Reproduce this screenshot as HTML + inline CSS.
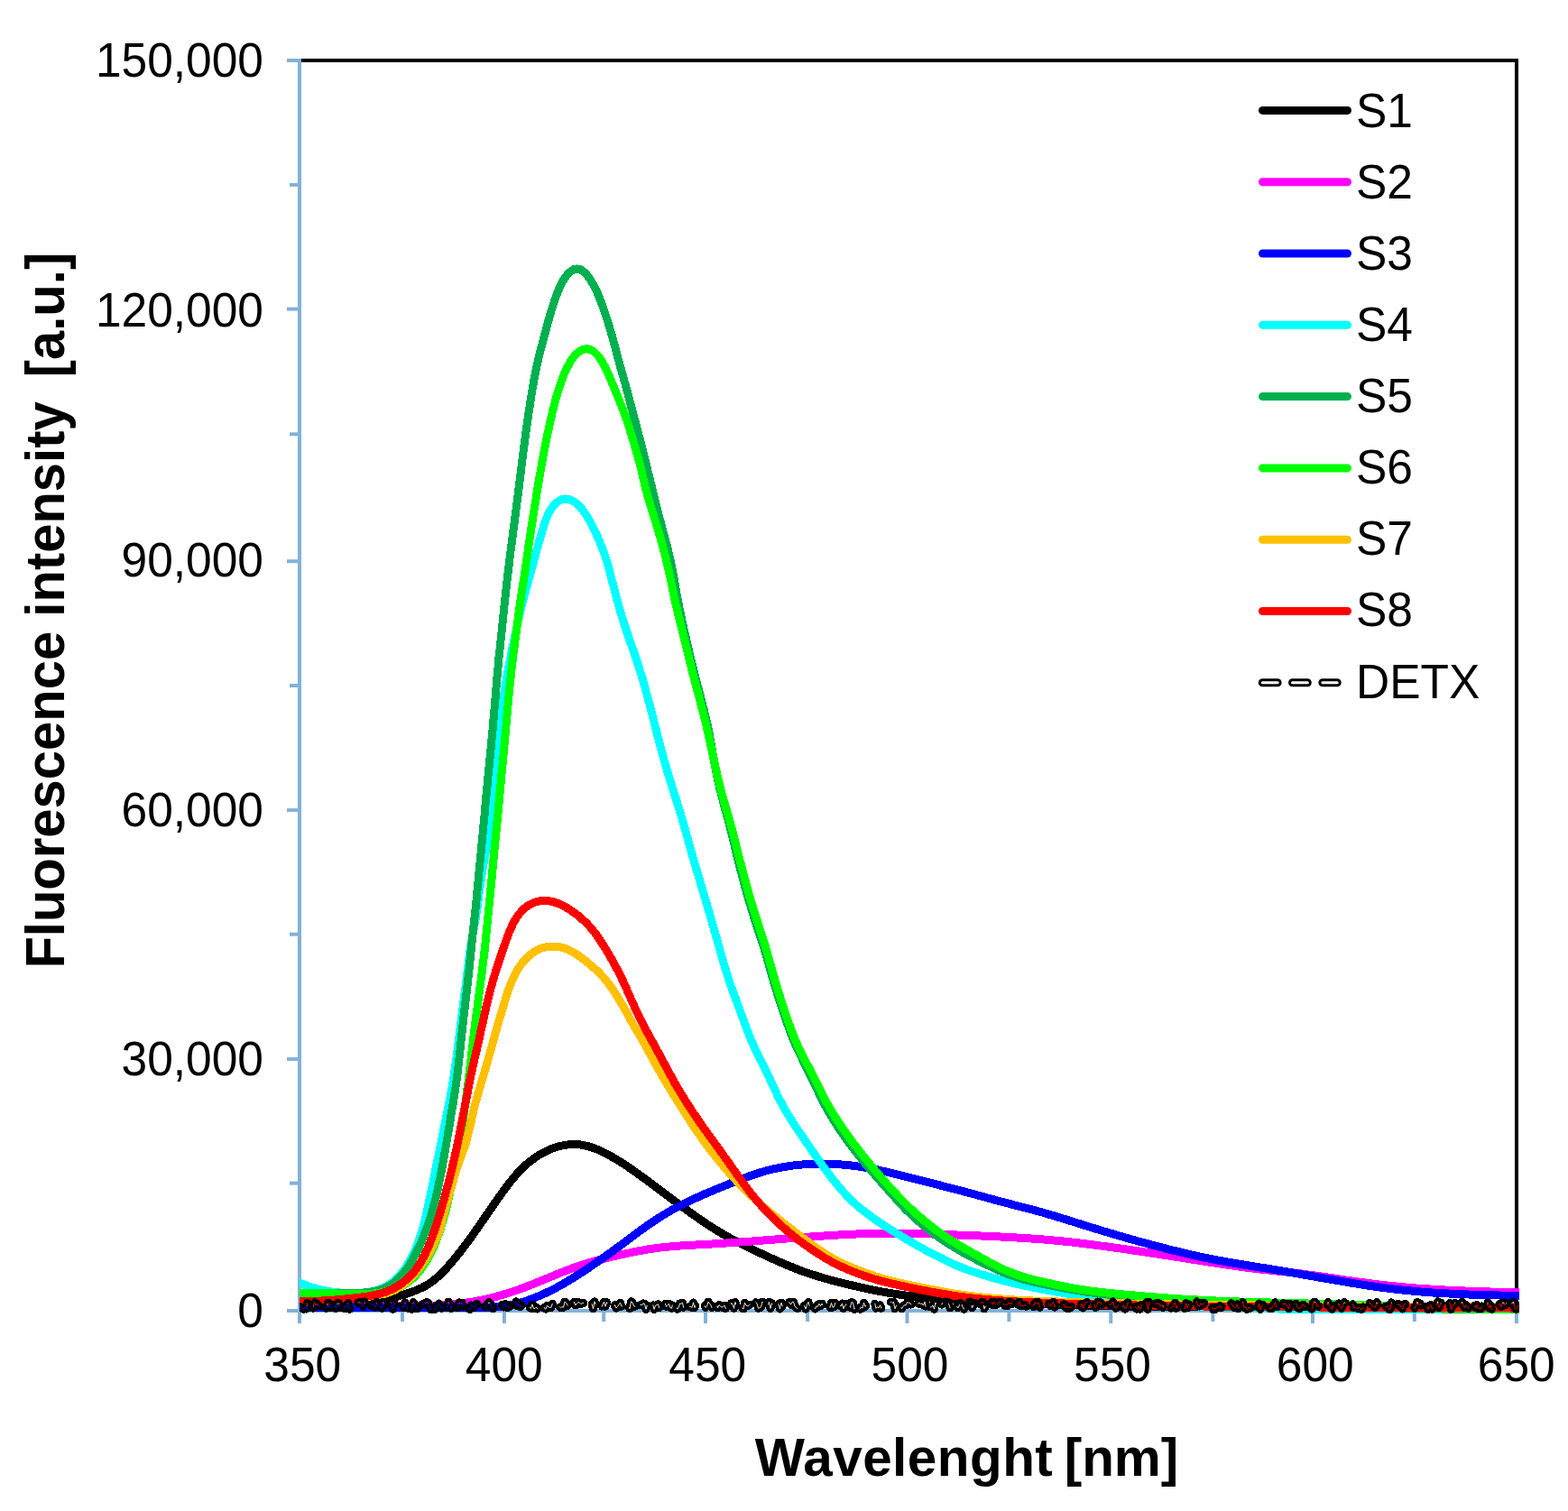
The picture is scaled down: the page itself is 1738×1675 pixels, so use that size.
<!DOCTYPE html>
<html><head><meta charset="utf-8"><title>Fluorescence spectra</title>
<style>
html,body{margin:0;padding:0;background:#fff;}
svg{display:block;}
text{font-family:'Liberation Sans',Arial,sans-serif;fill:#000;}
</style></head><body>
<svg width="1738" height="1675" viewBox="0 0 1738 1675">
<rect x="0" y="0" width="1738" height="1675" fill="#fff"/>

<defs><clipPath id="pc"><rect x="332" y="60" width="1352" height="1396"/></clipPath></defs>
<path d="M332,67 H1681 V1453" fill="none" stroke="#000" stroke-width="4"/>
<g stroke="#82B1D9" stroke-width="4" fill="none">
<path d="M332,65 V1455"/>
<path d="M330,1453 H1683"/>
<path d="M318,1453.0 H332"/>
<path d="M321,1311.6 H332"/>
<path d="M318,1174.1 H332"/>
<path d="M321,1035.7 H332"/>
<path d="M318,898.1 H332"/>
<path d="M321,760.0 H332"/>
<path d="M318,622.2 H332"/>
<path d="M321,481.3 H332"/>
<path d="M318,342.6 H332"/>
<path d="M321,204.9 H332"/>
<path d="M318,67.0 H332"/>
<path d="M332.0,1453 V1467"/>
<path d="M446.0,1453 V1465"/>
<path d="M559.0,1453 V1467"/>
<path d="M669.2,1453 V1465"/>
<path d="M782.0,1453 V1467"/>
<path d="M895.1,1453 V1465"/>
<path d="M1005.5,1453 V1467"/>
<path d="M1118.4,1453 V1465"/>
<path d="M1231.3,1453 V1467"/>
<path d="M1344.4,1453 V1465"/>
<path d="M1455.0,1453 V1467"/>
<path d="M1567.8,1453 V1465"/>
<path d="M1680.9,1453 V1467"/>
</g>
<g clip-path="url(#pc)" shape-rendering="crispEdges" fill="none" stroke-width="9" stroke-linejoin="round" stroke-linecap="round">
<path stroke="#000000" d="M330.0,1449.1 L332.0,1449.1 L334.0,1449.0 L336.0,1449.0 L338.0,1449.0 L340.0,1448.9 L342.0,1448.9 L344.0,1448.9 L346.0,1448.8 L348.0,1448.8 L350.0,1448.7 L352.1,1448.7 L354.1,1448.6 L356.1,1448.5 L358.1,1448.5 L360.1,1448.4 L362.1,1448.3 L364.1,1448.3 L366.1,1448.2 L368.1,1448.1 L370.1,1448.0 L372.1,1447.9 L374.1,1447.8 L376.1,1447.7 L378.1,1447.5 L380.1,1447.4 L382.1,1447.3 L384.1,1447.1 L386.1,1447.0 L388.1,1446.8 L390.1,1446.6 L392.1,1446.4 L394.1,1446.2 L396.1,1446.0 L398.0,1445.8 L400.0,1445.6 L402.0,1445.4 L404.0,1445.1 L406.0,1444.8 L408.0,1444.6 L410.0,1444.3 L411.9,1443.9 L413.9,1443.6 L415.9,1443.3 L417.8,1442.9 L419.8,1442.5 L421.8,1442.1 L423.7,1441.7 L425.7,1441.2 L427.6,1440.8 L429.6,1440.3 L431.5,1439.8 L433.4,1439.3 L435.4,1438.7 L437.3,1438.2 L439.2,1437.6 L441.2,1437.1 L443.1,1436.5 L445.0,1435.9 L446.9,1435.3 L448.8,1434.7 L450.7,1434.1 L452.6,1433.5 L454.5,1432.8 L456.3,1432.2 L458.2,1431.5 L460.0,1430.8 L461.9,1430.1 L463.7,1429.3 L465.4,1428.5 L467.2,1427.7 L469.0,1426.8 L470.7,1425.9 L472.4,1425.0 L474.0,1423.9 L475.7,1422.9 L477.3,1421.8 L478.8,1420.7 L480.4,1419.5 L481.9,1418.2 L483.5,1417.0 L484.9,1415.7 L486.4,1414.4 L487.9,1413.0 L489.3,1411.6 L490.7,1410.2 L492.1,1408.8 L493.5,1407.4 L494.8,1405.9 L496.2,1404.4 L497.5,1402.9 L498.8,1401.4 L500.1,1399.9 L501.4,1398.3 L502.7,1396.8 L504.0,1395.2 L505.3,1393.7 L506.5,1392.1 L507.8,1390.5 L509.0,1389.0 L510.3,1387.4 L511.5,1385.8 L512.7,1384.2 L514.0,1382.6 L515.2,1381.0 L516.4,1379.4 L517.6,1377.8 L518.8,1376.2 L520.0,1374.5 L521.1,1372.9 L522.3,1371.3 L523.5,1369.7 L524.6,1368.0 L525.8,1366.4 L526.9,1364.7 L528.1,1363.1 L529.2,1361.5 L530.4,1359.8 L531.5,1358.2 L532.7,1356.5 L533.8,1354.9 L535.0,1353.2 L536.1,1351.6 L537.2,1349.9 L538.4,1348.3 L539.5,1346.6 L540.7,1345.0 L541.8,1343.3 L542.9,1341.7 L544.1,1340.0 L545.2,1338.4 L546.4,1336.7 L547.5,1335.1 L548.6,1333.4 L549.8,1331.8 L550.9,1330.1 L552.1,1328.5 L553.3,1326.8 L554.4,1325.2 L555.6,1323.6 L556.8,1321.9 L557.9,1320.3 L559.1,1318.7 L560.3,1317.0 L561.5,1315.4 L562.7,1313.8 L564.0,1312.2 L565.2,1310.6 L566.4,1309.1 L567.7,1307.5 L569.0,1306.0 L570.3,1304.4 L571.6,1302.9 L572.9,1301.4 L574.3,1299.9 L575.6,1298.4 L577.0,1297.0 L578.4,1295.6 L579.9,1294.2 L581.3,1292.8 L582.8,1291.4 L584.3,1290.1 L585.8,1288.8 L587.4,1287.5 L589.0,1286.3 L590.6,1285.1 L592.2,1283.9 L593.8,1282.8 L595.5,1281.6 L597.2,1280.6 L598.9,1279.5 L600.7,1278.5 L602.4,1277.6 L604.2,1276.7 L606.0,1275.8 L607.8,1275.0 L609.7,1274.2 L611.5,1273.4 L613.4,1272.7 L615.3,1272.1 L617.2,1271.5 L619.1,1270.9 L621.1,1270.4 L623.0,1270.0 L624.9,1269.6 L626.9,1269.2 L628.9,1269.0 L630.8,1268.8 L632.8,1268.6 L634.7,1268.5 L636.7,1268.5 L638.7,1268.6 L640.6,1268.7 L642.6,1268.9 L644.5,1269.1 L646.5,1269.5 L648.4,1269.9 L650.3,1270.3 L652.2,1270.8 L654.1,1271.3 L656.0,1272.0 L657.9,1272.6 L659.8,1273.3 L661.6,1274.0 L663.5,1274.8 L665.3,1275.6 L667.1,1276.5 L668.9,1277.3 L670.7,1278.2 L672.5,1279.2 L674.3,1280.1 L676.1,1281.1 L677.8,1282.1 L679.6,1283.1 L681.3,1284.1 L683.1,1285.1 L684.8,1286.2 L686.5,1287.2 L688.2,1288.3 L689.9,1289.4 L691.6,1290.5 L693.3,1291.6 L695.0,1292.7 L696.6,1293.9 L698.3,1295.0 L700.0,1296.2 L701.6,1297.3 L703.3,1298.5 L704.9,1299.6 L706.6,1300.8 L708.2,1302.0 L709.8,1303.2 L711.4,1304.4 L713.1,1305.5 L714.7,1306.7 L716.3,1307.9 L717.9,1309.1 L719.5,1310.3 L721.1,1311.5 L722.7,1312.7 L724.3,1313.9 L726.0,1315.1 L727.6,1316.3 L729.2,1317.5 L730.8,1318.7 L732.4,1319.9 L734.0,1321.1 L735.6,1322.3 L737.2,1323.5 L738.8,1324.7 L740.4,1325.9 L742.0,1327.1 L743.6,1328.3 L745.2,1329.5 L746.8,1330.7 L748.4,1331.9 L750.1,1333.1 L751.7,1334.3 L753.3,1335.5 L754.9,1336.7 L756.5,1337.9 L758.1,1339.1 L759.7,1340.2 L761.3,1341.4 L763.0,1342.6 L764.6,1343.8 L766.2,1344.9 L767.8,1346.1 L769.5,1347.3 L771.1,1348.4 L772.8,1349.6 L774.4,1350.7 L776.0,1351.9 L777.7,1353.0 L779.4,1354.1 L781.0,1355.2 L782.7,1356.4 L784.3,1357.5 L786.0,1358.6 L787.7,1359.6 L789.4,1360.7 L791.1,1361.8 L792.8,1362.8 L794.5,1363.9 L796.2,1364.9 L797.9,1366.0 L799.6,1367.0 L801.4,1368.0 L803.1,1369.0 L804.8,1370.0 L806.6,1370.9 L808.3,1371.9 L810.1,1372.9 L811.9,1373.8 L813.6,1374.8 L815.4,1375.7 L817.2,1376.6 L818.9,1377.5 L820.7,1378.5 L822.5,1379.4 L824.3,1380.3 L826.1,1381.1 L827.9,1382.0 L829.7,1382.9 L831.5,1383.8 L833.3,1384.7 L835.1,1385.5 L836.9,1386.4 L838.7,1387.2 L840.6,1388.1 L842.4,1389.0 L844.2,1389.8 L846.0,1390.7 L847.8,1391.5 L849.6,1392.4 L851.5,1393.2 L853.3,1394.0 L855.1,1394.9 L856.9,1395.7 L858.8,1396.5 L860.6,1397.3 L862.4,1398.2 L864.2,1399.0 L866.1,1399.8 L867.9,1400.6 L869.8,1401.4 L871.6,1402.1 L873.5,1402.9 L875.3,1403.7 L877.2,1404.4 L879.0,1405.2 L880.9,1405.9 L882.7,1406.6 L884.6,1407.4 L886.5,1408.1 L888.4,1408.8 L890.2,1409.5 L892.1,1410.1 L894.0,1410.8 L895.9,1411.4 L897.8,1412.1 L899.7,1412.7 L901.6,1413.3 L903.5,1413.9 L905.4,1414.5 L907.3,1415.1 L909.3,1415.7 L911.2,1416.3 L913.1,1416.8 L915.0,1417.4 L917.0,1417.9 L918.9,1418.5 L920.8,1419.0 L922.8,1419.5 L924.7,1420.0 L926.6,1420.5 L928.6,1421.0 L930.5,1421.5 L932.5,1422.0 L934.4,1422.5 L936.4,1422.9 L938.3,1423.4 L940.2,1423.9 L942.2,1424.4 L944.2,1424.8 L946.1,1425.3 L948.1,1425.7 L950.0,1426.2 L952.0,1426.6 L953.9,1427.1 L955.9,1427.5 L957.8,1427.9 L959.8,1428.4 L961.7,1428.8 L963.7,1429.2 L965.7,1429.6 L967.6,1430.0 L969.6,1430.4 L971.6,1430.8 L973.5,1431.2 L975.5,1431.5 L977.5,1431.9 L979.4,1432.2 L981.4,1432.6 L983.4,1432.9 L985.4,1433.3 L987.3,1433.6 L989.3,1433.9 L991.3,1434.2 L993.3,1434.5 L995.3,1434.8 L997.2,1435.1 L999.2,1435.4 L1001.2,1435.7 L1003.2,1435.9 L1005.2,1436.2 L1007.2,1436.5 L1009.1,1436.7 L1011.1,1436.9 L1013.1,1437.2 L1015.1,1437.4 L1017.1,1437.6 L1019.1,1437.8 L1021.1,1438.0 L1023.1,1438.2 L1025.1,1438.4 L1027.1,1438.6 L1029.1,1438.7 L1031.1,1438.9 L1033.1,1439.1 L1035.1,1439.2 L1037.1,1439.4 L1039.1,1439.6 L1041.1,1439.7 L1043.1,1439.9 L1045.1,1440.0 L1047.0,1440.1 L1049.0,1440.3 L1051.0,1440.4 L1053.0,1440.6 L1055.0,1440.7 L1057.0,1440.9 L1059.0,1441.0 L1061.0,1441.1 L1063.0,1441.3 L1065.0,1441.4 L1067.0,1441.5 L1069.0,1441.7 L1071.0,1441.8 L1073.0,1441.9 L1075.0,1442.0 L1077.0,1442.2 L1079.0,1442.3 L1081.0,1442.4 L1083.0,1442.5 L1085.0,1442.7 L1087.0,1442.8 L1089.0,1442.9 L1091.0,1443.0 L1093.0,1443.1 L1095.0,1443.2 L1097.0,1443.3 L1099.0,1443.4 L1101.0,1443.5 L1103.0,1443.6 L1105.0,1443.7 L1107.0,1443.8 L1109.0,1443.9 L1111.1,1444.0 L1113.1,1444.1 L1115.1,1444.2 L1117.1,1444.3 L1119.1,1444.4 L1121.1,1444.5 L1123.1,1444.6 L1125.1,1444.7 L1127.1,1444.8 L1129.1,1444.8 L1131.1,1444.9 L1133.1,1445.0 L1135.1,1445.1 L1137.1,1445.2 L1139.1,1445.2 L1141.1,1445.3 L1143.1,1445.4 L1145.1,1445.4 L1147.1,1445.5 L1149.1,1445.6 L1151.1,1445.7 L1153.1,1445.7 L1155.1,1445.8 L1157.1,1445.9 L1159.1,1445.9 L1161.1,1446.0 L1163.1,1446.0 L1165.1,1446.1 L1167.1,1446.2 L1169.1,1446.2 L1171.1,1446.3 L1173.1,1446.3 L1175.1,1446.4 L1177.1,1446.4 L1179.1,1446.5 L1181.1,1446.5 L1183.1,1446.6 L1185.1,1446.7 L1187.1,1446.7 L1189.1,1446.8 L1191.1,1446.8 L1193.1,1446.8 L1195.2,1446.9 L1197.2,1446.9 L1199.2,1447.0 L1201.2,1447.0 L1203.2,1447.1 L1205.2,1447.1 L1207.2,1447.2 L1209.2,1447.2 L1211.2,1447.2 L1213.2,1447.3 L1215.2,1447.3 L1217.2,1447.4 L1219.2,1447.4 L1221.2,1447.4 L1223.2,1447.5 L1225.2,1447.5 L1227.2,1447.6 L1229.2,1447.6 L1231.2,1447.6 L1233.2,1447.7 L1235.2,1447.7 L1237.2,1447.7 L1239.2,1447.8 L1241.2,1447.8 L1243.2,1447.8 L1245.2,1447.9 L1247.2,1447.9 L1249.2,1447.9 L1251.2,1448.0 L1253.2,1448.0 L1255.2,1448.0 L1257.2,1448.0 L1259.3,1448.1 L1261.3,1448.1 L1263.3,1448.1 L1265.3,1448.2 L1267.3,1448.2 L1269.3,1448.2 L1271.3,1448.2 L1273.3,1448.3 L1275.3,1448.3 L1277.3,1448.3 L1279.3,1448.3 L1281.3,1448.4 L1283.3,1448.4 L1285.3,1448.4 L1287.3,1448.4 L1289.3,1448.5 L1291.3,1448.5 L1293.3,1448.5 L1295.3,1448.5 L1297.3,1448.5 L1299.3,1448.6 L1301.3,1448.6 L1303.3,1448.6 L1305.3,1448.6 L1307.3,1448.6 L1309.3,1448.7 L1311.3,1448.7 L1313.3,1448.7 L1315.3,1448.7 L1317.4,1448.7 L1319.4,1448.8 L1321.4,1448.8 L1323.4,1448.8 L1325.4,1448.8 L1327.4,1448.8 L1329.4,1448.8 L1331.4,1448.9 L1333.4,1448.9 L1335.4,1448.9 L1337.4,1448.9 L1339.4,1448.9 L1341.4,1448.9 L1343.4,1449.0 L1345.4,1449.0 L1347.4,1449.0 L1349.4,1449.0 L1351.4,1449.0 L1353.4,1449.0 L1355.4,1449.0 L1357.4,1449.1 L1359.4,1449.1 L1361.4,1449.1 L1363.4,1449.1 L1365.4,1449.1 L1367.4,1449.1 L1369.4,1449.1 L1371.4,1449.1 L1373.4,1449.2 L1375.5,1449.2 L1377.5,1449.2 L1379.5,1449.2 L1381.5,1449.2 L1383.5,1449.2 L1385.5,1449.2 L1387.5,1449.2 L1389.5,1449.3 L1391.5,1449.3 L1393.5,1449.3 L1395.5,1449.3 L1397.5,1449.3 L1399.5,1449.3 L1401.5,1449.3 L1403.5,1449.3 L1405.5,1449.4 L1407.5,1449.4 L1409.5,1449.4 L1411.5,1449.4 L1413.5,1449.4 L1415.5,1449.4 L1417.5,1449.4 L1419.5,1449.4 L1421.5,1449.4 L1423.5,1449.4 L1425.5,1449.5 L1427.5,1449.5 L1429.5,1449.5 L1431.5,1449.5 L1433.6,1449.5 L1435.6,1449.5 L1437.6,1449.5 L1439.6,1449.5 L1441.6,1449.5 L1443.6,1449.5 L1445.6,1449.5 L1447.6,1449.5 L1449.6,1449.6 L1451.6,1449.6 L1453.6,1449.6 L1455.6,1449.6 L1457.6,1449.6 L1459.6,1449.6 L1461.6,1449.6 L1463.6,1449.6 L1465.6,1449.6 L1467.6,1449.6 L1469.6,1449.6 L1471.6,1449.6 L1473.6,1449.6 L1475.6,1449.7 L1477.6,1449.7 L1479.6,1449.7 L1481.6,1449.7 L1483.6,1449.7 L1485.6,1449.7 L1487.6,1449.7 L1489.6,1449.7 L1491.7,1449.7 L1493.7,1449.7 L1495.7,1449.7 L1497.7,1449.7 L1499.7,1449.7 L1501.7,1449.7 L1503.7,1449.7 L1505.7,1449.7 L1507.7,1449.7 L1509.7,1449.8 L1511.7,1449.8 L1513.7,1449.8 L1515.7,1449.8 L1517.7,1449.8 L1519.7,1449.8 L1521.7,1449.8 L1523.7,1449.8 L1525.7,1449.8 L1527.7,1449.8 L1529.7,1449.8 L1531.7,1449.8 L1533.7,1449.8 L1535.7,1449.8 L1537.7,1449.8 L1539.7,1449.8 L1541.7,1449.8 L1543.7,1449.8 L1545.7,1449.8 L1547.8,1449.8 L1549.8,1449.8 L1551.8,1449.8 L1553.8,1449.8 L1555.8,1449.9 L1557.8,1449.9 L1559.8,1449.9 L1561.8,1449.9 L1563.8,1449.9 L1565.8,1449.9 L1567.8,1449.9 L1569.8,1449.9 L1571.8,1449.9 L1573.8,1449.9 L1575.8,1449.9 L1577.8,1449.9 L1579.8,1449.9 L1581.8,1449.9 L1583.8,1449.9 L1585.8,1449.9 L1587.8,1449.9 L1589.8,1449.9 L1591.8,1449.9 L1593.8,1449.9 L1595.8,1449.9 L1597.8,1449.9 L1599.8,1449.9 L1601.8,1449.9 L1603.8,1449.9 L1605.9,1449.9 L1607.9,1449.9 L1609.9,1449.9 L1611.9,1449.9 L1613.9,1449.9 L1615.9,1449.9 L1617.9,1449.9 L1619.9,1449.9 L1621.9,1449.9 L1623.9,1449.9 L1625.9,1449.9 L1627.9,1449.9 L1629.9,1450.0 L1631.9,1450.0 L1633.9,1450.0 L1635.9,1450.0 L1637.9,1450.0 L1639.9,1450.0 L1641.9,1450.0 L1643.9,1450.0 L1645.9,1450.0 L1647.9,1450.0 L1649.9,1450.0 L1651.9,1450.0 L1653.9,1450.0 L1655.9,1450.0 L1657.9,1450.0 L1659.9,1450.0 L1662.0,1450.0 L1664.0,1450.0 L1666.0,1450.0 L1668.0,1450.0 L1670.0,1450.0 L1672.0,1450.0 L1674.0,1450.0 L1676.0,1450.0 L1678.0,1450.0 L1680.0,1450.0 L1682.0,1450.0 L1684.0,1450.0 L1686.0,1450.0 L1688.0,1450.0 L1690.0,1450.0"/>
<path stroke="#FF00FF" d="M330.0,1448.0 L332.0,1448.0 L334.0,1448.0 L336.0,1448.0 L338.0,1448.0 L340.0,1448.0 L342.0,1448.0 L344.0,1448.0 L346.0,1448.0 L348.0,1448.0 L350.0,1448.0 L352.0,1448.0 L354.0,1448.0 L356.0,1448.0 L358.0,1448.0 L360.0,1448.0 L362.0,1448.0 L364.0,1448.1 L366.0,1448.1 L368.0,1448.1 L370.0,1448.1 L372.0,1448.1 L374.1,1448.1 L376.1,1448.1 L378.1,1448.1 L380.1,1448.1 L382.1,1448.1 L384.1,1448.1 L386.1,1448.0 L388.1,1448.0 L390.1,1448.0 L392.1,1448.0 L394.1,1448.0 L396.1,1448.0 L398.1,1448.0 L400.1,1448.0 L402.1,1448.0 L404.1,1448.0 L406.1,1448.0 L408.1,1448.0 L410.1,1448.0 L412.1,1448.0 L414.1,1448.0 L416.1,1448.0 L418.1,1448.0 L420.1,1448.0 L422.1,1448.0 L424.1,1447.9 L426.1,1447.9 L428.2,1447.9 L430.2,1447.9 L432.2,1447.9 L434.2,1447.9 L436.2,1447.9 L438.2,1447.9 L440.2,1447.8 L442.2,1447.8 L444.2,1447.8 L446.2,1447.8 L448.2,1447.8 L450.2,1447.8 L452.2,1447.7 L454.2,1447.7 L456.2,1447.7 L458.2,1447.7 L460.2,1447.6 L462.3,1447.6 L464.3,1447.6 L466.3,1447.5 L468.3,1447.5 L470.3,1447.5 L472.3,1447.4 L474.3,1447.3 L476.3,1447.3 L478.3,1447.2 L480.3,1447.1 L482.3,1447.1 L484.3,1447.0 L486.3,1446.9 L488.3,1446.8 L490.3,1446.7 L492.3,1446.5 L494.3,1446.4 L496.3,1446.3 L498.3,1446.1 L500.3,1445.9 L502.3,1445.8 L504.3,1445.6 L506.3,1445.4 L508.2,1445.2 L510.2,1444.9 L512.2,1444.7 L514.2,1444.5 L516.2,1444.2 L518.2,1443.9 L520.1,1443.6 L522.1,1443.3 L524.1,1443.0 L526.1,1442.7 L528.0,1442.3 L530.0,1441.9 L531.9,1441.5 L533.9,1441.1 L535.9,1440.7 L537.8,1440.3 L539.8,1439.9 L541.7,1439.4 L543.6,1438.9 L545.6,1438.4 L547.5,1437.9 L549.5,1437.4 L551.4,1436.9 L553.3,1436.4 L555.2,1435.8 L557.2,1435.3 L559.1,1434.7 L561.0,1434.1 L562.9,1433.5 L564.8,1432.9 L566.7,1432.3 L568.6,1431.6 L570.5,1431.0 L572.4,1430.4 L574.3,1429.7 L576.2,1429.0 L578.0,1428.3 L579.9,1427.7 L581.8,1427.0 L583.7,1426.3 L585.5,1425.5 L587.4,1424.8 L589.3,1424.1 L591.1,1423.3 L593.0,1422.6 L594.8,1421.8 L596.7,1421.1 L598.5,1420.3 L600.4,1419.6 L602.2,1418.8 L604.1,1418.0 L605.9,1417.3 L607.8,1416.5 L609.6,1415.7 L611.5,1415.0 L613.3,1414.2 L615.2,1413.4 L617.0,1412.7 L618.9,1411.9 L620.7,1411.1 L622.6,1410.4 L624.5,1409.6 L626.3,1408.9 L628.2,1408.2 L630.0,1407.5 L631.9,1406.8 L633.8,1406.1 L635.7,1405.4 L637.5,1404.7 L639.4,1404.0 L641.3,1403.4 L643.2,1402.7 L645.1,1402.1 L647.0,1401.5 L648.9,1400.9 L650.8,1400.3 L652.8,1399.7 L654.7,1399.2 L656.6,1398.6 L658.5,1398.1 L660.4,1397.5 L662.4,1397.0 L664.3,1396.5 L666.3,1396.0 L668.2,1395.5 L670.1,1395.0 L672.1,1394.5 L674.0,1394.1 L676.0,1393.6 L677.9,1393.1 L679.9,1392.7 L681.8,1392.3 L683.8,1391.8 L685.7,1391.4 L687.7,1390.9 L689.7,1390.5 L691.6,1390.1 L693.6,1389.7 L695.5,1389.3 L697.5,1388.9 L699.5,1388.4 L701.4,1388.0 L703.4,1387.7 L705.4,1387.3 L707.3,1386.9 L709.3,1386.5 L711.3,1386.2 L713.2,1385.8 L715.2,1385.5 L717.2,1385.1 L719.1,1384.8 L721.1,1384.5 L723.1,1384.2 L725.1,1383.9 L727.1,1383.6 L729.0,1383.4 L731.0,1383.1 L733.0,1382.9 L735.0,1382.7 L737.0,1382.5 L739.0,1382.2 L741.0,1382.1 L743.0,1381.9 L744.9,1381.7 L746.9,1381.5 L748.9,1381.4 L750.9,1381.2 L752.9,1381.1 L754.9,1380.9 L756.9,1380.8 L758.9,1380.7 L760.9,1380.6 L762.9,1380.4 L764.9,1380.3 L766.9,1380.2 L768.9,1380.1 L770.9,1380.0 L772.9,1379.9 L774.9,1379.8 L776.9,1379.7 L778.9,1379.6 L780.9,1379.5 L782.9,1379.4 L784.9,1379.2 L786.9,1379.1 L788.9,1379.0 L790.9,1378.9 L792.9,1378.8 L794.9,1378.6 L796.9,1378.5 L798.9,1378.4 L800.9,1378.3 L802.9,1378.1 L804.9,1378.0 L806.9,1377.8 L808.9,1377.7 L810.9,1377.6 L812.9,1377.4 L814.9,1377.3 L816.9,1377.1 L818.9,1377.0 L820.9,1376.8 L822.9,1376.7 L824.9,1376.6 L826.9,1376.4 L828.9,1376.3 L830.9,1376.1 L832.9,1376.0 L834.9,1375.8 L836.9,1375.7 L838.9,1375.5 L840.9,1375.4 L842.9,1375.2 L844.9,1375.1 L846.9,1374.9 L848.9,1374.8 L850.9,1374.6 L852.9,1374.5 L854.9,1374.3 L856.9,1374.2 L858.9,1374.0 L860.9,1373.8 L862.9,1373.7 L864.8,1373.5 L866.8,1373.4 L868.8,1373.2 L870.8,1373.1 L872.8,1372.9 L874.8,1372.8 L876.8,1372.6 L878.8,1372.5 L880.8,1372.3 L882.8,1372.2 L884.8,1372.0 L886.8,1371.9 L888.8,1371.7 L890.8,1371.6 L892.8,1371.4 L894.8,1371.3 L896.8,1371.1 L898.8,1371.0 L900.8,1370.8 L902.8,1370.7 L904.8,1370.6 L906.8,1370.4 L908.8,1370.3 L910.8,1370.1 L912.8,1370.0 L914.8,1369.9 L916.8,1369.7 L918.8,1369.6 L920.8,1369.5 L922.8,1369.4 L924.8,1369.2 L926.8,1369.1 L928.8,1369.0 L930.8,1368.9 L932.8,1368.8 L934.8,1368.7 L936.8,1368.6 L938.8,1368.5 L940.8,1368.4 L942.8,1368.3 L944.8,1368.2 L946.8,1368.1 L948.8,1368.0 L950.8,1367.9 L952.8,1367.9 L954.8,1367.8 L956.8,1367.7 L958.8,1367.7 L960.8,1367.6 L962.8,1367.5 L964.8,1367.5 L966.8,1367.4 L968.8,1367.4 L970.8,1367.4 L972.8,1367.3 L974.8,1367.3 L976.8,1367.3 L978.8,1367.2 L980.8,1367.2 L982.8,1367.2 L984.8,1367.2 L986.8,1367.2 L988.8,1367.2 L990.8,1367.2 L992.8,1367.2 L994.8,1367.2 L996.8,1367.2 L998.9,1367.2 L1000.9,1367.3 L1002.9,1367.3 L1004.9,1367.3 L1006.9,1367.3 L1008.9,1367.4 L1010.9,1367.4 L1012.9,1367.4 L1014.9,1367.5 L1016.9,1367.5 L1018.9,1367.6 L1020.9,1367.6 L1022.9,1367.7 L1024.9,1367.7 L1026.9,1367.8 L1028.9,1367.9 L1030.9,1367.9 L1032.9,1368.0 L1034.9,1368.0 L1036.9,1368.1 L1038.9,1368.2 L1040.9,1368.2 L1042.9,1368.3 L1044.9,1368.4 L1046.9,1368.5 L1048.9,1368.5 L1050.9,1368.6 L1052.9,1368.7 L1054.9,1368.7 L1056.9,1368.8 L1058.9,1368.9 L1060.9,1369.0 L1062.9,1369.0 L1064.9,1369.1 L1066.9,1369.2 L1068.9,1369.3 L1070.9,1369.3 L1072.9,1369.4 L1074.9,1369.5 L1076.9,1369.6 L1078.9,1369.7 L1080.9,1369.8 L1082.9,1369.8 L1084.9,1369.9 L1086.9,1370.0 L1088.9,1370.1 L1090.9,1370.2 L1092.9,1370.3 L1094.9,1370.4 L1096.9,1370.5 L1098.9,1370.6 L1101.0,1370.6 L1103.0,1370.7 L1105.0,1370.8 L1107.0,1370.9 L1109.0,1371.0 L1111.0,1371.1 L1113.0,1371.2 L1115.0,1371.3 L1117.0,1371.4 L1119.0,1371.5 L1121.0,1371.7 L1123.0,1371.8 L1125.0,1371.9 L1127.0,1372.0 L1129.0,1372.1 L1131.0,1372.2 L1133.0,1372.3 L1135.0,1372.4 L1137.0,1372.6 L1139.0,1372.7 L1141.0,1372.8 L1143.0,1373.0 L1144.9,1373.1 L1146.9,1373.2 L1148.9,1373.4 L1150.9,1373.5 L1152.9,1373.7 L1154.9,1373.8 L1156.9,1374.0 L1158.9,1374.2 L1160.9,1374.3 L1162.9,1374.5 L1164.9,1374.7 L1166.9,1374.9 L1168.9,1375.1 L1170.9,1375.2 L1172.9,1375.4 L1174.9,1375.6 L1176.9,1375.8 L1178.9,1376.1 L1180.9,1376.3 L1182.8,1376.5 L1184.8,1376.7 L1186.8,1376.9 L1188.8,1377.1 L1190.8,1377.4 L1192.8,1377.6 L1194.8,1377.8 L1196.8,1378.1 L1198.8,1378.3 L1200.8,1378.5 L1202.7,1378.8 L1204.7,1379.0 L1206.7,1379.3 L1208.7,1379.5 L1210.7,1379.8 L1212.7,1380.0 L1214.7,1380.3 L1216.7,1380.6 L1218.6,1380.8 L1220.6,1381.1 L1222.6,1381.3 L1224.6,1381.6 L1226.6,1381.9 L1228.6,1382.1 L1230.5,1382.4 L1232.5,1382.7 L1234.5,1383.0 L1236.5,1383.2 L1238.5,1383.5 L1240.5,1383.8 L1242.5,1384.1 L1244.4,1384.4 L1246.4,1384.7 L1248.4,1384.9 L1250.4,1385.2 L1252.4,1385.5 L1254.3,1385.8 L1256.3,1386.1 L1258.3,1386.4 L1260.3,1386.7 L1262.3,1387.0 L1264.3,1387.3 L1266.2,1387.6 L1268.2,1387.9 L1270.2,1388.2 L1272.2,1388.5 L1274.2,1388.8 L1276.1,1389.1 L1278.1,1389.4 L1280.1,1389.7 L1282.1,1390.0 L1284.1,1390.3 L1286.0,1390.6 L1288.0,1390.9 L1290.0,1391.2 L1292.0,1391.5 L1294.0,1391.8 L1295.9,1392.2 L1297.9,1392.5 L1299.9,1392.8 L1301.9,1393.1 L1303.8,1393.4 L1305.8,1393.7 L1307.8,1394.0 L1309.8,1394.3 L1311.8,1394.6 L1313.7,1394.9 L1315.7,1395.3 L1317.7,1395.6 L1319.7,1395.9 L1321.7,1396.2 L1323.6,1396.5 L1325.6,1396.8 L1327.6,1397.1 L1329.6,1397.4 L1331.6,1397.7 L1333.5,1398.1 L1335.5,1398.4 L1337.5,1398.7 L1339.5,1399.0 L1341.4,1399.3 L1343.4,1399.6 L1345.4,1399.9 L1347.4,1400.2 L1349.4,1400.5 L1351.3,1400.8 L1353.3,1401.1 L1355.3,1401.4 L1357.3,1401.7 L1359.3,1402.0 L1361.3,1402.3 L1363.2,1402.6 L1365.2,1402.9 L1367.2,1403.2 L1369.2,1403.5 L1371.2,1403.7 L1373.1,1404.0 L1375.1,1404.3 L1377.1,1404.6 L1379.1,1404.8 L1381.1,1405.1 L1383.1,1405.4 L1385.1,1405.6 L1387.0,1405.9 L1389.0,1406.1 L1391.0,1406.4 L1393.0,1406.6 L1395.0,1406.8 L1397.0,1407.1 L1399.0,1407.3 L1401.0,1407.5 L1403.0,1407.7 L1404.9,1407.9 L1406.9,1408.1 L1408.9,1408.4 L1410.9,1408.6 L1412.9,1408.8 L1414.9,1409.0 L1416.9,1409.2 L1418.9,1409.4 L1420.9,1409.6 L1422.9,1409.8 L1424.9,1410.0 L1426.8,1410.2 L1428.8,1410.5 L1430.8,1410.7 L1432.8,1410.9 L1434.8,1411.1 L1436.8,1411.4 L1438.8,1411.6 L1440.8,1411.8 L1442.8,1412.1 L1444.8,1412.3 L1446.7,1412.6 L1448.7,1412.8 L1450.7,1413.1 L1452.7,1413.3 L1454.7,1413.6 L1456.7,1413.9 L1458.6,1414.2 L1460.6,1414.4 L1462.6,1414.7 L1464.6,1415.0 L1466.6,1415.3 L1468.6,1415.6 L1470.5,1415.9 L1472.5,1416.2 L1474.5,1416.5 L1476.5,1416.8 L1478.5,1417.0 L1480.4,1417.3 L1482.4,1417.6 L1484.4,1417.9 L1486.4,1418.2 L1488.4,1418.5 L1490.4,1418.8 L1492.3,1419.1 L1494.3,1419.4 L1496.3,1419.6 L1498.3,1419.9 L1500.3,1420.2 L1502.3,1420.5 L1504.2,1420.8 L1506.2,1421.0 L1508.2,1421.3 L1510.2,1421.6 L1512.2,1421.8 L1514.2,1422.1 L1516.1,1422.4 L1518.1,1422.6 L1520.1,1422.9 L1522.1,1423.1 L1524.1,1423.4 L1526.1,1423.6 L1528.1,1423.9 L1530.1,1424.1 L1532.1,1424.3 L1534.0,1424.6 L1536.0,1424.8 L1538.0,1425.0 L1540.0,1425.2 L1542.0,1425.4 L1544.0,1425.6 L1546.0,1425.8 L1548.0,1426.0 L1550.0,1426.2 L1552.0,1426.4 L1554.0,1426.6 L1556.0,1426.8 L1558.0,1427.0 L1559.9,1427.2 L1561.9,1427.3 L1563.9,1427.5 L1565.9,1427.7 L1567.9,1427.8 L1569.9,1428.0 L1571.9,1428.1 L1573.9,1428.3 L1575.9,1428.4 L1577.9,1428.5 L1579.9,1428.7 L1581.9,1428.8 L1583.9,1428.9 L1585.9,1429.1 L1587.9,1429.2 L1589.9,1429.3 L1591.9,1429.4 L1593.9,1429.5 L1595.9,1429.7 L1597.9,1429.8 L1599.9,1429.9 L1601.9,1430.0 L1603.9,1430.1 L1605.9,1430.2 L1607.9,1430.3 L1609.9,1430.4 L1611.9,1430.5 L1613.9,1430.6 L1615.9,1430.6 L1617.9,1430.7 L1619.9,1430.8 L1621.9,1430.9 L1623.9,1431.0 L1625.9,1431.1 L1627.9,1431.1 L1629.9,1431.2 L1631.9,1431.3 L1633.9,1431.4 L1635.9,1431.4 L1637.9,1431.5 L1639.9,1431.6 L1641.9,1431.7 L1643.9,1431.7 L1645.9,1431.8 L1647.9,1431.8 L1649.9,1431.9 L1652.0,1432.0 L1654.0,1432.0 L1656.0,1432.1 L1658.0,1432.2 L1660.0,1432.2 L1662.0,1432.3 L1664.0,1432.3 L1666.0,1432.4 L1668.0,1432.4 L1670.0,1432.5 L1672.0,1432.6 L1674.0,1432.6 L1676.0,1432.7 L1678.0,1432.7 L1680.0,1432.8 L1682.0,1432.8 L1684.0,1432.9 L1686.0,1432.9 L1688.0,1433.0 L1690.0,1433.0"/>
<path stroke="#0000FF" d="M330.0,1449.5 L332.0,1449.5 L334.0,1449.5 L336.0,1449.5 L338.0,1449.5 L340.0,1449.5 L342.0,1449.5 L344.0,1449.5 L346.0,1449.5 L348.0,1449.5 L350.0,1449.5 L352.0,1449.5 L354.0,1449.5 L356.0,1449.4 L358.0,1449.4 L360.0,1449.4 L362.0,1449.4 L364.0,1449.4 L366.0,1449.4 L368.1,1449.4 L370.1,1449.4 L372.1,1449.4 L374.1,1449.4 L376.1,1449.4 L378.1,1449.4 L380.1,1449.4 L382.1,1449.4 L384.1,1449.4 L386.1,1449.4 L388.1,1449.4 L390.1,1449.4 L392.1,1449.4 L394.1,1449.4 L396.1,1449.4 L398.1,1449.4 L400.1,1449.4 L402.1,1449.4 L404.1,1449.4 L406.1,1449.4 L408.1,1449.4 L410.1,1449.4 L412.1,1449.4 L414.1,1449.4 L416.1,1449.4 L418.1,1449.4 L420.1,1449.4 L422.2,1449.4 L424.2,1449.4 L426.2,1449.4 L428.2,1449.5 L430.2,1449.5 L432.2,1449.5 L434.2,1449.5 L436.2,1449.5 L438.2,1449.5 L440.2,1449.5 L442.2,1449.5 L444.2,1449.5 L446.2,1449.5 L448.2,1449.5 L450.2,1449.5 L452.2,1449.5 L454.2,1449.6 L456.2,1449.6 L458.3,1449.6 L460.3,1449.6 L462.3,1449.6 L464.3,1449.6 L466.3,1449.6 L468.3,1449.6 L470.3,1449.6 L472.3,1449.7 L474.3,1449.7 L476.3,1449.7 L478.3,1449.7 L480.3,1449.7 L482.3,1449.7 L484.3,1449.7 L486.4,1449.7 L488.4,1449.7 L490.4,1449.8 L492.4,1449.8 L494.4,1449.8 L496.4,1449.8 L498.4,1449.8 L500.4,1449.8 L502.4,1449.8 L504.4,1449.8 L506.4,1449.8 L508.5,1449.8 L510.5,1449.8 L512.5,1449.8 L514.5,1449.8 L516.5,1449.8 L518.5,1449.8 L520.5,1449.8 L522.5,1449.8 L524.5,1449.8 L526.5,1449.8 L528.6,1449.8 L530.6,1449.8 L532.6,1449.7 L534.6,1449.7 L536.6,1449.6 L538.6,1449.6 L540.6,1449.5 L542.6,1449.4 L544.6,1449.3 L546.6,1449.2 L548.5,1449.0 L550.5,1448.9 L552.5,1448.7 L554.5,1448.5 L556.5,1448.2 L558.4,1448.0 L560.4,1447.7 L562.3,1447.3 L564.3,1447.0 L566.2,1446.6 L568.2,1446.2 L570.1,1445.8 L572.1,1445.3 L574.0,1444.8 L575.9,1444.3 L577.8,1443.8 L579.7,1443.2 L581.6,1442.6 L583.5,1442.0 L585.4,1441.3 L587.3,1440.6 L589.1,1440.0 L591.0,1439.3 L592.9,1438.5 L594.7,1437.8 L596.6,1437.0 L598.4,1436.2 L600.2,1435.4 L602.1,1434.6 L603.9,1433.8 L605.7,1432.9 L607.5,1432.1 L609.3,1431.2 L611.1,1430.3 L612.9,1429.4 L614.7,1428.5 L616.5,1427.6 L618.2,1426.6 L620.0,1425.6 L621.8,1424.7 L623.5,1423.7 L625.2,1422.7 L627.0,1421.7 L628.7,1420.7 L630.4,1419.6 L632.1,1418.6 L633.8,1417.5 L635.6,1416.5 L637.3,1415.4 L638.9,1414.3 L640.6,1413.3 L642.3,1412.2 L644.0,1411.1 L645.7,1410.0 L647.4,1408.9 L649.0,1407.8 L650.7,1406.7 L652.4,1405.5 L654.0,1404.4 L655.7,1403.3 L657.3,1402.2 L659.0,1401.0 L660.6,1399.9 L662.3,1398.7 L663.9,1397.6 L665.6,1396.5 L667.2,1395.3 L668.9,1394.2 L670.5,1393.0 L672.1,1391.8 L673.8,1390.7 L675.4,1389.5 L677.0,1388.3 L678.7,1387.2 L680.3,1386.0 L681.9,1384.8 L683.5,1383.6 L685.1,1382.4 L686.7,1381.3 L688.4,1380.1 L690.0,1378.9 L691.6,1377.7 L693.2,1376.5 L694.8,1375.3 L696.4,1374.1 L698.0,1372.9 L699.6,1371.7 L701.2,1370.5 L702.8,1369.3 L704.4,1368.1 L706.0,1366.9 L707.6,1365.7 L709.3,1364.5 L710.9,1363.3 L712.5,1362.2 L714.1,1361.0 L715.8,1359.8 L717.4,1358.7 L719.0,1357.5 L720.7,1356.4 L722.3,1355.3 L724.0,1354.1 L725.7,1353.0 L727.3,1351.9 L729.0,1350.8 L730.7,1349.8 L732.4,1348.7 L734.1,1347.6 L735.8,1346.6 L737.5,1345.6 L739.2,1344.5 L740.9,1343.5 L742.7,1342.5 L744.4,1341.5 L746.2,1340.6 L747.9,1339.6 L749.7,1338.7 L751.4,1337.7 L753.2,1336.8 L755.0,1335.9 L756.8,1335.0 L758.6,1334.1 L760.4,1333.2 L762.2,1332.3 L764.0,1331.5 L765.8,1330.6 L767.6,1329.8 L769.4,1328.9 L771.2,1328.1 L773.1,1327.3 L774.9,1326.4 L776.7,1325.6 L778.6,1324.8 L780.4,1324.0 L782.2,1323.2 L784.1,1322.4 L785.9,1321.7 L787.8,1320.9 L789.6,1320.1 L791.5,1319.3 L793.3,1318.5 L795.2,1317.8 L797.1,1317.0 L798.9,1316.2 L800.8,1315.5 L802.6,1314.7 L804.5,1314.0 L806.4,1313.2 L808.2,1312.5 L810.1,1311.7 L811.9,1311.0 L813.8,1310.2 L815.7,1309.5 L817.5,1308.8 L819.4,1308.0 L821.3,1307.3 L823.2,1306.6 L825.0,1305.9 L826.9,1305.2 L828.8,1304.5 L830.7,1303.8 L832.6,1303.2 L834.4,1302.5 L836.3,1301.9 L838.2,1301.2 L840.1,1300.6 L842.0,1300.0 L844.0,1299.4 L845.9,1298.9 L847.8,1298.3 L849.7,1297.8 L851.7,1297.3 L853.6,1296.8 L855.5,1296.3 L857.5,1295.8 L859.4,1295.4 L861.4,1295.0 L863.3,1294.6 L865.3,1294.2 L867.3,1293.8 L869.2,1293.5 L871.2,1293.2 L873.2,1292.9 L875.1,1292.6 L877.1,1292.3 L879.1,1292.0 L881.1,1291.8 L883.1,1291.6 L885.1,1291.4 L887.1,1291.2 L889.1,1291.0 L891.1,1290.9 L893.1,1290.7 L895.1,1290.6 L897.1,1290.5 L899.1,1290.4 L901.1,1290.3 L903.1,1290.2 L905.1,1290.2 L907.1,1290.1 L909.1,1290.1 L911.1,1290.1 L913.1,1290.1 L915.1,1290.1 L917.1,1290.2 L919.1,1290.2 L921.1,1290.3 L923.1,1290.4 L925.1,1290.5 L927.1,1290.6 L929.1,1290.7 L931.1,1290.8 L933.1,1291.0 L935.1,1291.1 L937.1,1291.3 L939.1,1291.5 L941.1,1291.7 L943.1,1291.9 L945.1,1292.2 L947.1,1292.4 L949.0,1292.7 L951.0,1293.0 L953.0,1293.3 L955.0,1293.6 L957.0,1293.9 L958.9,1294.3 L960.9,1294.6 L962.9,1295.0 L964.8,1295.3 L966.8,1295.7 L968.8,1296.1 L970.7,1296.5 L972.7,1296.9 L974.7,1297.3 L976.6,1297.8 L978.6,1298.2 L980.5,1298.6 L982.5,1299.1 L984.4,1299.5 L986.4,1300.0 L988.4,1300.5 L990.3,1300.9 L992.3,1301.4 L994.2,1301.9 L996.1,1302.3 L998.1,1302.8 L1000.0,1303.3 L1002.0,1303.8 L1003.9,1304.3 L1005.9,1304.8 L1007.8,1305.3 L1009.8,1305.8 L1011.7,1306.3 L1013.7,1306.7 L1015.6,1307.2 L1017.5,1307.7 L1019.5,1308.2 L1021.4,1308.7 L1023.4,1309.2 L1025.3,1309.7 L1027.3,1310.2 L1029.2,1310.7 L1031.1,1311.2 L1033.1,1311.7 L1035.0,1312.2 L1037.0,1312.7 L1038.9,1313.2 L1040.8,1313.7 L1042.8,1314.2 L1044.7,1314.7 L1046.7,1315.2 L1048.6,1315.7 L1050.5,1316.2 L1052.5,1316.7 L1054.4,1317.2 L1056.4,1317.7 L1058.3,1318.2 L1060.2,1318.7 L1062.2,1319.2 L1064.1,1319.7 L1066.1,1320.2 L1068.0,1320.7 L1069.9,1321.3 L1071.9,1321.8 L1073.8,1322.3 L1075.7,1322.8 L1077.7,1323.3 L1079.6,1323.8 L1081.5,1324.4 L1083.5,1324.9 L1085.4,1325.4 L1087.3,1326.0 L1089.3,1326.5 L1091.2,1327.0 L1093.1,1327.5 L1095.1,1328.1 L1097.0,1328.6 L1098.9,1329.1 L1100.9,1329.7 L1102.8,1330.2 L1104.7,1330.7 L1106.7,1331.2 L1108.6,1331.8 L1110.5,1332.3 L1112.5,1332.8 L1114.4,1333.3 L1116.3,1333.8 L1118.3,1334.3 L1120.2,1334.8 L1122.2,1335.3 L1124.1,1335.8 L1126.0,1336.3 L1128.0,1336.8 L1129.9,1337.3 L1131.9,1337.8 L1133.8,1338.3 L1135.7,1338.8 L1137.7,1339.3 L1139.6,1339.8 L1141.5,1340.3 L1143.5,1340.8 L1145.4,1341.3 L1147.4,1341.8 L1149.3,1342.4 L1151.2,1342.9 L1153.1,1343.4 L1155.1,1344.0 L1157.0,1344.5 L1158.9,1345.1 L1160.8,1345.6 L1162.8,1346.2 L1164.7,1346.8 L1166.6,1347.3 L1168.5,1347.9 L1170.4,1348.5 L1172.4,1349.1 L1174.3,1349.7 L1176.2,1350.3 L1178.1,1350.8 L1180.0,1351.4 L1181.9,1352.0 L1183.8,1352.6 L1185.8,1353.2 L1187.7,1353.8 L1189.6,1354.4 L1191.5,1355.0 L1193.4,1355.6 L1195.3,1356.2 L1197.2,1356.8 L1199.1,1357.4 L1201.1,1358.0 L1203.0,1358.6 L1204.9,1359.2 L1206.8,1359.8 L1208.7,1360.4 L1210.6,1361.0 L1212.5,1361.6 L1214.5,1362.2 L1216.4,1362.7 L1218.3,1363.3 L1220.2,1363.9 L1222.1,1364.5 L1224.0,1365.1 L1226.0,1365.6 L1227.9,1366.2 L1229.8,1366.8 L1231.7,1367.4 L1233.6,1367.9 L1235.6,1368.5 L1237.5,1369.1 L1239.4,1369.6 L1241.3,1370.2 L1243.3,1370.8 L1245.2,1371.3 L1247.1,1371.9 L1249.0,1372.4 L1251.0,1373.0 L1252.9,1373.5 L1254.8,1374.1 L1256.7,1374.6 L1258.7,1375.1 L1260.6,1375.7 L1262.5,1376.2 L1264.5,1376.7 L1266.4,1377.3 L1268.3,1377.8 L1270.3,1378.3 L1272.2,1378.8 L1274.1,1379.4 L1276.1,1379.9 L1278.0,1380.4 L1279.9,1380.9 L1281.9,1381.4 L1283.8,1381.9 L1285.8,1382.4 L1287.7,1382.9 L1289.6,1383.4 L1291.6,1383.9 L1293.5,1384.4 L1295.5,1384.9 L1297.4,1385.4 L1299.4,1385.9 L1301.3,1386.4 L1303.3,1386.8 L1305.2,1387.3 L1307.1,1387.8 L1309.1,1388.2 L1311.0,1388.7 L1313.0,1389.2 L1314.9,1389.6 L1316.9,1390.1 L1318.9,1390.5 L1320.8,1391.0 L1322.8,1391.4 L1324.7,1391.9 L1326.7,1392.3 L1328.6,1392.7 L1330.6,1393.2 L1332.5,1393.6 L1334.5,1394.0 L1336.5,1394.4 L1338.4,1394.8 L1340.4,1395.2 L1342.3,1395.6 L1344.3,1396.0 L1346.3,1396.4 L1348.2,1396.7 L1350.2,1397.1 L1352.2,1397.5 L1354.2,1397.8 L1356.1,1398.2 L1358.1,1398.6 L1360.1,1398.9 L1362.0,1399.2 L1364.0,1399.6 L1366.0,1399.9 L1368.0,1400.3 L1369.9,1400.6 L1371.9,1400.9 L1373.9,1401.3 L1375.9,1401.6 L1377.8,1401.9 L1379.8,1402.2 L1381.8,1402.6 L1383.8,1402.9 L1385.8,1403.2 L1387.7,1403.5 L1389.7,1403.8 L1391.7,1404.2 L1393.7,1404.5 L1395.7,1404.8 L1397.6,1405.1 L1399.6,1405.4 L1401.6,1405.7 L1403.6,1406.1 L1405.5,1406.4 L1407.5,1406.7 L1409.5,1407.0 L1411.5,1407.3 L1413.5,1407.7 L1415.4,1408.0 L1417.4,1408.3 L1419.4,1408.6 L1421.4,1409.0 L1423.3,1409.3 L1425.3,1409.6 L1427.3,1410.0 L1429.3,1410.3 L1431.2,1410.7 L1433.2,1411.0 L1435.2,1411.3 L1437.2,1411.7 L1439.1,1412.0 L1441.1,1412.4 L1443.1,1412.7 L1445.1,1413.1 L1447.0,1413.4 L1449.0,1413.7 L1451.0,1414.1 L1453.0,1414.4 L1454.9,1414.8 L1456.9,1415.1 L1458.9,1415.5 L1460.9,1415.8 L1462.8,1416.2 L1464.8,1416.5 L1466.8,1416.9 L1468.8,1417.2 L1470.7,1417.6 L1472.7,1417.9 L1474.7,1418.2 L1476.6,1418.6 L1478.6,1418.9 L1480.6,1419.3 L1482.6,1419.6 L1484.5,1419.9 L1486.5,1420.3 L1488.5,1420.6 L1490.5,1420.9 L1492.5,1421.3 L1494.4,1421.6 L1496.4,1421.9 L1498.4,1422.3 L1500.4,1422.6 L1502.3,1422.9 L1504.3,1423.2 L1506.3,1423.5 L1508.3,1423.9 L1510.3,1424.2 L1512.2,1424.5 L1514.2,1424.8 L1516.2,1425.1 L1518.2,1425.4 L1520.2,1425.7 L1522.1,1426.0 L1524.1,1426.3 L1526.1,1426.5 L1528.1,1426.8 L1530.1,1427.1 L1532.1,1427.4 L1534.1,1427.6 L1536.0,1427.9 L1538.0,1428.1 L1540.0,1428.4 L1542.0,1428.7 L1544.0,1428.9 L1546.0,1429.1 L1548.0,1429.4 L1550.0,1429.6 L1551.9,1429.8 L1553.9,1430.0 L1555.9,1430.2 L1557.9,1430.4 L1559.9,1430.6 L1561.9,1430.8 L1563.9,1431.0 L1565.9,1431.2 L1567.9,1431.4 L1569.9,1431.6 L1571.9,1431.7 L1573.9,1431.9 L1575.9,1432.1 L1577.9,1432.2 L1579.9,1432.4 L1581.9,1432.5 L1583.9,1432.7 L1585.9,1432.8 L1587.9,1433.0 L1589.9,1433.1 L1591.9,1433.2 L1593.9,1433.4 L1595.9,1433.5 L1597.9,1433.6 L1599.9,1433.7 L1601.9,1433.8 L1603.9,1433.9 L1605.9,1434.0 L1607.9,1434.1 L1609.9,1434.2 L1611.9,1434.3 L1613.9,1434.4 L1615.9,1434.5 L1617.9,1434.6 L1619.9,1434.7 L1621.9,1434.8 L1623.9,1434.9 L1625.9,1434.9 L1627.9,1435.0 L1629.9,1435.1 L1631.9,1435.2 L1633.9,1435.2 L1635.9,1435.3 L1637.9,1435.3 L1639.9,1435.4 L1641.9,1435.5 L1643.9,1435.5 L1645.9,1435.6 L1647.9,1435.6 L1649.9,1435.7 L1651.9,1435.7 L1653.9,1435.8 L1655.9,1435.8 L1657.9,1435.9 L1659.9,1435.9 L1661.9,1436.0 L1663.9,1436.0 L1666.0,1436.1 L1668.0,1436.1 L1670.0,1436.2 L1672.0,1436.2 L1674.0,1436.2 L1676.0,1436.3 L1678.0,1436.3 L1680.0,1436.4 L1682.0,1436.4 L1684.0,1436.4 L1686.0,1436.5 L1688.0,1436.5 L1690.0,1436.5"/>
<path stroke="#00FFFF" d="M329.9,1421.3 L331.8,1422.0 L333.7,1422.7 L335.5,1423.4 L337.4,1424.1 L339.3,1424.8 L341.2,1425.5 L343.1,1426.1 L345.0,1426.8 L346.9,1427.4 L348.8,1428.0 L350.7,1428.5 L352.6,1429.0 L354.6,1429.5 L356.5,1430.0 L358.4,1430.4 L360.4,1430.8 L362.4,1431.2 L364.3,1431.5 L366.3,1431.8 L368.3,1432.1 L370.3,1432.4 L372.3,1432.6 L374.3,1432.8 L376.3,1433.0 L378.3,1433.1 L380.3,1433.2 L382.3,1433.3 L384.3,1433.4 L386.4,1433.5 L388.4,1433.5 L390.4,1433.5 L392.4,1433.5 L394.4,1433.5 L396.4,1433.4 L398.5,1433.3 L400.5,1433.2 L402.5,1433.0 L404.5,1432.8 L406.5,1432.6 L408.5,1432.3 L410.4,1432.0 L412.4,1431.6 L414.3,1431.2 L416.3,1430.7 L418.2,1430.1 L420.0,1429.5 L421.9,1428.8 L423.7,1428.0 L425.5,1427.2 L427.3,1426.3 L429.0,1425.4 L430.7,1424.4 L432.3,1423.3 L433.9,1422.1 L435.5,1420.9 L437.0,1419.6 L438.5,1418.3 L439.9,1416.9 L441.3,1415.5 L442.7,1414.0 L444.0,1412.5 L445.3,1411.0 L446.5,1409.4 L447.7,1407.8 L448.9,1406.2 L450.0,1404.5 L451.1,1402.8 L452.2,1401.1 L453.2,1399.4 L454.2,1397.6 L455.2,1395.8 L456.1,1394.1 L457.0,1392.3 L457.9,1390.4 L458.8,1388.6 L459.6,1386.8 L460.4,1385.0 L461.2,1383.1 L462.0,1381.2 L462.7,1379.4 L463.5,1377.5 L464.1,1375.6 L464.8,1373.7 L465.5,1371.8 L466.1,1369.9 L466.7,1368.0 L467.3,1366.1 L467.9,1364.2 L468.4,1362.2 L469.0,1360.3 L469.5,1358.4 L470.0,1356.4 L470.5,1354.5 L471.0,1352.5 L471.5,1350.6 L471.9,1348.6 L472.4,1346.7 L472.8,1344.7 L473.3,1342.8 L473.7,1340.8 L474.1,1338.9 L474.5,1336.9 L475.0,1334.9 L475.4,1333.0 L475.8,1331.0 L476.2,1329.1 L476.6,1327.1 L477.0,1325.1 L477.4,1323.2 L477.8,1321.2 L478.2,1319.2 L478.6,1317.3 L479.0,1315.3 L479.4,1313.4 L479.8,1311.4 L480.2,1309.4 L480.6,1307.5 L481.0,1305.5 L481.4,1303.5 L481.8,1301.6 L482.2,1299.6 L482.6,1297.7 L483.0,1295.7 L483.4,1293.7 L483.8,1291.8 L484.2,1289.8 L484.6,1287.9 L485.0,1285.9 L485.4,1283.9 L485.8,1282.0 L486.2,1280.0 L486.7,1278.0 L487.1,1276.1 L487.5,1274.1 L487.9,1272.2 L488.3,1270.2 L488.7,1268.2 L489.1,1266.3 L489.5,1264.3 L489.8,1262.3 L490.2,1260.4 L490.6,1258.4 L491.0,1256.5 L491.4,1254.5 L491.8,1252.5 L492.2,1250.6 L492.6,1248.6 L493.0,1246.6 L493.3,1244.7 L493.7,1242.7 L494.1,1240.7 L494.5,1238.8 L494.9,1236.8 L495.3,1234.8 L495.7,1232.9 L496.1,1230.9 L496.5,1229.0 L496.9,1227.0 L497.3,1225.0 L497.6,1223.1 L498.0,1221.1 L498.4,1219.1 L498.8,1217.2 L499.2,1215.2 L499.5,1213.2 L499.9,1211.3 L500.3,1209.3 L500.6,1207.3 L501.0,1205.4 L501.3,1203.4 L501.7,1201.4 L502.0,1199.4 L502.3,1197.5 L502.7,1195.5 L503.0,1193.5 L503.3,1191.5 L503.6,1189.5 L503.9,1187.6 L504.2,1185.6 L504.5,1183.6 L504.7,1181.6 L505.0,1179.6 L505.3,1177.7 L505.6,1175.7 L505.8,1173.7 L506.1,1171.7 L506.3,1169.7 L506.6,1167.7 L506.9,1165.7 L507.1,1163.8 L507.4,1161.8 L507.6,1159.8 L507.8,1157.8 L508.1,1155.8 L508.3,1153.8 L508.6,1151.8 L508.8,1149.8 L509.1,1147.8 L509.3,1145.9 L509.6,1143.9 L509.8,1141.9 L510.1,1139.9 L510.3,1137.9 L510.6,1135.9 L510.8,1133.9 L511.1,1131.9 L511.3,1130.0 L511.6,1128.0 L511.8,1126.0 L512.1,1124.0 L512.4,1122.0 L512.6,1120.0 L512.9,1118.0 L513.1,1116.1 L513.4,1114.1 L513.6,1112.1 L513.9,1110.1 L514.2,1108.1 L514.4,1106.1 L514.7,1104.1 L514.9,1102.2 L515.2,1100.2 L515.5,1098.2 L515.7,1096.2 L516.0,1094.2 L516.2,1092.2 L516.5,1090.2 L516.7,1088.3 L517.0,1086.3 L517.2,1084.3 L517.4,1082.3 L517.7,1080.3 L517.9,1078.3 L518.2,1076.3 L518.4,1074.3 L518.6,1072.3 L518.9,1070.4 L519.1,1068.4 L519.4,1066.4 L519.6,1064.4 L519.9,1062.4 L520.1,1060.4 L520.4,1058.4 L520.7,1056.5 L520.9,1054.5 L521.2,1052.5 L521.5,1050.5 L521.8,1048.5 L522.1,1046.6 L522.5,1044.6 L522.8,1042.6 L523.1,1040.6 L523.5,1038.7 L523.8,1036.7 L524.2,1034.7 L524.6,1032.8 L524.9,1030.8 L525.3,1028.8 L525.6,1026.8 L526.0,1024.9 L526.4,1022.9 L526.7,1020.9 L527.1,1019.0 L527.4,1017.0 L527.7,1015.0 L528.0,1013.0 L528.4,1011.1 L528.7,1009.1 L528.9,1007.1 L529.2,1005.1 L529.5,1003.1 L529.8,1001.1 L530.0,999.2 L530.3,997.2 L530.5,995.2 L530.8,993.2 L531.0,991.2 L531.3,989.2 L531.5,987.2 L531.8,985.3 L532.1,983.3 L532.3,981.3 L532.6,979.3 L532.9,977.3 L533.2,975.3 L533.4,973.4 L533.7,971.4 L534.1,969.4 L534.4,967.4 L534.7,965.4 L535.0,963.5 L535.3,961.5 L535.7,959.5 L536.0,957.5 L536.3,955.6 L536.7,953.6 L537.0,951.6 L537.3,949.7 L537.7,947.7 L538.0,945.7 L538.3,943.7 L538.7,941.7 L539.0,939.8 L539.3,937.8 L539.6,935.8 L539.9,933.8 L540.2,931.9 L540.5,929.9 L540.8,927.9 L541.0,925.9 L541.3,923.9 L541.6,921.9 L541.9,920.0 L542.1,918.0 L542.4,916.0 L542.6,914.0 L542.9,912.0 L543.1,910.0 L543.4,908.0 L543.6,906.0 L543.9,904.1 L544.1,902.1 L544.3,900.1 L544.6,898.1 L544.8,896.1 L545.0,894.1 L545.2,892.1 L545.4,890.1 L545.6,888.1 L545.9,886.1 L546.1,884.1 L546.3,882.2 L546.5,880.2 L546.7,878.2 L546.8,876.2 L547.0,874.2 L547.2,872.2 L547.4,870.2 L547.6,868.2 L547.8,866.2 L548.0,864.2 L548.1,862.2 L548.3,860.2 L548.5,858.2 L548.7,856.2 L548.9,854.2 L549.0,852.2 L549.2,850.2 L549.4,848.2 L549.6,846.2 L549.7,844.2 L549.9,842.3 L550.1,840.3 L550.3,838.3 L550.4,836.3 L550.6,834.3 L550.8,832.3 L551.0,830.3 L551.2,828.3 L551.4,826.3 L551.6,824.3 L551.8,822.3 L552.0,820.3 L552.2,818.3 L552.4,816.3 L552.6,814.3 L552.8,812.4 L553.0,810.4 L553.2,808.4 L553.5,806.4 L553.7,804.4 L553.9,802.4 L554.2,800.4 L554.4,798.4 L554.7,796.5 L555.0,794.5 L555.2,792.5 L555.5,790.5 L555.8,788.5 L556.1,786.5 L556.3,784.5 L556.6,782.6 L556.9,780.6 L557.2,778.6 L557.5,776.6 L557.8,774.6 L558.1,772.7 L558.5,770.7 L558.8,768.7 L559.1,766.7 L559.4,764.8 L559.7,762.8 L560.1,760.8 L560.4,758.8 L560.7,756.9 L561.1,754.9 L561.4,752.9 L561.8,750.9 L562.1,749.0 L562.5,747.0 L562.8,745.0 L563.2,743.1 L563.5,741.1 L563.9,739.1 L564.3,737.1 L564.6,735.2 L565.0,733.2 L565.4,731.2 L565.8,729.3 L566.2,727.3 L566.6,725.3 L566.9,723.4 L567.3,721.4 L567.7,719.5 L568.1,717.5 L568.6,715.5 L569.0,713.6 L569.4,711.6 L569.8,709.7 L570.2,707.7 L570.6,705.7 L571.0,703.8 L571.5,701.8 L571.9,699.9 L572.3,697.9 L572.7,695.9 L573.2,694.0 L573.6,692.0 L574.0,690.1 L574.4,688.1 L574.9,686.2 L575.3,684.2 L575.8,682.3 L576.2,680.3 L576.7,678.4 L577.1,676.4 L577.6,674.5 L578.0,672.5 L578.5,670.6 L579.0,668.6 L579.5,666.7 L580.0,664.7 L580.5,662.8 L581.0,660.9 L581.5,658.9 L582.0,657.0 L582.6,655.1 L583.1,653.1 L583.6,651.2 L584.2,649.3 L584.7,647.4 L585.2,645.4 L585.8,643.5 L586.3,641.6 L586.8,639.6 L587.4,637.7 L587.9,635.8 L588.4,633.8 L588.9,631.9 L589.5,630.0 L590.0,628.1 L590.5,626.1 L591.0,624.2 L591.6,622.3 L592.1,620.4 L592.6,618.4 L593.2,616.5 L593.7,614.6 L594.3,612.6 L594.8,610.7 L595.3,608.8 L595.9,606.8 L596.4,604.9 L596.9,603.0 L597.5,601.0 L598.0,599.1 L598.6,597.1 L599.1,595.2 L599.7,593.2 L600.3,591.3 L600.8,589.3 L601.4,587.3 L602.0,585.4 L602.6,583.4 L603.3,581.4 L603.9,579.5 L604.6,577.5 L605.4,575.6 L606.1,573.6 L606.9,571.7 L607.8,569.8 L608.7,568.0 L609.7,566.2 L610.7,564.5 L611.8,562.8 L613.0,561.2 L614.3,559.7 L615.7,558.3 L617.1,557.1 L618.6,555.9 L620.1,555.0 L621.8,554.2 L623.4,553.6 L625.1,553.2 L626.8,553.0 L628.5,553.1 L630.2,553.4 L631.9,553.9 L633.6,554.6 L635.3,555.5 L636.9,556.5 L638.4,557.6 L639.9,558.9 L641.4,560.3 L642.8,561.8 L644.2,563.3 L645.5,564.9 L646.7,566.6 L647.9,568.3 L649.1,570.0 L650.2,571.8 L651.3,573.6 L652.4,575.4 L653.4,577.2 L654.4,579.0 L655.4,580.8 L656.3,582.6 L657.2,584.5 L658.1,586.3 L659.0,588.1 L659.9,590.0 L660.8,591.8 L661.6,593.7 L662.5,595.5 L663.3,597.3 L664.1,599.2 L664.9,601.0 L665.6,602.9 L666.4,604.7 L667.1,606.6 L667.9,608.5 L668.6,610.3 L669.3,612.2 L669.9,614.1 L670.6,616.0 L671.2,617.9 L671.8,619.8 L672.4,621.7 L673.0,623.6 L673.6,625.5 L674.1,627.4 L674.6,629.4 L675.2,631.3 L675.7,633.2 L676.2,635.2 L676.7,637.1 L677.2,639.0 L677.7,641.0 L678.2,642.9 L678.7,644.8 L679.2,646.8 L679.7,648.7 L680.2,650.7 L680.7,652.6 L681.2,654.5 L681.7,656.5 L682.2,658.4 L682.7,660.4 L683.2,662.3 L683.8,664.2 L684.3,666.2 L684.8,668.1 L685.4,670.0 L685.9,671.9 L686.5,673.9 L687.0,675.8 L687.6,677.7 L688.2,679.6 L688.7,681.6 L689.3,683.5 L689.9,685.4 L690.5,687.3 L691.1,689.2 L691.7,691.1 L692.3,693.0 L692.9,694.9 L693.6,696.8 L694.2,698.7 L694.8,700.6 L695.5,702.5 L696.1,704.4 L696.8,706.3 L697.4,708.2 L698.1,710.1 L698.7,712.0 L699.4,713.9 L700.1,715.8 L700.7,717.7 L701.4,719.6 L702.1,721.4 L702.7,723.3 L703.4,725.2 L704.0,727.1 L704.7,729.0 L705.3,730.9 L705.9,732.8 L706.6,734.7 L707.2,736.6 L707.8,738.5 L708.4,740.4 L709.0,742.3 L709.6,744.2 L710.2,746.2 L710.8,748.1 L711.4,750.0 L712.0,751.9 L712.5,753.8 L713.1,755.8 L713.6,757.7 L714.2,759.6 L714.7,761.5 L715.3,763.5 L715.8,765.4 L716.3,767.3 L716.9,769.2 L717.4,771.2 L717.9,773.1 L718.4,775.1 L718.9,777.0 L719.5,778.9 L720.0,780.9 L720.5,782.8 L721.0,784.7 L721.5,786.7 L722.0,788.6 L722.5,790.6 L723.0,792.5 L723.5,794.4 L724.0,796.4 L724.5,798.3 L725.0,800.3 L725.5,802.2 L726.0,804.1 L726.5,806.1 L727.0,808.0 L727.5,810.0 L728.0,811.9 L728.4,813.8 L728.9,815.8 L729.4,817.7 L730.0,819.7 L730.5,821.6 L731.0,823.5 L731.5,825.5 L732.0,827.4 L732.5,829.3 L733.0,831.3 L733.5,833.2 L734.1,835.1 L734.6,837.1 L735.1,839.0 L735.7,840.9 L736.2,842.9 L736.7,844.8 L737.3,846.7 L737.9,848.6 L738.4,850.6 L739.0,852.5 L739.5,854.4 L740.1,856.3 L740.7,858.2 L741.3,860.2 L741.8,862.1 L742.4,864.0 L743.0,865.9 L743.6,867.8 L744.2,869.7 L744.8,871.6 L745.4,873.6 L746.0,875.5 L746.6,877.4 L747.2,879.3 L747.8,881.2 L748.4,883.1 L749.0,885.0 L749.6,886.9 L750.2,888.8 L750.8,890.7 L751.4,892.7 L752.0,894.6 L752.6,896.5 L753.2,898.4 L753.8,900.3 L754.4,902.2 L755.0,904.1 L755.5,906.0 L756.1,908.0 L756.7,909.9 L757.2,911.8 L757.8,913.7 L758.4,915.7 L758.9,917.6 L759.4,919.5 L760.0,921.4 L760.5,923.4 L761.0,925.3 L761.6,927.2 L762.1,929.2 L762.6,931.1 L763.2,933.0 L763.7,935.0 L764.2,936.9 L764.8,938.8 L765.3,940.8 L765.8,942.7 L766.4,944.6 L766.9,946.5 L767.5,948.5 L768.0,950.4 L768.6,952.3 L769.1,954.2 L769.7,956.2 L770.2,958.1 L770.8,960.0 L771.4,961.9 L771.9,963.8 L772.5,965.8 L773.1,967.7 L773.7,969.6 L774.2,971.5 L774.8,973.4 L775.4,975.4 L776.0,977.3 L776.5,979.2 L777.1,981.1 L777.7,983.0 L778.3,984.9 L778.8,986.9 L779.4,988.8 L780.0,990.7 L780.5,992.6 L781.1,994.5 L781.7,996.5 L782.2,998.4 L782.8,1000.3 L783.4,1002.2 L783.9,1004.2 L784.5,1006.1 L785.0,1008.0 L785.6,1009.9 L786.2,1011.8 L786.7,1013.8 L787.3,1015.7 L787.8,1017.6 L788.4,1019.5 L788.9,1021.5 L789.5,1023.4 L790.1,1025.3 L790.6,1027.2 L791.2,1029.2 L791.7,1031.1 L792.3,1033.0 L792.8,1034.9 L793.4,1036.9 L793.9,1038.8 L794.5,1040.7 L795.0,1042.6 L795.5,1044.6 L796.1,1046.5 L796.6,1048.4 L797.2,1050.4 L797.7,1052.3 L798.3,1054.2 L798.8,1056.1 L799.4,1058.1 L799.9,1060.0 L800.5,1061.9 L801.0,1063.8 L801.6,1065.8 L802.1,1067.7 L802.7,1069.6 L803.3,1071.5 L803.8,1073.4 L804.4,1075.4 L805.0,1077.3 L805.6,1079.2 L806.2,1081.1 L806.8,1083.0 L807.4,1084.9 L808.1,1086.8 L808.7,1088.7 L809.4,1090.6 L810.0,1092.5 L810.7,1094.4 L811.4,1096.3 L812.0,1098.1 L812.7,1100.0 L813.4,1101.9 L814.1,1103.8 L814.8,1105.7 L815.5,1107.5 L816.2,1109.4 L816.9,1111.3 L817.6,1113.2 L818.3,1115.1 L819.0,1116.9 L819.7,1118.8 L820.4,1120.7 L821.1,1122.6 L821.8,1124.5 L822.4,1126.3 L823.1,1128.2 L823.8,1130.1 L824.5,1132.0 L825.2,1133.9 L825.9,1135.7 L826.6,1137.6 L827.3,1139.5 L828.0,1141.4 L828.7,1143.2 L829.4,1145.1 L830.2,1147.0 L830.9,1148.8 L831.7,1150.7 L832.4,1152.5 L833.2,1154.4 L834.0,1156.2 L834.8,1158.0 L835.6,1159.9 L836.5,1161.7 L837.3,1163.5 L838.2,1165.3 L839.0,1167.1 L839.9,1168.9 L840.8,1170.7 L841.7,1172.5 L842.6,1174.3 L843.5,1176.1 L844.4,1177.9 L845.3,1179.7 L846.2,1181.4 L847.1,1183.2 L847.9,1185.0 L848.8,1186.8 L849.7,1188.6 L850.6,1190.4 L851.5,1192.2 L852.4,1194.0 L853.2,1195.8 L854.1,1197.7 L854.9,1199.5 L855.8,1201.3 L856.6,1203.1 L857.5,1204.9 L858.3,1206.7 L859.2,1208.6 L860.0,1210.4 L860.9,1212.2 L861.7,1214.0 L862.6,1215.8 L863.5,1217.6 L864.4,1219.4 L865.3,1221.1 L866.2,1222.9 L867.2,1224.7 L868.1,1226.4 L869.1,1228.2 L870.1,1229.9 L871.1,1231.6 L872.1,1233.4 L873.1,1235.1 L874.2,1236.8 L875.2,1238.5 L876.3,1240.2 L877.3,1241.9 L878.4,1243.6 L879.5,1245.2 L880.6,1246.9 L881.7,1248.6 L882.8,1250.3 L884.0,1251.9 L885.1,1253.6 L886.2,1255.2 L887.3,1256.9 L888.5,1258.5 L889.6,1260.2 L890.7,1261.9 L891.9,1263.5 L893.0,1265.2 L894.1,1266.8 L895.3,1268.5 L896.4,1270.1 L897.5,1271.8 L898.7,1273.4 L899.8,1275.1 L900.9,1276.7 L902.1,1278.4 L903.2,1280.0 L904.4,1281.7 L905.5,1283.3 L906.7,1284.9 L907.8,1286.6 L909.0,1288.2 L910.2,1289.8 L911.3,1291.5 L912.5,1293.1 L913.7,1294.7 L914.9,1296.3 L916.1,1298.0 L917.3,1299.6 L918.5,1301.2 L919.7,1302.8 L920.9,1304.4 L922.1,1306.0 L923.4,1307.6 L924.6,1309.1 L925.8,1310.7 L927.1,1312.3 L928.4,1313.8 L929.7,1315.4 L931.0,1316.9 L932.3,1318.4 L933.6,1319.9 L934.9,1321.4 L936.3,1322.9 L937.6,1324.4 L939.0,1325.8 L940.4,1327.3 L941.8,1328.7 L943.2,1330.1 L944.6,1331.5 L946.1,1332.8 L947.6,1334.2 L949.0,1335.5 L950.5,1336.9 L952.1,1338.2 L953.6,1339.4 L955.1,1340.7 L956.7,1342.0 L958.3,1343.2 L959.9,1344.4 L961.5,1345.6 L963.1,1346.8 L964.7,1348.0 L966.3,1349.2 L967.9,1350.3 L969.6,1351.5 L971.2,1352.6 L972.9,1353.8 L974.5,1354.9 L976.2,1356.0 L977.9,1357.1 L979.6,1358.2 L981.2,1359.3 L982.9,1360.4 L984.6,1361.4 L986.3,1362.5 L988.0,1363.6 L989.7,1364.6 L991.4,1365.7 L993.1,1366.7 L994.8,1367.8 L996.5,1368.8 L998.3,1369.9 L1000.0,1370.9 L1001.7,1372.0 L1003.4,1373.0 L1005.1,1374.0 L1006.9,1375.0 L1008.6,1376.0 L1010.3,1377.0 L1012.0,1378.0 L1013.8,1379.0 L1015.5,1380.0 L1017.3,1381.0 L1019.0,1382.0 L1020.8,1383.0 L1022.5,1383.9 L1024.3,1384.9 L1026.0,1385.9 L1027.8,1386.8 L1029.6,1387.8 L1031.3,1388.7 L1033.1,1389.6 L1034.9,1390.6 L1036.7,1391.5 L1038.4,1392.4 L1040.2,1393.3 L1042.0,1394.2 L1043.8,1395.1 L1045.6,1396.0 L1047.4,1396.9 L1049.2,1397.8 L1051.0,1398.6 L1052.8,1399.5 L1054.6,1400.3 L1056.5,1401.1 L1058.3,1402.0 L1060.1,1402.7 L1062.0,1403.5 L1063.8,1404.3 L1065.7,1405.0 L1067.5,1405.8 L1069.4,1406.5 L1071.3,1407.2 L1073.2,1407.9 L1075.1,1408.5 L1076.9,1409.2 L1078.8,1409.8 L1080.7,1410.4 L1082.6,1411.1 L1084.6,1411.7 L1086.5,1412.3 L1088.4,1412.9 L1090.3,1413.5 L1092.2,1414.0 L1094.1,1414.6 L1096.1,1415.2 L1098.0,1415.7 L1099.9,1416.3 L1101.8,1416.8 L1103.8,1417.3 L1105.7,1417.9 L1107.6,1418.4 L1109.6,1418.9 L1111.5,1419.4 L1113.5,1419.9 L1115.4,1420.4 L1117.3,1420.9 L1119.3,1421.4 L1121.2,1421.8 L1123.2,1422.3 L1125.1,1422.8 L1127.1,1423.3 L1129.0,1423.7 L1131.0,1424.2 L1132.9,1424.6 L1134.9,1425.0 L1136.8,1425.5 L1138.8,1425.9 L1140.8,1426.3 L1142.7,1426.7 L1144.7,1427.1 L1146.6,1427.5 L1148.6,1427.9 L1150.6,1428.3 L1152.5,1428.7 L1154.5,1429.1 L1156.5,1429.5 L1158.4,1429.8 L1160.4,1430.2 L1162.4,1430.5 L1164.3,1430.9 L1166.3,1431.2 L1168.3,1431.6 L1170.3,1431.9 L1172.2,1432.3 L1174.2,1432.6 L1176.2,1432.9 L1178.2,1433.3 L1180.1,1433.6 L1182.1,1433.9 L1184.1,1434.2 L1186.1,1434.5 L1188.1,1434.8 L1190.0,1435.1 L1192.0,1435.4 L1194.0,1435.7 L1196.0,1436.0 L1198.0,1436.2 L1199.9,1436.5 L1201.9,1436.8 L1203.9,1437.1 L1205.9,1437.3 L1207.9,1437.6 L1209.9,1437.8 L1211.9,1438.1 L1213.8,1438.3 L1215.8,1438.6 L1217.8,1438.8 L1219.8,1439.1 L1221.8,1439.3 L1223.8,1439.5 L1225.8,1439.8 L1227.8,1440.0 L1229.8,1440.2 L1231.8,1440.4 L1233.7,1440.7 L1235.7,1440.9 L1237.7,1441.1 L1239.7,1441.3 L1241.7,1441.5 L1243.7,1441.7 L1245.7,1441.9 L1247.7,1442.1 L1249.7,1442.3 L1251.7,1442.5 L1253.7,1442.7 L1255.7,1442.9 L1257.7,1443.1 L1259.6,1443.3 L1261.6,1443.4 L1263.6,1443.6 L1265.6,1443.8 L1267.6,1444.0 L1269.6,1444.1 L1271.6,1444.3 L1273.6,1444.5 L1275.6,1444.6 L1277.6,1444.8 L1279.6,1445.0 L1281.6,1445.1 L1283.6,1445.3 L1285.6,1445.4 L1287.6,1445.6 L1289.6,1445.7 L1291.6,1445.9 L1293.6,1446.0 L1295.6,1446.1 L1297.6,1446.3 L1299.6,1446.4 L1301.6,1446.5 L1303.6,1446.7 L1305.6,1446.8 L1307.6,1446.9 L1309.6,1447.0 L1311.6,1447.1 L1313.6,1447.2 L1315.6,1447.4 L1317.6,1447.5 L1319.6,1447.6 L1321.6,1447.7 L1323.6,1447.8 L1325.6,1447.9 L1327.6,1448.0 L1329.6,1448.1 L1331.6,1448.2 L1333.6,1448.3 L1335.6,1448.4 L1337.6,1448.5 L1339.6,1448.6 L1341.6,1448.6 L1343.6,1448.7 L1345.6,1448.8 L1347.6,1448.9 L1349.6,1449.0 L1351.6,1449.1 L1353.6,1449.1 L1355.6,1449.2 L1357.6,1449.3 L1359.6,1449.4 L1361.6,1449.4 L1363.6,1449.5 L1365.6,1449.6 L1367.6,1449.6 L1369.6,1449.7 L1371.6,1449.8 L1373.6,1449.8 L1375.6,1449.9 L1377.6,1450.0 L1379.6,1450.0 L1381.6,1450.1 L1383.6,1450.1 L1385.6,1450.2 L1387.6,1450.3 L1389.6,1450.3 L1391.6,1450.4 L1393.6,1450.4 L1395.6,1450.5 L1397.6,1450.5 L1399.6,1450.6 L1401.6,1450.6 L1403.6,1450.7 L1405.6,1450.7 L1407.6,1450.7 L1409.6,1450.8 L1411.6,1450.8 L1413.6,1450.9 L1415.6,1450.9 L1417.6,1451.0 L1419.6,1451.0 L1421.6,1451.0 L1423.7,1451.1 L1425.7,1451.1 L1427.7,1451.1 L1429.7,1451.2 L1431.7,1451.2 L1433.7,1451.2 L1435.7,1451.3 L1437.7,1451.3 L1439.7,1451.3 L1441.7,1451.4 L1443.7,1451.4 L1445.7,1451.4 L1447.7,1451.5 L1449.7,1451.5 L1451.7,1451.5 L1453.7,1451.6 L1455.7,1451.6 L1457.7,1451.6 L1459.7,1451.6 L1461.7,1451.7 L1463.7,1451.7 L1465.7,1451.7 L1467.7,1451.7 L1469.7,1451.8 L1471.7,1451.8 L1473.7,1451.8 L1475.7,1451.8 L1477.7,1451.9 L1479.7,1451.9 L1481.7,1451.9 L1483.7,1451.9 L1485.7,1451.9 L1487.7,1452.0 L1489.7,1452.0 L1491.7,1452.0 L1493.7,1452.0 L1495.7,1452.0 L1497.7,1452.0 L1499.7,1452.1 L1501.7,1452.1 L1503.8,1452.1 L1505.8,1452.1 L1507.8,1452.1 L1509.8,1452.1 L1511.8,1452.2 L1513.8,1452.2 L1515.8,1452.2 L1517.8,1452.2 L1519.8,1452.2 L1521.8,1452.2 L1523.8,1452.2 L1525.8,1452.3 L1527.8,1452.3 L1529.8,1452.3 L1531.8,1452.3 L1533.8,1452.3 L1535.8,1452.3 L1537.8,1452.3 L1539.8,1452.3 L1541.8,1452.3 L1543.8,1452.4 L1545.8,1452.4 L1547.8,1452.4 L1549.8,1452.4 L1551.8,1452.4 L1553.8,1452.4 L1555.8,1452.4 L1557.8,1452.4 L1559.8,1452.4 L1561.8,1452.4 L1563.8,1452.4 L1565.8,1452.4 L1567.8,1452.5 L1569.8,1452.5 L1571.8,1452.5 L1573.8,1452.5 L1575.8,1452.5 L1577.8,1452.5 L1579.9,1452.5 L1581.9,1452.5 L1583.9,1452.5 L1585.9,1452.5 L1587.9,1452.5 L1589.9,1452.5 L1591.9,1452.5 L1593.9,1452.5 L1595.9,1452.5 L1597.9,1452.5 L1599.9,1452.5 L1601.9,1452.5 L1603.9,1452.5 L1605.9,1452.5 L1607.9,1452.5 L1609.9,1452.5 L1611.9,1452.5 L1613.9,1452.5 L1615.9,1452.5 L1617.9,1452.5 L1619.9,1452.5 L1621.9,1452.5 L1623.9,1452.5 L1625.9,1452.5 L1627.9,1452.5 L1629.9,1452.5 L1631.9,1452.5 L1633.9,1452.5 L1635.9,1452.5 L1637.9,1452.5 L1639.9,1452.5 L1641.9,1452.5 L1643.9,1452.5 L1645.9,1452.5 L1647.9,1452.5 L1649.9,1452.5 L1651.9,1452.5 L1654.0,1452.5 L1656.0,1452.5 L1658.0,1452.5 L1660.0,1452.5 L1662.0,1452.5 L1664.0,1452.5 L1666.0,1452.5 L1668.0,1452.5 L1670.0,1452.5 L1672.0,1452.5 L1674.0,1452.5 L1676.0,1452.5 L1678.0,1452.5 L1680.0,1452.5 L1682.0,1452.5 L1684.0,1452.5 L1686.0,1452.5 L1688.0,1452.5 L1690.0,1452.5"/>
<path stroke="#00B050" d="M330.0,1433.0 L332.0,1433.0 L334.0,1433.1 L336.0,1433.1 L338.0,1433.1 L340.0,1433.2 L342.0,1433.2 L344.0,1433.2 L346.0,1433.3 L348.0,1433.3 L350.0,1433.3 L352.0,1433.4 L354.0,1433.4 L356.0,1433.4 L358.0,1433.5 L360.0,1433.5 L362.0,1433.5 L364.0,1433.5 L366.0,1433.6 L368.0,1433.6 L370.1,1433.6 L372.1,1433.7 L374.1,1433.7 L376.1,1433.7 L378.1,1433.7 L380.1,1433.8 L382.1,1433.8 L384.1,1433.8 L386.2,1433.8 L388.2,1433.7 L390.2,1433.7 L392.2,1433.6 L394.2,1433.6 L396.2,1433.5 L398.2,1433.4 L400.2,1433.3 L402.2,1433.1 L404.3,1432.9 L406.3,1432.7 L408.2,1432.5 L410.2,1432.2 L412.2,1431.9 L414.2,1431.6 L416.1,1431.2 L418.1,1430.7 L420.0,1430.2 L421.9,1429.6 L423.7,1428.9 L425.6,1428.2 L427.4,1427.5 L429.1,1426.6 L430.9,1425.7 L432.6,1424.7 L434.2,1423.6 L435.8,1422.5 L437.4,1421.3 L438.9,1420.1 L440.4,1418.7 L441.8,1417.4 L443.2,1416.0 L444.6,1414.5 L445.9,1413.0 L447.2,1411.5 L448.4,1409.9 L449.6,1408.3 L450.8,1406.7 L452.0,1405.1 L453.1,1403.4 L454.2,1401.7 L455.2,1400.0 L456.3,1398.2 L457.3,1396.5 L458.3,1394.7 L459.2,1392.9 L460.2,1391.1 L461.1,1389.4 L462.0,1387.5 L462.9,1385.7 L463.8,1383.9 L464.7,1382.1 L465.5,1380.3 L466.3,1378.4 L467.1,1376.6 L467.9,1374.7 L468.7,1372.9 L469.4,1371.0 L470.2,1369.2 L470.9,1367.3 L471.6,1365.4 L472.3,1363.5 L473.0,1361.7 L473.7,1359.8 L474.4,1357.9 L475.0,1356.0 L475.6,1354.1 L476.3,1352.2 L476.9,1350.3 L477.5,1348.4 L478.0,1346.5 L478.6,1344.5 L479.2,1342.6 L479.7,1340.7 L480.3,1338.8 L480.8,1336.8 L481.3,1334.9 L481.8,1333.0 L482.3,1331.0 L482.8,1329.1 L483.2,1327.1 L483.7,1325.2 L484.2,1323.2 L484.6,1321.3 L485.0,1319.3 L485.5,1317.4 L485.9,1315.4 L486.3,1313.4 L486.7,1311.5 L487.1,1309.5 L487.5,1307.6 L487.9,1305.6 L488.3,1303.6 L488.7,1301.7 L489.0,1299.7 L489.4,1297.7 L489.8,1295.7 L490.1,1293.8 L490.5,1291.8 L490.9,1289.8 L491.2,1287.9 L491.6,1285.9 L491.9,1283.9 L492.3,1282.0 L492.6,1280.0 L492.9,1278.0 L493.3,1276.0 L493.6,1274.1 L494.0,1272.1 L494.3,1270.1 L494.6,1268.1 L495.0,1266.2 L495.3,1264.2 L495.6,1262.2 L496.0,1260.2 L496.3,1258.3 L496.6,1256.3 L497.0,1254.3 L497.3,1252.3 L497.6,1250.4 L498.0,1248.4 L498.3,1246.4 L498.6,1244.4 L499.0,1242.5 L499.3,1240.5 L499.6,1238.5 L499.9,1236.5 L500.3,1234.6 L500.6,1232.6 L500.9,1230.6 L501.3,1228.6 L501.6,1226.7 L501.9,1224.7 L502.3,1222.7 L502.6,1220.7 L502.9,1218.8 L503.2,1216.8 L503.5,1214.8 L503.8,1212.8 L504.1,1210.9 L504.4,1208.9 L504.7,1206.9 L505.0,1204.9 L505.3,1202.9 L505.6,1201.0 L505.9,1199.0 L506.1,1197.0 L506.4,1195.0 L506.7,1193.0 L506.9,1191.0 L507.2,1189.1 L507.4,1187.1 L507.7,1185.1 L507.9,1183.1 L508.1,1181.1 L508.4,1179.1 L508.6,1177.1 L508.8,1175.1 L509.0,1173.1 L509.2,1171.2 L509.5,1169.2 L509.7,1167.2 L509.9,1165.2 L510.1,1163.2 L510.3,1161.2 L510.5,1159.2 L510.7,1157.2 L510.9,1155.2 L511.1,1153.2 L511.3,1151.2 L511.6,1149.2 L511.8,1147.3 L512.0,1145.3 L512.2,1143.3 L512.4,1141.3 L512.6,1139.3 L512.8,1137.3 L513.1,1135.3 L513.3,1133.3 L513.5,1131.3 L513.7,1129.3 L514.0,1127.4 L514.2,1125.4 L514.4,1123.4 L514.7,1121.4 L514.9,1119.4 L515.1,1117.4 L515.4,1115.4 L515.6,1113.4 L515.8,1111.4 L516.1,1109.5 L516.3,1107.5 L516.5,1105.5 L516.8,1103.5 L517.0,1101.5 L517.2,1099.5 L517.5,1097.5 L517.7,1095.5 L517.9,1093.5 L518.1,1091.6 L518.4,1089.6 L518.6,1087.6 L518.8,1085.6 L519.0,1083.6 L519.2,1081.6 L519.5,1079.6 L519.7,1077.6 L519.9,1075.6 L520.1,1073.6 L520.3,1071.6 L520.5,1069.7 L520.7,1067.7 L520.9,1065.7 L521.1,1063.7 L521.3,1061.7 L521.5,1059.7 L521.7,1057.7 L521.9,1055.7 L522.1,1053.7 L522.3,1051.7 L522.5,1049.7 L522.7,1047.7 L522.9,1045.8 L523.1,1043.8 L523.3,1041.8 L523.6,1039.8 L523.8,1037.8 L524.0,1035.8 L524.2,1033.8 L524.4,1031.8 L524.6,1029.8 L524.8,1027.8 L525.1,1025.8 L525.3,1023.9 L525.5,1021.9 L525.7,1019.9 L525.9,1017.9 L526.1,1015.9 L526.3,1013.9 L526.5,1011.9 L526.7,1009.9 L527.0,1007.9 L527.2,1005.9 L527.4,1003.9 L527.6,1002.0 L527.8,1000.0 L528.0,998.0 L528.2,996.0 L528.3,994.0 L528.5,992.0 L528.7,990.0 L528.9,988.0 L529.1,986.0 L529.3,984.0 L529.5,982.0 L529.7,980.0 L529.9,978.0 L530.1,976.0 L530.3,974.1 L530.5,972.1 L530.7,970.1 L530.8,968.1 L531.0,966.1 L531.2,964.1 L531.4,962.1 L531.6,960.1 L531.8,958.1 L532.0,956.1 L532.2,954.1 L532.4,952.1 L532.6,950.1 L532.8,948.1 L533.0,946.2 L533.2,944.2 L533.3,942.2 L533.5,940.2 L533.7,938.2 L533.9,936.2 L534.1,934.2 L534.3,932.2 L534.5,930.2 L534.7,928.2 L534.9,926.2 L535.1,924.2 L535.3,922.2 L535.5,920.2 L535.7,918.3 L535.9,916.3 L536.0,914.3 L536.2,912.3 L536.4,910.3 L536.6,908.3 L536.8,906.3 L537.0,904.3 L537.1,902.3 L537.3,900.3 L537.5,898.3 L537.7,896.3 L537.9,894.3 L538.0,892.3 L538.2,890.3 L538.4,888.3 L538.6,886.4 L538.8,884.4 L538.9,882.4 L539.1,880.4 L539.3,878.4 L539.5,876.4 L539.7,874.4 L539.9,872.4 L540.1,870.4 L540.2,868.4 L540.4,866.4 L540.6,864.4 L540.8,862.4 L541.0,860.4 L541.2,858.4 L541.4,856.5 L541.6,854.5 L541.8,852.5 L542.0,850.5 L542.2,848.5 L542.4,846.5 L542.6,844.5 L542.8,842.5 L543.0,840.5 L543.2,838.5 L543.4,836.5 L543.6,834.5 L543.8,832.5 L544.0,830.6 L544.2,828.6 L544.4,826.6 L544.6,824.6 L544.8,822.6 L544.9,820.6 L545.1,818.6 L545.3,816.6 L545.5,814.6 L545.7,812.6 L545.9,810.6 L546.1,808.6 L546.2,806.6 L546.4,804.6 L546.6,802.6 L546.8,800.6 L546.9,798.7 L547.1,796.7 L547.3,794.7 L547.5,792.7 L547.6,790.7 L547.8,788.7 L548.0,786.7 L548.1,784.7 L548.3,782.7 L548.5,780.7 L548.7,778.7 L548.8,776.7 L549.0,774.7 L549.2,772.7 L549.3,770.7 L549.5,768.7 L549.7,766.7 L549.8,764.7 L550.0,762.7 L550.1,760.7 L550.3,758.8 L550.5,756.8 L550.7,754.8 L550.8,752.8 L551.0,750.8 L551.2,748.8 L551.3,746.8 L551.5,744.8 L551.7,742.8 L551.9,740.8 L552.1,738.8 L552.2,736.8 L552.4,734.8 L552.6,732.8 L552.8,730.8 L553.0,728.8 L553.2,726.9 L553.4,724.9 L553.6,722.9 L553.9,720.9 L554.1,718.9 L554.3,716.9 L554.5,714.9 L554.7,712.9 L554.9,710.9 L555.1,708.9 L555.4,706.9 L555.6,705.0 L555.8,703.0 L556.0,701.0 L556.2,699.0 L556.4,697.0 L556.6,695.0 L556.8,693.0 L557.0,691.0 L557.2,689.0 L557.4,687.0 L557.6,685.0 L557.8,683.0 L558.0,681.1 L558.2,679.1 L558.4,677.1 L558.6,675.1 L558.8,673.1 L559.0,671.1 L559.2,669.1 L559.5,667.1 L559.7,665.1 L559.9,663.1 L560.1,661.1 L560.3,659.1 L560.5,657.2 L560.7,655.2 L561.0,653.2 L561.2,651.2 L561.4,649.2 L561.6,647.2 L561.9,645.2 L562.1,643.2 L562.3,641.2 L562.6,639.3 L562.8,637.3 L563.0,635.3 L563.3,633.3 L563.5,631.3 L563.8,629.3 L564.0,627.3 L564.3,625.3 L564.5,623.4 L564.7,621.4 L565.0,619.4 L565.2,617.4 L565.5,615.4 L565.7,613.4 L566.0,611.4 L566.2,609.4 L566.5,607.5 L566.7,605.5 L567.0,603.5 L567.2,601.5 L567.5,599.5 L567.7,597.5 L568.0,595.5 L568.3,593.6 L568.5,591.6 L568.8,589.6 L569.0,587.6 L569.3,585.6 L569.6,583.6 L569.8,581.6 L570.1,579.7 L570.3,577.7 L570.6,575.7 L570.9,573.7 L571.1,571.7 L571.4,569.7 L571.6,567.7 L571.9,565.8 L572.2,563.8 L572.4,561.8 L572.7,559.8 L572.9,557.8 L573.2,555.8 L573.4,553.8 L573.7,551.9 L573.9,549.9 L574.2,547.9 L574.4,545.9 L574.7,543.9 L574.9,541.9 L575.2,539.9 L575.4,538.0 L575.7,536.0 L575.9,534.0 L576.2,532.0 L576.4,530.0 L576.7,528.0 L576.9,526.0 L577.2,524.0 L577.4,522.1 L577.6,520.1 L577.9,518.1 L578.1,516.1 L578.4,514.1 L578.6,512.1 L578.9,510.1 L579.1,508.1 L579.3,506.2 L579.6,504.2 L579.9,502.2 L580.1,500.2 L580.4,498.2 L580.6,496.2 L580.9,494.2 L581.2,492.3 L581.4,490.3 L581.7,488.3 L582.0,486.3 L582.2,484.3 L582.5,482.3 L582.8,480.4 L583.0,478.4 L583.3,476.4 L583.6,474.4 L583.9,472.4 L584.2,470.4 L584.5,468.5 L584.7,466.5 L585.0,464.5 L585.3,462.5 L585.6,460.5 L585.9,458.6 L586.2,456.6 L586.5,454.6 L586.8,452.6 L587.1,450.6 L587.4,448.7 L587.7,446.7 L588.0,444.7 L588.3,442.7 L588.6,440.7 L588.9,438.8 L589.2,436.8 L589.6,434.8 L589.9,432.8 L590.2,430.9 L590.6,428.9 L590.9,426.9 L591.3,424.9 L591.6,423.0 L592.0,421.0 L592.3,419.0 L592.7,417.1 L593.1,415.1 L593.5,413.1 L593.9,411.2 L594.3,409.2 L594.7,407.3 L595.1,405.3 L595.5,403.3 L596.0,401.4 L596.4,399.4 L596.9,397.5 L597.3,395.5 L597.8,393.6 L598.3,391.7 L598.8,389.7 L599.3,387.8 L599.8,385.8 L600.3,383.9 L600.8,382.0 L601.3,380.0 L601.8,378.1 L602.3,376.2 L602.8,374.2 L603.3,372.3 L603.9,370.4 L604.4,368.4 L604.9,366.5 L605.4,364.6 L605.9,362.6 L606.4,360.7 L607.0,358.8 L607.5,356.9 L608.0,354.9 L608.6,353.0 L609.1,351.1 L609.7,349.2 L610.3,347.2 L610.8,345.3 L611.4,343.4 L612.0,341.5 L612.6,339.5 L613.3,337.6 L613.9,335.7 L614.5,333.7 L615.2,331.8 L615.9,329.8 L616.6,327.9 L617.3,325.9 L618.1,323.9 L618.8,322.0 L619.7,320.1 L620.5,318.1 L621.4,316.2 L622.4,314.3 L623.4,312.5 L624.4,310.6 L625.6,308.9 L626.7,307.2 L627.9,305.6 L629.2,304.0 L630.6,302.6 L631.9,301.4 L633.3,300.3 L634.8,299.4 L636.3,298.6 L637.8,298.2 L639.3,298.0 L640.8,298.1 L642.3,298.4 L643.8,299.1 L645.2,299.9 L646.6,301.0 L648.0,302.2 L649.4,303.6 L650.7,305.0 L651.9,306.6 L653.2,308.3 L654.3,310.0 L655.5,311.8 L656.5,313.6 L657.6,315.4 L658.6,317.3 L659.5,319.2 L660.5,321.1 L661.4,323.0 L662.2,324.9 L663.1,326.9 L663.9,328.8 L664.6,330.7 L665.4,332.6 L666.1,334.5 L666.9,336.4 L667.6,338.3 L668.2,340.2 L668.9,342.2 L669.6,344.1 L670.2,346.0 L670.9,347.9 L671.5,349.8 L672.1,351.7 L672.7,353.6 L673.3,355.5 L673.9,357.4 L674.5,359.3 L675.1,361.2 L675.7,363.1 L676.2,365.0 L676.8,366.9 L677.4,368.9 L677.9,370.8 L678.5,372.7 L679.0,374.6 L679.5,376.6 L680.1,378.5 L680.6,380.4 L681.1,382.4 L681.6,384.3 L682.1,386.2 L682.7,388.2 L683.2,390.1 L683.7,392.0 L684.2,394.0 L684.7,395.9 L685.2,397.8 L685.8,399.8 L686.3,401.7 L686.8,403.6 L687.3,405.6 L687.9,407.5 L688.4,409.4 L689.0,411.3 L689.5,413.3 L690.1,415.2 L690.6,417.1 L691.1,419.0 L691.7,421.0 L692.2,422.9 L692.8,424.8 L693.3,426.8 L693.9,428.7 L694.4,430.6 L694.9,432.5 L695.4,434.5 L696.0,436.4 L696.5,438.3 L697.0,440.3 L697.5,442.2 L698.0,444.1 L698.5,446.1 L699.0,448.0 L699.5,450.0 L700.0,451.9 L700.5,453.8 L701.1,455.8 L701.6,457.7 L702.1,459.6 L702.6,461.6 L703.1,463.5 L703.6,465.4 L704.1,467.4 L704.7,469.3 L705.2,471.2 L705.7,473.2 L706.2,475.1 L706.7,477.1 L707.2,479.0 L707.7,480.9 L708.2,482.9 L708.7,484.8 L709.2,486.8 L709.7,488.7 L710.2,490.6 L710.7,492.6 L711.2,494.5 L711.6,496.5 L712.1,498.4 L712.6,500.3 L713.1,502.3 L713.6,504.2 L714.1,506.2 L714.6,508.1 L715.1,510.0 L715.5,512.0 L716.0,513.9 L716.5,515.9 L717.0,517.8 L717.5,519.8 L717.9,521.7 L718.4,523.7 L718.9,525.6 L719.4,527.5 L719.9,529.5 L720.4,531.4 L720.8,533.4 L721.3,535.3 L721.8,537.2 L722.3,539.2 L722.8,541.1 L723.2,543.1 L723.7,545.0 L724.2,547.0 L724.6,548.9 L725.1,550.9 L725.6,552.8 L726.0,554.8 L726.5,556.7 L727.0,558.7 L727.5,560.6 L727.9,562.5 L728.4,564.5 L728.9,566.4 L729.4,568.4 L729.9,570.3 L730.4,572.2 L730.9,574.2 L731.4,576.1 L732.0,578.0 L732.5,580.0 L733.0,581.9 L733.5,583.8 L734.1,585.8 L734.6,587.7 L735.1,589.6 L735.7,591.6 L736.2,593.5 L736.7,595.4 L737.3,597.4 L737.8,599.3 L738.3,601.2 L738.8,603.2 L739.3,605.1 L739.8,607.0 L740.3,609.0 L740.7,610.9 L741.2,612.9 L741.7,614.8 L742.1,616.8 L742.6,618.7 L743.0,620.7 L743.4,622.6 L743.8,624.6 L744.3,626.5 L744.7,628.5 L745.1,630.5 L745.4,632.4 L745.8,634.4 L746.2,636.4 L746.6,638.3 L746.9,640.3 L747.3,642.3 L747.6,644.2 L748.0,646.2 L748.3,648.2 L748.7,650.2 L749.0,652.1 L749.3,654.1 L749.7,656.1 L750.0,658.1 L750.4,660.0 L750.7,662.0 L751.1,664.0 L751.4,665.9 L751.8,667.9 L752.2,669.9 L752.5,671.8 L752.9,673.8 L753.3,675.8 L753.7,677.7 L754.2,679.7 L754.6,681.6 L755.0,683.6 L755.4,685.6 L755.8,687.5 L756.3,689.5 L756.7,691.4 L757.2,693.4 L757.6,695.3 L758.0,697.3 L758.5,699.2 L758.9,701.2 L759.4,703.1 L759.8,705.1 L760.3,707.0 L760.7,709.0 L761.2,710.9 L761.6,712.9 L762.1,714.8 L762.5,716.8 L763.0,718.7 L763.4,720.7 L763.9,722.6 L764.3,724.6 L764.8,726.5 L765.3,728.5 L765.7,730.4 L766.2,732.4 L766.7,734.3 L767.1,736.3 L767.6,738.2 L768.1,740.2 L768.6,742.1 L769.1,744.0 L769.6,746.0 L770.1,747.9 L770.6,749.9 L771.1,751.8 L771.6,753.7 L772.1,755.7 L772.6,757.6 L773.1,759.6 L773.6,761.5 L774.1,763.4 L774.6,765.4 L775.1,767.3 L775.6,769.2 L776.1,771.2 L776.6,773.1 L777.2,775.1 L777.7,777.0 L778.2,778.9 L778.7,780.9 L779.2,782.8 L779.7,784.7 L780.2,786.7 L780.7,788.6 L781.1,790.6 L781.6,792.5 L782.1,794.5 L782.5,796.4 L783.0,798.4 L783.4,800.3 L783.9,802.3 L784.3,804.2 L784.7,806.2 L785.1,808.1 L785.5,810.1 L785.9,812.1 L786.3,814.0 L786.7,816.0 L787.0,818.0 L787.4,819.9 L787.7,821.9 L788.1,823.9 L788.4,825.8 L788.8,827.8 L789.1,829.8 L789.4,831.8 L789.8,833.7 L790.1,835.7 L790.5,837.7 L790.8,839.7 L791.2,841.6 L791.5,843.6 L791.9,845.6 L792.2,847.5 L792.6,849.5 L793.0,851.5 L793.4,853.4 L793.7,855.4 L794.1,857.4 L794.5,859.3 L794.9,861.3 L795.4,863.2 L795.8,865.2 L796.2,867.2 L796.6,869.1 L797.1,871.1 L797.5,873.0 L798.0,875.0 L798.5,876.9 L799.0,878.8 L799.5,880.8 L800.0,882.7 L800.5,884.7 L801.0,886.6 L801.5,888.5 L802.0,890.5 L802.5,892.4 L803.1,894.3 L803.6,896.3 L804.1,898.2 L804.7,900.1 L805.2,902.1 L805.7,904.0 L806.2,905.9 L806.8,907.8 L807.3,909.8 L807.8,911.7 L808.3,913.7 L808.8,915.6 L809.3,917.5 L809.8,919.5 L810.2,921.4 L810.7,923.4 L811.2,925.3 L811.7,927.3 L812.1,929.2 L812.6,931.1 L813.1,933.1 L813.6,935.0 L814.0,937.0 L814.5,938.9 L815.0,940.9 L815.4,942.8 L815.9,944.8 L816.4,946.7 L816.9,948.7 L817.3,950.6 L817.8,952.5 L818.3,954.5 L818.8,956.4 L819.3,958.4 L819.8,960.3 L820.3,962.3 L820.8,964.2 L821.3,966.1 L821.8,968.1 L822.3,970.0 L822.8,971.9 L823.3,973.9 L823.8,975.8 L824.3,977.7 L824.9,979.7 L825.4,981.6 L825.9,983.5 L826.4,985.5 L827.0,987.4 L827.5,989.3 L828.1,991.3 L828.6,993.2 L829.2,995.1 L829.7,997.0 L830.3,999.0 L830.8,1000.9 L831.4,1002.8 L832.0,1004.7 L832.5,1006.6 L833.1,1008.6 L833.7,1010.5 L834.3,1012.4 L834.9,1014.3 L835.5,1016.2 L836.1,1018.1 L836.7,1020.0 L837.3,1021.9 L838.0,1023.8 L838.6,1025.7 L839.2,1027.6 L839.9,1029.5 L840.5,1031.4 L841.1,1033.3 L841.7,1035.2 L842.4,1037.1 L843.0,1039.0 L843.6,1040.9 L844.2,1042.8 L844.9,1044.7 L845.5,1046.6 L846.1,1048.5 L846.7,1050.5 L847.3,1052.4 L847.8,1054.3 L848.4,1056.2 L849.0,1058.1 L849.5,1060.0 L850.1,1062.0 L850.6,1063.9 L851.2,1065.8 L851.7,1067.8 L852.3,1069.7 L852.8,1071.6 L853.3,1073.5 L853.9,1075.5 L854.4,1077.4 L855.0,1079.3 L855.5,1081.2 L856.0,1083.2 L856.6,1085.1 L857.2,1087.0 L857.7,1088.9 L858.3,1090.9 L858.9,1092.8 L859.4,1094.7 L860.0,1096.6 L860.6,1098.5 L861.2,1100.4 L861.8,1102.4 L862.4,1104.3 L863.0,1106.2 L863.6,1108.1 L864.2,1110.0 L864.8,1111.9 L865.4,1113.8 L866.1,1115.7 L866.7,1117.6 L867.3,1119.5 L868.0,1121.4 L868.6,1123.3 L869.2,1125.2 L869.9,1127.1 L870.5,1129.0 L871.2,1130.9 L871.9,1132.8 L872.5,1134.7 L873.2,1136.6 L873.9,1138.4 L874.6,1140.3 L875.3,1142.2 L876.0,1144.1 L876.7,1145.9 L877.4,1147.8 L878.2,1149.6 L878.9,1151.5 L879.7,1153.3 L880.5,1155.2 L881.3,1157.0 L882.1,1158.8 L882.9,1160.7 L883.8,1162.5 L884.6,1164.3 L885.5,1166.1 L886.3,1167.9 L887.2,1169.7 L888.1,1171.5 L889.0,1173.3 L889.8,1175.1 L890.7,1176.9 L891.6,1178.7 L892.5,1180.5 L893.4,1182.3 L894.3,1184.1 L895.2,1185.9 L896.1,1187.7 L897.0,1189.5 L897.9,1191.3 L898.7,1193.1 L899.6,1194.9 L900.5,1196.7 L901.3,1198.5 L902.2,1200.3 L903.0,1202.1 L903.9,1203.9 L904.7,1205.7 L905.6,1207.5 L906.5,1209.4 L907.3,1211.2 L908.2,1213.0 L909.1,1214.8 L909.9,1216.6 L910.8,1218.4 L911.7,1220.1 L912.6,1221.9 L913.6,1223.7 L914.5,1225.5 L915.4,1227.2 L916.4,1229.0 L917.4,1230.7 L918.4,1232.5 L919.4,1234.2 L920.4,1235.9 L921.4,1237.6 L922.5,1239.4 L923.5,1241.1 L924.6,1242.8 L925.6,1244.4 L926.7,1246.1 L927.8,1247.8 L928.9,1249.5 L930.0,1251.2 L931.1,1252.8 L932.3,1254.5 L933.4,1256.1 L934.6,1257.8 L935.7,1259.4 L936.9,1261.0 L938.0,1262.7 L939.2,1264.3 L940.4,1265.9 L941.6,1267.5 L942.8,1269.1 L944.0,1270.7 L945.2,1272.3 L946.4,1273.9 L947.6,1275.5 L948.9,1277.1 L950.1,1278.7 L951.3,1280.2 L952.6,1281.8 L953.8,1283.4 L955.1,1284.9 L956.4,1286.5 L957.6,1288.0 L958.9,1289.6 L960.2,1291.1 L961.4,1292.7 L962.7,1294.2 L964.0,1295.7 L965.3,1297.3 L966.6,1298.8 L967.9,1300.3 L969.2,1301.8 L970.5,1303.3 L971.9,1304.8 L973.2,1306.3 L974.5,1307.9 L975.8,1309.4 L977.1,1310.9 L978.5,1312.4 L979.8,1313.9 L981.1,1315.4 L982.4,1316.9 L983.8,1318.4 L985.1,1319.9 L986.4,1321.4 L987.8,1322.9 L989.1,1324.3 L990.4,1325.8 L991.8,1327.3 L993.1,1328.8 L994.4,1330.3 L995.8,1331.8 L997.1,1333.3 L998.4,1334.8 L999.8,1336.3 L1001.2,1337.7 L1002.5,1339.2 L1003.9,1340.6 L1005.3,1342.0 L1006.8,1343.4 L1008.2,1344.8 L1009.6,1346.2 L1011.1,1347.6 L1012.6,1349.0 L1014.0,1350.3 L1015.5,1351.6 L1017.0,1353.0 L1018.5,1354.3 L1020.1,1355.6 L1021.6,1356.9 L1023.1,1358.1 L1024.7,1359.4 L1026.2,1360.7 L1027.8,1361.9 L1029.4,1363.2 L1031.0,1364.4 L1032.6,1365.6 L1034.2,1366.8 L1035.8,1368.0 L1037.4,1369.2 L1039.0,1370.4 L1040.6,1371.6 L1042.2,1372.7 L1043.9,1373.9 L1045.5,1375.0 L1047.2,1376.1 L1048.9,1377.2 L1050.6,1378.3 L1052.2,1379.4 L1053.9,1380.5 L1055.6,1381.5 L1057.3,1382.6 L1059.1,1383.6 L1060.8,1384.6 L1062.5,1385.6 L1064.2,1386.6 L1066.0,1387.6 L1067.7,1388.6 L1069.5,1389.6 L1071.2,1390.5 L1073.0,1391.5 L1074.8,1392.4 L1076.5,1393.4 L1078.3,1394.3 L1080.1,1395.2 L1081.9,1396.2 L1083.6,1397.1 L1085.4,1398.0 L1087.2,1398.9 L1089.0,1399.8 L1090.8,1400.7 L1092.6,1401.6 L1094.4,1402.5 L1096.2,1403.3 L1098.0,1404.2 L1099.8,1405.1 L1101.6,1405.9 L1103.5,1406.7 L1105.3,1407.5 L1107.1,1408.3 L1109.0,1409.1 L1110.8,1409.9 L1112.7,1410.6 L1114.5,1411.4 L1116.4,1412.1 L1118.3,1412.8 L1120.2,1413.5 L1122.0,1414.2 L1123.9,1414.8 L1125.8,1415.5 L1127.7,1416.1 L1129.6,1416.7 L1131.5,1417.3 L1133.5,1417.8 L1135.4,1418.4 L1137.3,1418.9 L1139.2,1419.4 L1141.2,1419.9 L1143.1,1420.4 L1145.1,1420.9 L1147.0,1421.3 L1149.0,1421.8 L1150.9,1422.2 L1152.9,1422.6 L1154.8,1423.1 L1156.8,1423.5 L1158.8,1423.9 L1160.7,1424.3 L1162.7,1424.7 L1164.7,1425.1 L1166.6,1425.5 L1168.6,1425.9 L1170.6,1426.3 L1172.5,1426.7 L1174.5,1427.0 L1176.5,1427.4 L1178.4,1427.8 L1180.4,1428.1 L1182.4,1428.5 L1184.3,1428.9 L1186.3,1429.2 L1188.3,1429.6 L1190.3,1429.9 L1192.2,1430.2 L1194.2,1430.5 L1196.2,1430.9 L1198.2,1431.2 L1200.1,1431.5 L1202.1,1431.8 L1204.1,1432.1 L1206.1,1432.3 L1208.1,1432.6 L1210.0,1432.9 L1212.0,1433.2 L1214.0,1433.4 L1216.0,1433.7 L1218.0,1433.9 L1220.0,1434.2 L1222.0,1434.4 L1224.0,1434.6 L1225.9,1434.8 L1227.9,1435.1 L1229.9,1435.3 L1231.9,1435.5 L1233.9,1435.7 L1235.9,1435.9 L1237.9,1436.1 L1239.9,1436.3 L1241.9,1436.5 L1243.9,1436.7 L1245.9,1436.9 L1247.9,1437.1 L1249.9,1437.3 L1251.8,1437.5 L1253.8,1437.7 L1255.8,1437.9 L1257.8,1438.0 L1259.8,1438.2 L1261.8,1438.4 L1263.8,1438.6 L1265.8,1438.7 L1267.8,1438.9 L1269.8,1439.1 L1271.8,1439.3 L1273.8,1439.4 L1275.8,1439.6 L1277.8,1439.7 L1279.8,1439.9 L1281.8,1440.0 L1283.8,1440.2 L1285.8,1440.3 L1287.8,1440.5 L1289.8,1440.6 L1291.8,1440.8 L1293.8,1440.9 L1295.8,1441.0 L1297.8,1441.2 L1299.7,1441.3 L1301.7,1441.4 L1303.7,1441.5 L1305.7,1441.7 L1307.7,1441.8 L1309.7,1441.9 L1311.7,1442.0 L1313.7,1442.1 L1315.7,1442.2 L1317.7,1442.3 L1319.7,1442.4 L1321.7,1442.5 L1323.7,1442.6 L1325.7,1442.7 L1327.7,1442.8 L1329.7,1442.9 L1331.7,1443.0 L1333.7,1443.1 L1335.7,1443.2 L1337.7,1443.3 L1339.7,1443.4 L1341.7,1443.5 L1343.7,1443.5 L1345.7,1443.6 L1347.7,1443.7 L1349.7,1443.8 L1351.7,1443.9 L1353.7,1443.9 L1355.7,1444.0 L1357.7,1444.1 L1359.7,1444.2 L1361.7,1444.3 L1363.7,1444.3 L1365.7,1444.4 L1367.7,1444.5 L1369.7,1444.6 L1371.7,1444.6 L1373.8,1444.7 L1375.8,1444.8 L1377.8,1444.8 L1379.8,1444.9 L1381.8,1445.0 L1383.8,1445.1 L1385.8,1445.1 L1387.8,1445.2 L1389.8,1445.3 L1391.8,1445.3 L1393.8,1445.4 L1395.8,1445.5 L1397.8,1445.5 L1399.8,1445.6 L1401.8,1445.6 L1403.8,1445.7 L1405.8,1445.8 L1407.8,1445.8 L1409.8,1445.9 L1411.8,1446.0 L1413.8,1446.0 L1415.8,1446.1 L1417.8,1446.1 L1419.8,1446.2 L1421.8,1446.3 L1423.8,1446.3 L1425.8,1446.4 L1427.8,1446.4 L1429.8,1446.5 L1431.8,1446.6 L1433.8,1446.6 L1435.8,1446.7 L1437.8,1446.7 L1439.8,1446.8 L1441.8,1446.8 L1443.8,1446.9 L1445.8,1447.0 L1447.8,1447.0 L1449.8,1447.1 L1451.8,1447.1 L1453.8,1447.2 L1455.8,1447.2 L1457.8,1447.3 L1459.8,1447.3 L1461.8,1447.4 L1463.8,1447.5 L1465.8,1447.5 L1467.8,1447.6 L1469.8,1447.6 L1471.8,1447.7 L1473.8,1447.7 L1475.8,1447.8 L1477.8,1447.8 L1479.8,1447.9 L1481.8,1448.0 L1483.8,1448.0 L1485.8,1448.1 L1487.8,1448.1 L1489.8,1448.2 L1491.8,1448.2 L1493.8,1448.3 L1495.8,1448.3 L1497.8,1448.4 L1499.8,1448.4 L1501.8,1448.5 L1503.8,1448.6 L1505.8,1448.6 L1507.8,1448.7 L1509.8,1448.7 L1511.8,1448.8 L1513.8,1448.8 L1515.8,1448.9 L1517.8,1448.9 L1519.8,1449.0 L1521.8,1449.1 L1523.8,1449.1 L1525.8,1449.2 L1527.9,1449.2 L1529.9,1449.3 L1531.9,1449.3 L1533.9,1449.4 L1535.9,1449.4 L1537.9,1449.5 L1539.9,1449.6 L1541.9,1449.6 L1543.9,1449.7 L1545.9,1449.7 L1547.9,1449.8 L1549.9,1449.8 L1551.9,1449.9 L1553.9,1449.9 L1555.9,1450.0 L1557.9,1450.0 L1559.9,1450.1 L1561.9,1450.1 L1563.9,1450.2 L1565.9,1450.2 L1567.9,1450.3 L1569.9,1450.3 L1571.9,1450.4 L1573.9,1450.4 L1575.9,1450.5 L1577.9,1450.5 L1579.9,1450.6 L1581.9,1450.6 L1583.9,1450.7 L1585.9,1450.7 L1587.9,1450.8 L1589.9,1450.8 L1591.9,1450.8 L1593.9,1450.9 L1595.9,1450.9 L1597.9,1451.0 L1599.9,1451.0 L1601.9,1451.0 L1603.9,1451.1 L1605.9,1451.1 L1607.9,1451.1 L1609.9,1451.2 L1611.9,1451.2 L1613.9,1451.2 L1615.9,1451.3 L1617.9,1451.3 L1619.9,1451.3 L1621.9,1451.3 L1623.9,1451.4 L1625.9,1451.4 L1627.9,1451.4 L1629.9,1451.5 L1631.9,1451.5 L1633.9,1451.5 L1635.9,1451.5 L1637.9,1451.5 L1639.9,1451.6 L1641.9,1451.6 L1644.0,1451.6 L1646.0,1451.6 L1648.0,1451.7 L1650.0,1451.7 L1652.0,1451.7 L1654.0,1451.7 L1656.0,1451.7 L1658.0,1451.7 L1660.0,1451.8 L1662.0,1451.8 L1664.0,1451.8 L1666.0,1451.8 L1668.0,1451.8 L1670.0,1451.8 L1672.0,1451.9 L1674.0,1451.9 L1676.0,1451.9 L1678.0,1451.9 L1680.0,1451.9 L1682.0,1451.9 L1684.0,1452.0 L1686.0,1452.0 L1688.0,1452.0 L1690.0,1452.0"/>
<path stroke="#00FF00" d="M330.0,1433.3 L332.0,1433.3 L334.0,1433.2 L336.0,1433.2 L338.0,1433.2 L340.0,1433.2 L342.0,1433.2 L344.0,1433.2 L346.0,1433.3 L348.0,1433.3 L350.0,1433.3 L352.0,1433.3 L354.0,1433.3 L356.0,1433.4 L358.0,1433.4 L360.0,1433.4 L362.0,1433.5 L364.0,1433.6 L366.0,1433.6 L368.0,1433.7 L370.0,1433.8 L372.0,1433.9 L374.0,1434.0 L376.0,1434.1 L378.0,1434.2 L380.0,1434.3 L382.0,1434.4 L384.1,1434.5 L386.1,1434.6 L388.1,1434.6 L390.1,1434.7 L392.1,1434.8 L394.1,1434.8 L396.1,1434.8 L398.1,1434.8 L400.1,1434.8 L402.1,1434.8 L404.1,1434.7 L406.1,1434.6 L408.1,1434.5 L410.1,1434.3 L412.1,1434.2 L414.1,1434.0 L416.1,1433.7 L418.1,1433.5 L420.1,1433.2 L422.1,1432.9 L424.1,1432.5 L426.1,1432.1 L428.0,1431.7 L430.0,1431.3 L431.9,1430.8 L433.9,1430.2 L435.8,1429.6 L437.7,1429.0 L439.5,1428.3 L441.4,1427.6 L443.2,1426.8 L445.0,1425.9 L446.7,1425.0 L448.4,1424.0 L450.1,1423.0 L451.7,1421.9 L453.3,1420.7 L454.9,1419.5 L456.4,1418.2 L457.9,1416.9 L459.3,1415.5 L460.7,1414.1 L462.0,1412.6 L463.4,1411.1 L464.6,1409.6 L465.9,1408.0 L467.1,1406.4 L468.2,1404.8 L469.4,1403.1 L470.5,1401.4 L471.6,1399.7 L472.6,1398.0 L473.6,1396.3 L474.6,1394.6 L475.6,1392.8 L476.6,1391.0 L477.5,1389.2 L478.4,1387.5 L479.3,1385.6 L480.1,1383.8 L480.9,1382.0 L481.7,1380.1 L482.5,1378.3 L483.2,1376.4 L484.0,1374.6 L484.7,1372.7 L485.3,1370.8 L486.0,1368.9 L486.6,1367.0 L487.3,1365.1 L487.9,1363.2 L488.5,1361.3 L489.1,1359.4 L489.7,1357.4 L490.3,1355.5 L490.9,1353.6 L491.4,1351.7 L492.0,1349.8 L492.5,1347.8 L493.0,1345.9 L493.6,1344.0 L494.1,1342.0 L494.6,1340.1 L495.0,1338.1 L495.5,1336.2 L496.0,1334.3 L496.4,1332.3 L496.9,1330.4 L497.3,1328.4 L497.8,1326.5 L498.2,1324.5 L498.7,1322.5 L499.1,1320.6 L499.5,1318.6 L500.0,1316.7 L500.4,1314.7 L500.9,1312.8 L501.3,1310.8 L501.8,1308.9 L502.2,1306.9 L502.7,1305.0 L503.1,1303.0 L503.5,1301.1 L504.0,1299.1 L504.4,1297.2 L504.8,1295.2 L505.2,1293.2 L505.6,1291.3 L506.0,1289.3 L506.4,1287.3 L506.7,1285.4 L507.1,1283.4 L507.4,1281.4 L507.7,1279.5 L508.1,1277.5 L508.4,1275.5 L508.7,1273.5 L509.0,1271.6 L509.3,1269.6 L509.6,1267.6 L509.9,1265.6 L510.2,1263.6 L510.5,1261.6 L510.7,1259.7 L511.0,1257.7 L511.3,1255.7 L511.6,1253.7 L511.8,1251.7 L512.1,1249.7 L512.4,1247.8 L512.7,1245.8 L512.9,1243.8 L513.2,1241.8 L513.5,1239.8 L513.8,1237.8 L514.0,1235.9 L514.3,1233.9 L514.6,1231.9 L514.9,1229.9 L515.1,1227.9 L515.4,1225.9 L515.7,1224.0 L516.0,1222.0 L516.2,1220.0 L516.5,1218.0 L516.8,1216.0 L517.0,1214.0 L517.3,1212.1 L517.6,1210.1 L517.8,1208.1 L518.1,1206.1 L518.3,1204.1 L518.6,1202.1 L518.9,1200.1 L519.1,1198.2 L519.4,1196.2 L519.6,1194.2 L519.8,1192.2 L520.1,1190.2 L520.3,1188.2 L520.6,1186.2 L520.8,1184.2 L521.0,1182.3 L521.3,1180.3 L521.5,1178.3 L521.7,1176.3 L522.0,1174.3 L522.2,1172.3 L522.4,1170.3 L522.7,1168.3 L522.9,1166.3 L523.1,1164.4 L523.4,1162.4 L523.6,1160.4 L523.8,1158.4 L524.1,1156.4 L524.3,1154.4 L524.5,1152.4 L524.8,1150.4 L525.0,1148.5 L525.2,1146.5 L525.5,1144.5 L525.7,1142.5 L526.0,1140.5 L526.2,1138.5 L526.5,1136.5 L526.7,1134.5 L527.0,1132.6 L527.2,1130.6 L527.5,1128.6 L527.7,1126.6 L528.0,1124.6 L528.3,1122.6 L528.5,1120.6 L528.8,1118.7 L529.1,1116.7 L529.3,1114.7 L529.6,1112.7 L529.9,1110.7 L530.1,1108.7 L530.4,1106.8 L530.7,1104.8 L530.9,1102.8 L531.2,1100.8 L531.4,1098.8 L531.7,1096.8 L532.0,1094.8 L532.2,1092.9 L532.5,1090.9 L532.8,1088.9 L533.0,1086.9 L533.3,1084.9 L533.5,1082.9 L533.8,1080.9 L534.1,1079.0 L534.3,1077.0 L534.6,1075.0 L534.8,1073.0 L535.0,1071.0 L535.3,1069.0 L535.5,1067.0 L535.8,1065.1 L536.0,1063.1 L536.2,1061.1 L536.5,1059.1 L536.7,1057.1 L536.9,1055.1 L537.2,1053.1 L537.4,1051.1 L537.6,1049.1 L537.8,1047.1 L538.0,1045.2 L538.2,1043.2 L538.4,1041.2 L538.6,1039.2 L538.8,1037.2 L539.0,1035.2 L539.2,1033.2 L539.4,1031.2 L539.6,1029.2 L539.8,1027.2 L540.0,1025.2 L540.2,1023.2 L540.4,1021.3 L540.6,1019.3 L540.8,1017.3 L541.0,1015.3 L541.2,1013.3 L541.4,1011.3 L541.6,1009.3 L541.8,1007.3 L542.0,1005.3 L542.2,1003.3 L542.4,1001.3 L542.6,999.3 L542.8,997.3 L543.0,995.3 L543.1,993.4 L543.3,991.4 L543.5,989.4 L543.7,987.4 L543.9,985.4 L544.1,983.4 L544.3,981.4 L544.5,979.4 L544.7,977.4 L544.9,975.4 L545.1,973.4 L545.3,971.4 L545.5,969.4 L545.6,967.4 L545.8,965.5 L546.0,963.5 L546.2,961.5 L546.4,959.5 L546.6,957.5 L546.7,955.5 L546.9,953.5 L547.1,951.5 L547.3,949.5 L547.5,947.5 L547.7,945.5 L547.9,943.5 L548.0,941.5 L548.2,939.5 L548.4,937.5 L548.6,935.6 L548.8,933.6 L549.0,931.6 L549.2,929.6 L549.4,927.6 L549.6,925.6 L549.8,923.6 L550.0,921.6 L550.2,919.6 L550.5,917.6 L550.7,915.6 L550.9,913.6 L551.0,911.6 L551.2,909.7 L551.4,907.7 L551.6,905.7 L551.8,903.7 L552.0,901.7 L552.2,899.7 L552.4,897.7 L552.6,895.7 L552.7,893.7 L552.9,891.7 L553.1,889.7 L553.3,887.7 L553.5,885.7 L553.6,883.7 L553.8,881.7 L554.0,879.7 L554.2,877.8 L554.4,875.8 L554.5,873.8 L554.7,871.8 L554.9,869.8 L555.1,867.8 L555.3,865.8 L555.5,863.8 L555.6,861.8 L555.8,859.8 L556.0,857.8 L556.2,855.8 L556.4,853.8 L556.6,851.8 L556.8,849.8 L557.0,847.9 L557.1,845.9 L557.3,843.9 L557.5,841.9 L557.7,839.9 L557.9,837.9 L558.1,835.9 L558.3,833.9 L558.4,831.9 L558.6,829.9 L558.8,827.9 L559.0,825.9 L559.2,823.9 L559.4,821.9 L559.5,819.9 L559.7,817.9 L559.9,816.0 L560.1,814.0 L560.3,812.0 L560.4,810.0 L560.6,808.0 L560.8,806.0 L561.0,804.0 L561.2,802.0 L561.3,800.0 L561.5,798.0 L561.7,796.0 L561.9,794.0 L562.1,792.0 L562.3,790.0 L562.4,788.0 L562.6,786.0 L562.8,784.0 L563.0,782.1 L563.2,780.1 L563.4,778.1 L563.6,776.1 L563.8,774.1 L563.9,772.1 L564.1,770.1 L564.3,768.1 L564.5,766.1 L564.7,764.1 L564.9,762.1 L565.1,760.1 L565.3,758.1 L565.5,756.2 L565.7,754.2 L565.9,752.2 L566.2,750.2 L566.4,748.2 L566.6,746.2 L566.8,744.2 L567.0,742.2 L567.2,740.2 L567.5,738.2 L567.7,736.2 L567.9,734.3 L568.2,732.3 L568.4,730.3 L568.6,728.3 L568.9,726.3 L569.1,724.3 L569.4,722.3 L569.6,720.3 L569.9,718.4 L570.1,716.4 L570.4,714.4 L570.7,712.4 L570.9,710.4 L571.2,708.4 L571.4,706.4 L571.7,704.5 L572.0,702.5 L572.2,700.5 L572.5,698.5 L572.8,696.5 L573.0,694.5 L573.3,692.6 L573.6,690.6 L573.8,688.6 L574.1,686.6 L574.3,684.6 L574.6,682.6 L574.9,680.6 L575.1,678.7 L575.4,676.7 L575.7,674.7 L576.0,672.7 L576.2,670.7 L576.5,668.7 L576.8,666.8 L577.1,664.8 L577.4,662.8 L577.7,660.8 L577.9,658.8 L578.2,656.9 L578.5,654.9 L578.8,652.9 L579.1,650.9 L579.4,648.9 L579.8,647.0 L580.1,645.0 L580.4,643.0 L580.7,641.0 L581.0,639.0 L581.3,637.1 L581.6,635.1 L581.9,633.1 L582.2,631.1 L582.5,629.2 L582.8,627.2 L583.1,625.2 L583.4,623.2 L583.7,621.2 L583.9,619.2 L584.2,617.3 L584.5,615.3 L584.8,613.3 L585.1,611.3 L585.4,609.3 L585.7,607.4 L585.9,605.4 L586.2,603.4 L586.5,601.4 L586.8,599.4 L587.1,597.4 L587.4,595.5 L587.7,593.5 L588.0,591.5 L588.3,589.5 L588.6,587.5 L588.9,585.6 L589.2,583.6 L589.5,581.6 L589.8,579.6 L590.1,577.7 L590.4,575.7 L590.7,573.7 L591.0,571.7 L591.3,569.7 L591.6,567.8 L592.0,565.8 L592.3,563.8 L592.6,561.8 L592.9,559.9 L593.2,557.9 L593.6,555.9 L593.9,553.9 L594.2,552.0 L594.5,550.0 L594.8,548.0 L595.2,546.0 L595.5,544.0 L595.8,542.1 L596.1,540.1 L596.5,538.1 L596.8,536.1 L597.1,534.2 L597.4,532.2 L597.8,530.2 L598.1,528.2 L598.4,526.3 L598.8,524.3 L599.1,522.3 L599.5,520.4 L599.8,518.4 L600.1,516.4 L600.5,514.4 L600.8,512.5 L601.2,510.5 L601.5,508.5 L601.9,506.6 L602.3,504.6 L602.7,502.6 L603.0,500.7 L603.4,498.7 L603.8,496.7 L604.2,494.8 L604.6,492.8 L605.0,490.8 L605.4,488.9 L605.8,486.9 L606.2,485.0 L606.6,483.0 L607.0,481.0 L607.4,479.1 L607.8,477.1 L608.2,475.2 L608.6,473.2 L609.0,471.2 L609.5,469.3 L609.9,467.3 L610.3,465.4 L610.8,463.4 L611.2,461.5 L611.7,459.5 L612.1,457.6 L612.6,455.7 L613.1,453.7 L613.6,451.8 L614.1,449.8 L614.6,447.9 L615.1,446.0 L615.6,444.0 L616.2,442.1 L616.7,440.2 L617.3,438.2 L617.9,436.3 L618.4,434.4 L619.0,432.4 L619.7,430.5 L620.3,428.6 L620.9,426.6 L621.6,424.7 L622.3,422.7 L623.0,420.8 L623.7,418.9 L624.4,416.9 L625.2,415.0 L626.0,413.0 L626.9,411.1 L627.7,409.2 L628.6,407.3 L629.6,405.4 L630.6,403.6 L631.6,401.8 L632.7,400.0 L633.9,398.3 L635.1,396.7 L636.3,395.1 L637.7,393.6 L639.0,392.2 L640.5,390.9 L642.0,389.8 L643.5,388.8 L645.1,388.0 L646.7,387.4 L648.3,387.0 L650.0,386.8 L651.6,386.9 L653.2,387.3 L654.8,387.8 L656.3,388.6 L657.8,389.6 L659.3,390.7 L660.6,392.0 L662.0,393.4 L663.2,394.9 L664.5,396.5 L665.6,398.1 L666.8,399.8 L667.8,401.6 L668.9,403.4 L669.9,405.3 L670.8,407.1 L671.7,409.0 L672.6,411.0 L673.5,412.9 L674.4,414.8 L675.2,416.8 L676.0,418.7 L676.8,420.6 L677.6,422.5 L678.4,424.4 L679.2,426.3 L680.0,428.2 L680.7,430.1 L681.5,432.0 L682.3,433.8 L683.0,435.7 L683.8,437.6 L684.6,439.4 L685.3,441.3 L686.1,443.2 L686.8,445.0 L687.6,446.9 L688.3,448.7 L689.1,450.6 L689.8,452.4 L690.5,454.3 L691.2,456.2 L692.0,458.0 L692.6,459.9 L693.3,461.8 L694.0,463.7 L694.7,465.5 L695.3,467.4 L696.0,469.3 L696.6,471.2 L697.2,473.1 L697.8,475.0 L698.4,476.9 L698.9,478.9 L699.5,480.8 L700.1,482.7 L700.6,484.6 L701.2,486.5 L701.8,488.5 L702.3,490.4 L702.9,492.3 L703.4,494.2 L704.0,496.1 L704.6,498.1 L705.1,500.0 L705.7,501.9 L706.2,503.8 L706.8,505.8 L707.3,507.7 L707.8,509.6 L708.4,511.5 L708.9,513.5 L709.4,515.4 L709.9,517.3 L710.4,519.3 L710.9,521.2 L711.3,523.2 L711.8,525.1 L712.2,527.1 L712.7,529.0 L713.1,531.0 L713.6,532.9 L714.0,534.8 L714.5,536.8 L714.9,538.7 L715.4,540.7 L715.9,542.6 L716.4,544.5 L717.0,546.5 L717.5,548.4 L718.0,550.3 L718.6,552.2 L719.2,554.2 L719.7,556.1 L720.3,558.0 L720.9,559.9 L721.5,561.8 L722.0,563.7 L722.6,565.7 L723.2,567.6 L723.8,569.5 L724.4,571.4 L725.0,573.3 L725.6,575.2 L726.2,577.1 L726.8,579.0 L727.4,581.0 L728.0,582.9 L728.6,584.8 L729.1,586.7 L729.7,588.6 L730.3,590.5 L730.9,592.5 L731.4,594.4 L732.0,596.3 L732.5,598.2 L733.1,600.2 L733.6,602.1 L734.2,604.0 L734.7,605.9 L735.2,607.9 L735.7,609.8 L736.2,611.7 L736.7,613.7 L737.2,615.6 L737.7,617.6 L738.2,619.5 L738.6,621.5 L739.1,623.4 L739.5,625.4 L740.0,627.3 L740.4,629.3 L740.9,631.2 L741.3,633.2 L741.7,635.1 L742.1,637.1 L742.6,639.0 L743.0,641.0 L743.4,643.0 L743.8,644.9 L744.2,646.9 L744.6,648.8 L745.0,650.8 L745.4,652.8 L745.8,654.7 L746.3,656.7 L746.7,658.6 L747.1,660.6 L747.5,662.6 L747.9,664.5 L748.4,666.5 L748.8,668.4 L749.3,670.4 L749.7,672.3 L750.2,674.3 L750.6,676.2 L751.1,678.2 L751.6,680.1 L752.0,682.1 L752.5,684.0 L753.0,686.0 L753.5,687.9 L753.9,689.8 L754.4,691.8 L754.9,693.7 L755.4,695.7 L755.9,697.6 L756.3,699.6 L756.8,701.5 L757.3,703.4 L757.8,705.4 L758.2,707.3 L758.7,709.3 L759.2,711.2 L759.7,713.2 L760.1,715.1 L760.6,717.1 L761.1,719.0 L761.6,721.0 L762.0,722.9 L762.5,724.8 L763.0,726.8 L763.5,728.7 L763.9,730.7 L764.4,732.6 L764.9,734.6 L765.4,736.5 L765.9,738.5 L766.4,740.4 L766.8,742.3 L767.3,744.3 L767.8,746.2 L768.3,748.2 L768.8,750.1 L769.3,752.0 L769.8,754.0 L770.3,755.9 L770.8,757.9 L771.3,759.8 L771.8,761.7 L772.3,763.7 L772.9,765.6 L773.4,767.5 L773.9,769.5 L774.4,771.4 L774.9,773.3 L775.4,775.3 L775.9,777.2 L776.4,779.2 L776.9,781.1 L777.5,783.0 L778.0,785.0 L778.5,786.9 L779.0,788.8 L779.5,790.8 L780.0,792.7 L780.5,794.7 L781.0,796.6 L781.4,798.5 L781.9,800.5 L782.4,802.4 L782.9,804.4 L783.3,806.3 L783.8,808.3 L784.2,810.2 L784.7,812.2 L785.1,814.1 L785.6,816.1 L786.0,818.0 L786.4,820.0 L786.9,821.9 L787.3,823.9 L787.7,825.8 L788.1,827.8 L788.6,829.8 L789.0,831.7 L789.4,833.7 L789.8,835.6 L790.2,837.6 L790.7,839.6 L791.1,841.5 L791.5,843.5 L791.9,845.4 L792.4,847.4 L792.8,849.3 L793.2,851.3 L793.7,853.3 L794.1,855.2 L794.5,857.2 L795.0,859.1 L795.4,861.1 L795.9,863.0 L796.4,865.0 L796.8,866.9 L797.3,868.8 L797.8,870.8 L798.3,872.7 L798.8,874.7 L799.3,876.6 L799.8,878.5 L800.3,880.5 L800.9,882.4 L801.4,884.3 L802.0,886.2 L802.5,888.2 L803.1,890.1 L803.6,892.0 L804.2,893.9 L804.7,895.9 L805.3,897.8 L805.9,899.7 L806.4,901.6 L807.0,903.6 L807.5,905.5 L808.1,907.4 L808.6,909.3 L809.2,911.3 L809.7,913.2 L810.2,915.1 L810.8,917.0 L811.3,919.0 L811.8,920.9 L812.3,922.9 L812.8,924.8 L813.3,926.7 L813.8,928.7 L814.3,930.6 L814.8,932.5 L815.3,934.5 L815.8,936.4 L816.3,938.4 L816.7,940.3 L817.2,942.3 L817.7,944.2 L818.2,946.1 L818.7,948.1 L819.2,950.0 L819.7,952.0 L820.2,953.9 L820.7,955.8 L821.2,957.8 L821.7,959.7 L822.2,961.7 L822.7,963.6 L823.2,965.5 L823.7,967.5 L824.2,969.4 L824.7,971.3 L825.2,973.3 L825.8,975.2 L826.3,977.1 L826.8,979.1 L827.4,981.0 L827.9,982.9 L828.4,984.9 L829.0,986.8 L829.5,988.7 L830.1,990.6 L830.6,992.6 L831.2,994.5 L831.8,996.4 L832.3,998.3 L832.9,1000.2 L833.5,1002.1 L834.1,1004.1 L834.7,1006.0 L835.2,1007.9 L835.8,1009.8 L836.4,1011.7 L837.0,1013.6 L837.6,1015.5 L838.2,1017.4 L838.8,1019.4 L839.5,1021.3 L840.1,1023.2 L840.7,1025.1 L841.3,1027.0 L841.9,1028.9 L842.5,1030.8 L843.1,1032.7 L843.8,1034.6 L844.4,1036.5 L845.0,1038.4 L845.6,1040.3 L846.2,1042.2 L846.8,1044.1 L847.4,1046.1 L848.0,1048.0 L848.5,1049.9 L849.1,1051.8 L849.7,1053.7 L850.3,1055.6 L850.8,1057.6 L851.4,1059.5 L851.9,1061.4 L852.5,1063.3 L853.0,1065.3 L853.5,1067.2 L854.1,1069.1 L854.6,1071.1 L855.2,1073.0 L855.7,1074.9 L856.2,1076.8 L856.8,1078.8 L857.3,1080.7 L857.9,1082.6 L858.4,1084.5 L859.0,1086.5 L859.5,1088.4 L860.1,1090.3 L860.7,1092.2 L861.3,1094.1 L861.8,1096.1 L862.4,1098.0 L863.0,1099.9 L863.6,1101.8 L864.2,1103.7 L864.8,1105.6 L865.4,1107.5 L866.0,1109.4 L866.6,1111.3 L867.3,1113.2 L867.9,1115.2 L868.5,1117.1 L869.1,1119.0 L869.8,1120.9 L870.4,1122.8 L871.0,1124.7 L871.7,1126.6 L872.3,1128.5 L873.0,1130.4 L873.6,1132.2 L874.3,1134.1 L875.0,1136.0 L875.6,1137.9 L876.3,1139.8 L877.0,1141.7 L877.7,1143.5 L878.5,1145.4 L879.2,1147.3 L879.9,1149.1 L880.7,1151.0 L881.5,1152.8 L882.3,1154.6 L883.1,1156.5 L883.9,1158.3 L884.7,1160.1 L885.6,1161.9 L886.4,1163.7 L887.3,1165.5 L888.2,1167.3 L889.1,1169.1 L890.0,1170.9 L890.9,1172.7 L891.9,1174.4 L892.8,1176.2 L893.7,1178.0 L894.6,1179.8 L895.6,1181.5 L896.5,1183.3 L897.4,1185.1 L898.4,1186.9 L899.3,1188.6 L900.2,1190.4 L901.1,1192.2 L902.0,1194.0 L902.9,1195.8 L903.8,1197.6 L904.7,1199.4 L905.6,1201.2 L906.5,1203.0 L907.4,1204.8 L908.3,1206.6 L909.2,1208.3 L910.1,1210.1 L911.0,1211.9 L911.9,1213.7 L912.8,1215.5 L913.7,1217.3 L914.6,1219.0 L915.6,1220.8 L916.5,1222.6 L917.5,1224.3 L918.4,1226.1 L919.4,1227.8 L920.4,1229.5 L921.5,1231.3 L922.5,1233.0 L923.5,1234.7 L924.6,1236.4 L925.6,1238.1 L926.7,1239.8 L927.8,1241.5 L928.9,1243.1 L930.0,1244.8 L931.1,1246.5 L932.2,1248.1 L933.4,1249.8 L934.5,1251.4 L935.6,1253.1 L936.8,1254.7 L938.0,1256.4 L939.1,1258.0 L940.3,1259.6 L941.5,1261.2 L942.7,1262.8 L943.8,1264.5 L945.0,1266.1 L946.2,1267.7 L947.4,1269.3 L948.7,1270.9 L949.9,1272.5 L951.1,1274.1 L952.3,1275.6 L953.5,1277.2 L954.8,1278.8 L956.0,1280.4 L957.2,1281.9 L958.5,1283.5 L959.8,1285.1 L961.0,1286.6 L962.3,1288.2 L963.5,1289.7 L964.8,1291.3 L966.1,1292.8 L967.4,1294.4 L968.7,1295.9 L969.9,1297.4 L971.2,1299.0 L972.5,1300.5 L973.8,1302.0 L975.2,1303.5 L976.5,1305.0 L977.8,1306.5 L979.1,1308.0 L980.4,1309.5 L981.8,1311.0 L983.1,1312.5 L984.4,1314.0 L985.8,1315.5 L987.1,1317.0 L988.5,1318.5 L989.9,1319.9 L991.2,1321.4 L992.6,1322.8 L994.0,1324.3 L995.3,1325.8 L996.7,1327.2 L998.1,1328.6 L999.5,1330.1 L1000.9,1331.5 L1002.3,1332.9 L1003.8,1334.3 L1005.2,1335.7 L1006.6,1337.1 L1008.1,1338.5 L1009.5,1339.9 L1011.0,1341.3 L1012.5,1342.6 L1013.9,1344.0 L1015.4,1345.3 L1016.9,1346.6 L1018.4,1348.0 L1019.9,1349.3 L1021.5,1350.6 L1023.0,1351.9 L1024.5,1353.2 L1026.1,1354.4 L1027.6,1355.7 L1029.2,1357.0 L1030.7,1358.2 L1032.3,1359.5 L1033.9,1360.7 L1035.5,1361.9 L1037.1,1363.1 L1038.7,1364.3 L1040.3,1365.5 L1041.9,1366.7 L1043.6,1367.8 L1045.2,1369.0 L1046.8,1370.1 L1048.5,1371.2 L1050.2,1372.4 L1051.8,1373.5 L1053.5,1374.5 L1055.2,1375.6 L1056.9,1376.7 L1058.6,1377.7 L1060.3,1378.8 L1062.0,1379.8 L1063.8,1380.8 L1065.5,1381.8 L1067.2,1382.8 L1069.0,1383.8 L1070.7,1384.8 L1072.5,1385.8 L1074.2,1386.7 L1076.0,1387.7 L1077.7,1388.7 L1079.5,1389.7 L1081.2,1390.6 L1083.0,1391.6 L1084.7,1392.6 L1086.4,1393.6 L1088.2,1394.6 L1089.9,1395.5 L1091.7,1396.5 L1093.5,1397.5 L1095.2,1398.4 L1097.0,1399.4 L1098.7,1400.3 L1100.5,1401.3 L1102.3,1402.2 L1104.1,1403.1 L1105.9,1404.0 L1107.7,1404.9 L1109.5,1405.7 L1111.3,1406.6 L1113.1,1407.4 L1114.9,1408.2 L1116.8,1409.0 L1118.6,1409.8 L1120.5,1410.5 L1122.3,1411.3 L1124.2,1412.0 L1126.1,1412.7 L1128.0,1413.3 L1129.9,1414.0 L1131.8,1414.6 L1133.7,1415.2 L1135.6,1415.8 L1137.5,1416.3 L1139.4,1416.9 L1141.3,1417.4 L1143.3,1417.9 L1145.2,1418.4 L1147.2,1418.9 L1149.1,1419.4 L1151.1,1419.8 L1153.0,1420.3 L1155.0,1420.7 L1156.9,1421.2 L1158.9,1421.6 L1160.8,1422.1 L1162.8,1422.5 L1164.8,1422.9 L1166.7,1423.3 L1168.7,1423.8 L1170.6,1424.2 L1172.6,1424.6 L1174.6,1425.0 L1176.5,1425.4 L1178.5,1425.8 L1180.4,1426.2 L1182.4,1426.6 L1184.4,1427.0 L1186.3,1427.3 L1188.3,1427.7 L1190.3,1428.1 L1192.3,1428.4 L1194.2,1428.8 L1196.2,1429.1 L1198.2,1429.4 L1200.2,1429.7 L1202.1,1430.0 L1204.1,1430.3 L1206.1,1430.6 L1208.1,1430.9 L1210.1,1431.1 L1212.0,1431.4 L1214.0,1431.6 L1216.0,1431.9 L1218.0,1432.1 L1220.0,1432.4 L1222.0,1432.6 L1224.0,1432.8 L1226.0,1433.0 L1228.0,1433.2 L1230.0,1433.4 L1231.9,1433.6 L1233.9,1433.8 L1235.9,1434.0 L1237.9,1434.2 L1239.9,1434.4 L1241.9,1434.6 L1243.9,1434.8 L1245.9,1435.0 L1247.9,1435.1 L1249.9,1435.3 L1251.9,1435.5 L1253.9,1435.7 L1255.9,1435.9 L1257.9,1436.0 L1259.9,1436.2 L1261.9,1436.4 L1263.9,1436.6 L1265.9,1436.7 L1267.8,1436.9 L1269.8,1437.1 L1271.8,1437.2 L1273.8,1437.4 L1275.8,1437.5 L1277.8,1437.7 L1279.8,1437.9 L1281.8,1438.0 L1283.8,1438.2 L1285.8,1438.3 L1287.8,1438.5 L1289.8,1438.6 L1291.8,1438.8 L1293.8,1438.9 L1295.8,1439.1 L1297.8,1439.2 L1299.8,1439.3 L1301.8,1439.5 L1303.8,1439.6 L1305.8,1439.7 L1307.8,1439.9 L1309.8,1440.0 L1311.8,1440.1 L1313.8,1440.2 L1315.8,1440.3 L1317.8,1440.5 L1319.8,1440.6 L1321.8,1440.7 L1323.8,1440.8 L1325.8,1440.9 L1327.8,1441.0 L1329.8,1441.1 L1331.8,1441.2 L1333.8,1441.3 L1335.8,1441.4 L1337.8,1441.5 L1339.8,1441.6 L1341.8,1441.7 L1343.8,1441.8 L1345.8,1441.9 L1347.8,1442.0 L1349.8,1442.1 L1351.8,1442.2 L1353.8,1442.2 L1355.8,1442.3 L1357.8,1442.4 L1359.8,1442.5 L1361.8,1442.6 L1363.8,1442.6 L1365.8,1442.7 L1367.8,1442.8 L1369.8,1442.8 L1371.8,1442.9 L1373.8,1443.0 L1375.8,1443.0 L1377.8,1443.1 L1379.8,1443.2 L1381.8,1443.2 L1383.8,1443.3 L1385.8,1443.4 L1387.8,1443.4 L1389.8,1443.5 L1391.8,1443.5 L1393.8,1443.6 L1395.8,1443.6 L1397.8,1443.7 L1399.8,1443.8 L1401.8,1443.8 L1403.8,1443.9 L1405.8,1443.9 L1407.8,1444.0 L1409.8,1444.0 L1411.8,1444.1 L1413.8,1444.1 L1415.8,1444.2 L1417.8,1444.2 L1419.8,1444.3 L1421.8,1444.3 L1423.8,1444.4 L1425.8,1444.4 L1427.8,1444.4 L1429.8,1444.5 L1431.8,1444.5 L1433.8,1444.6 L1435.8,1444.6 L1437.8,1444.7 L1439.8,1444.7 L1441.8,1444.8 L1443.8,1444.8 L1445.8,1444.9 L1447.8,1444.9 L1449.8,1445.0 L1451.8,1445.0 L1453.8,1445.1 L1455.8,1445.1 L1457.8,1445.2 L1459.8,1445.2 L1461.8,1445.3 L1463.8,1445.3 L1465.8,1445.4 L1467.9,1445.4 L1469.9,1445.5 L1471.9,1445.5 L1473.9,1445.6 L1475.9,1445.6 L1477.9,1445.7 L1479.9,1445.8 L1481.9,1445.8 L1483.9,1445.9 L1485.9,1445.9 L1487.9,1446.0 L1489.9,1446.0 L1491.9,1446.1 L1493.9,1446.2 L1495.9,1446.2 L1497.9,1446.3 L1499.9,1446.3 L1501.9,1446.4 L1503.9,1446.5 L1505.9,1446.5 L1507.9,1446.6 L1509.9,1446.7 L1511.9,1446.7 L1513.9,1446.8 L1515.9,1446.9 L1517.9,1446.9 L1519.9,1447.0 L1521.9,1447.1 L1523.9,1447.2 L1525.9,1447.2 L1527.9,1447.3 L1529.9,1447.4 L1531.9,1447.5 L1533.9,1447.5 L1535.9,1447.6 L1537.9,1447.7 L1539.9,1447.8 L1541.9,1447.8 L1543.9,1447.9 L1545.9,1448.0 L1547.9,1448.1 L1549.9,1448.2 L1551.9,1448.2 L1553.9,1448.3 L1555.9,1448.4 L1557.9,1448.5 L1559.9,1448.6 L1561.9,1448.6 L1563.9,1448.7 L1565.9,1448.8 L1567.9,1448.9 L1569.9,1448.9 L1571.9,1449.0 L1573.9,1449.1 L1575.9,1449.2 L1577.9,1449.2 L1579.9,1449.3 L1581.9,1449.4 L1583.9,1449.5 L1585.9,1449.5 L1587.9,1449.6 L1589.9,1449.7 L1591.9,1449.7 L1593.9,1449.8 L1595.9,1449.9 L1597.9,1449.9 L1599.9,1450.0 L1601.9,1450.0 L1603.9,1450.1 L1605.9,1450.2 L1607.9,1450.2 L1609.9,1450.3 L1611.9,1450.3 L1613.9,1450.4 L1615.9,1450.4 L1617.9,1450.5 L1619.9,1450.5 L1621.9,1450.5 L1623.9,1450.6 L1625.9,1450.6 L1627.9,1450.7 L1629.9,1450.7 L1631.9,1450.7 L1633.9,1450.8 L1635.9,1450.8 L1637.9,1450.8 L1639.9,1450.9 L1641.9,1450.9 L1644.0,1450.9 L1646.0,1451.0 L1648.0,1451.0 L1650.0,1451.0 L1652.0,1451.1 L1654.0,1451.1 L1656.0,1451.1 L1658.0,1451.1 L1660.0,1451.2 L1662.0,1451.2 L1664.0,1451.2 L1666.0,1451.2 L1668.0,1451.3 L1670.0,1451.3 L1672.0,1451.3 L1674.0,1451.3 L1676.0,1451.4 L1678.0,1451.4 L1680.0,1451.4 L1682.0,1451.4 L1684.0,1451.4 L1686.0,1451.5 L1688.0,1451.5 L1690.0,1451.5"/>
<path stroke="#FFC000" d="M330.0,1444.0 L332.0,1443.9 L334.0,1443.8 L336.0,1443.7 L338.0,1443.6 L340.0,1443.5 L342.0,1443.4 L344.0,1443.2 L346.0,1443.1 L348.0,1443.0 L350.0,1442.9 L352.0,1442.8 L354.0,1442.7 L356.0,1442.5 L358.0,1442.4 L360.0,1442.3 L362.0,1442.2 L364.0,1442.0 L366.0,1441.9 L368.0,1441.7 L370.0,1441.6 L372.0,1441.4 L374.0,1441.3 L376.0,1441.1 L378.0,1441.0 L380.0,1440.8 L382.0,1440.6 L384.0,1440.4 L386.0,1440.3 L388.0,1440.1 L390.0,1439.9 L392.0,1439.7 L394.0,1439.5 L396.0,1439.3 L398.0,1439.1 L400.0,1438.9 L402.0,1438.7 L404.0,1438.5 L406.0,1438.2 L408.0,1438.0 L410.0,1437.7 L412.0,1437.5 L414.0,1437.2 L416.0,1436.8 L418.0,1436.5 L419.9,1436.0 L421.9,1435.6 L423.8,1435.1 L425.7,1434.6 L427.7,1434.0 L429.5,1433.4 L431.4,1432.7 L433.3,1432.0 L435.1,1431.2 L436.9,1430.4 L438.7,1429.5 L440.4,1428.5 L442.1,1427.5 L443.8,1426.5 L445.5,1425.4 L447.1,1424.2 L448.6,1423.0 L450.2,1421.7 L451.7,1420.4 L453.2,1419.1 L454.6,1417.7 L456.0,1416.3 L457.4,1414.8 L458.7,1413.3 L460.0,1411.8 L461.3,1410.3 L462.6,1408.7 L463.8,1407.1 L465.0,1405.5 L466.2,1403.9 L467.4,1402.2 L468.5,1400.6 L469.7,1398.9 L470.8,1397.2 L471.9,1395.5 L473.0,1393.8 L474.0,1392.1 L475.1,1390.4 L476.1,1388.7 L477.1,1386.9 L478.0,1385.2 L479.0,1383.4 L479.9,1381.6 L480.8,1379.8 L481.6,1378.0 L482.5,1376.2 L483.3,1374.4 L484.0,1372.5 L484.8,1370.7 L485.5,1368.8 L486.1,1366.9 L486.8,1365.0 L487.4,1363.1 L488.0,1361.2 L488.5,1359.3 L489.0,1357.4 L489.6,1355.4 L490.1,1353.5 L490.6,1351.6 L491.1,1349.6 L491.6,1347.7 L492.1,1345.7 L492.6,1343.8 L493.1,1341.9 L493.6,1339.9 L494.2,1338.0 L494.7,1336.1 L495.2,1334.1 L495.8,1332.2 L496.3,1330.3 L496.9,1328.3 L497.4,1326.4 L498.0,1324.5 L498.5,1322.5 L499.1,1320.6 L499.6,1318.7 L500.1,1316.7 L500.7,1314.8 L501.2,1312.9 L501.7,1310.9 L502.3,1309.0 L502.8,1307.1 L503.3,1305.2 L503.9,1303.2 L504.5,1301.3 L505.0,1299.4 L505.6,1297.5 L506.2,1295.6 L506.8,1293.7 L507.5,1291.8 L508.1,1289.9 L508.8,1288.0 L509.5,1286.1 L510.2,1284.3 L510.9,1282.4 L511.6,1280.5 L512.3,1278.6 L513.0,1276.8 L513.6,1274.9 L514.3,1273.0 L515.0,1271.1 L515.6,1269.3 L516.2,1267.4 L516.7,1265.4 L517.3,1263.5 L517.8,1261.6 L518.3,1259.7 L518.8,1257.7 L519.3,1255.8 L519.8,1253.8 L520.2,1251.9 L520.7,1249.9 L521.1,1248.0 L521.5,1246.0 L522.0,1244.1 L522.4,1242.1 L522.9,1240.2 L523.3,1238.2 L523.8,1236.3 L524.2,1234.3 L524.7,1232.4 L525.1,1230.4 L525.6,1228.5 L526.1,1226.5 L526.6,1224.6 L527.1,1222.6 L527.6,1220.7 L528.1,1218.8 L528.6,1216.8 L529.2,1214.9 L529.7,1213.0 L530.3,1211.0 L530.8,1209.1 L531.4,1207.2 L532.0,1205.3 L532.5,1203.4 L533.1,1201.4 L533.7,1199.5 L534.3,1197.6 L534.8,1195.7 L535.4,1193.8 L536.0,1191.8 L536.6,1189.9 L537.1,1188.0 L537.7,1186.1 L538.3,1184.1 L538.8,1182.2 L539.4,1180.3 L539.9,1178.4 L540.5,1176.4 L541.0,1174.5 L541.6,1172.6 L542.1,1170.6 L542.6,1168.7 L543.2,1166.8 L543.7,1164.9 L544.3,1162.9 L544.8,1161.0 L545.3,1159.1 L545.9,1157.1 L546.4,1155.2 L546.9,1153.3 L547.5,1151.3 L548.0,1149.4 L548.5,1147.5 L549.1,1145.5 L549.6,1143.6 L550.2,1141.7 L550.7,1139.8 L551.3,1137.8 L551.8,1135.9 L552.4,1134.0 L552.9,1132.1 L553.5,1130.1 L554.0,1128.2 L554.6,1126.3 L555.2,1124.4 L555.7,1122.4 L556.3,1120.5 L556.9,1118.6 L557.5,1116.7 L558.1,1114.7 L558.6,1112.8 L559.2,1110.9 L559.8,1109.0 L560.4,1107.1 L561.0,1105.1 L561.6,1103.2 L562.3,1101.3 L562.9,1099.4 L563.6,1097.5 L564.2,1095.6 L564.9,1093.7 L565.6,1091.8 L566.4,1090.0 L567.1,1088.1 L567.9,1086.2 L568.7,1084.4 L569.6,1082.6 L570.5,1080.8 L571.4,1079.0 L572.4,1077.2 L573.4,1075.5 L574.4,1073.7 L575.5,1072.1 L576.7,1070.4 L577.8,1068.8 L579.1,1067.2 L580.4,1065.6 L581.7,1064.1 L583.1,1062.6 L584.5,1061.2 L585.9,1059.9 L587.5,1058.6 L589.0,1057.3 L590.7,1056.1 L592.3,1055.0 L594.0,1054.0 L595.8,1053.1 L597.6,1052.3 L599.4,1051.5 L601.2,1050.8 L603.1,1050.3 L605.1,1049.8 L607.0,1049.5 L609.0,1049.2 L610.9,1049.1 L612.9,1049.0 L614.9,1049.1 L616.8,1049.2 L618.8,1049.5 L620.7,1049.8 L622.6,1050.3 L624.5,1050.8 L626.4,1051.4 L628.3,1052.1 L630.1,1052.9 L631.9,1053.8 L633.7,1054.7 L635.4,1055.6 L637.1,1056.7 L638.8,1057.7 L640.5,1058.9 L642.2,1060.0 L643.8,1061.2 L645.4,1062.4 L647.0,1063.6 L648.6,1064.8 L650.2,1066.1 L651.8,1067.4 L653.3,1068.7 L654.9,1070.0 L656.4,1071.3 L657.9,1072.6 L659.4,1074.0 L660.9,1075.3 L662.4,1076.7 L663.8,1078.1 L665.2,1079.5 L666.6,1081.0 L668.0,1082.4 L669.3,1083.9 L670.6,1085.4 L671.9,1087.0 L673.1,1088.5 L674.4,1090.1 L675.6,1091.7 L676.7,1093.3 L677.9,1095.0 L679.0,1096.6 L680.1,1098.3 L681.2,1099.9 L682.3,1101.6 L683.4,1103.3 L684.5,1105.0 L685.5,1106.7 L686.5,1108.4 L687.6,1110.2 L688.6,1111.9 L689.6,1113.6 L690.6,1115.4 L691.6,1117.1 L692.5,1118.9 L693.5,1120.6 L694.5,1122.4 L695.4,1124.1 L696.4,1125.9 L697.4,1127.7 L698.3,1129.4 L699.3,1131.2 L700.3,1132.9 L701.3,1134.6 L702.3,1136.4 L703.3,1138.1 L704.3,1139.8 L705.3,1141.6 L706.4,1143.3 L707.4,1145.0 L708.4,1146.7 L709.4,1148.5 L710.4,1150.2 L711.4,1151.9 L712.4,1153.7 L713.4,1155.4 L714.4,1157.2 L715.4,1158.9 L716.3,1160.7 L717.3,1162.4 L718.3,1164.2 L719.2,1165.9 L720.2,1167.7 L721.1,1169.5 L722.1,1171.2 L723.0,1173.0 L724.0,1174.8 L724.9,1176.5 L725.9,1178.3 L726.9,1180.0 L727.8,1181.8 L728.8,1183.5 L729.8,1185.3 L730.8,1187.0 L731.7,1188.8 L732.7,1190.5 L733.7,1192.3 L734.7,1194.0 L735.7,1195.7 L736.8,1197.5 L737.8,1199.2 L738.8,1200.9 L739.8,1202.6 L740.9,1204.3 L741.9,1206.1 L743.0,1207.8 L744.0,1209.5 L745.1,1211.2 L746.1,1212.9 L747.2,1214.6 L748.2,1216.3 L749.3,1218.0 L750.4,1219.7 L751.5,1221.4 L752.5,1223.1 L753.6,1224.7 L754.7,1226.4 L755.8,1228.1 L756.8,1229.8 L757.9,1231.5 L759.0,1233.2 L760.1,1234.9 L761.1,1236.6 L762.2,1238.3 L763.3,1240.0 L764.4,1241.7 L765.4,1243.4 L766.5,1245.0 L767.6,1246.7 L768.7,1248.4 L769.8,1250.1 L770.9,1251.7 L772.1,1253.4 L773.2,1255.0 L774.3,1256.7 L775.5,1258.3 L776.6,1260.0 L777.8,1261.6 L778.9,1263.3 L780.1,1264.9 L781.3,1266.5 L782.5,1268.1 L783.7,1269.7 L784.9,1271.3 L786.1,1272.9 L787.3,1274.5 L788.5,1276.1 L789.8,1277.7 L791.0,1279.3 L792.2,1280.9 L793.5,1282.4 L794.7,1284.0 L796.0,1285.5 L797.3,1287.1 L798.5,1288.6 L799.8,1290.2 L801.1,1291.7 L802.4,1293.3 L803.7,1294.8 L805.0,1296.3 L806.3,1297.8 L807.6,1299.3 L808.9,1300.8 L810.3,1302.3 L811.6,1303.8 L813.0,1305.3 L814.3,1306.8 L815.7,1308.3 L817.0,1309.7 L818.4,1311.2 L819.8,1312.7 L821.2,1314.1 L822.6,1315.5 L824.0,1317.0 L825.4,1318.4 L826.8,1319.8 L828.2,1321.2 L829.7,1322.6 L831.1,1324.0 L832.6,1325.4 L834.0,1326.8 L835.5,1328.1 L837.0,1329.5 L838.4,1330.9 L839.9,1332.2 L841.4,1333.5 L842.9,1334.9 L844.4,1336.2 L845.9,1337.5 L847.5,1338.8 L849.0,1340.1 L850.5,1341.4 L852.1,1342.7 L853.6,1344.0 L855.1,1345.2 L856.7,1346.5 L858.3,1347.8 L859.8,1349.0 L861.4,1350.3 L862.9,1351.5 L864.5,1352.8 L866.1,1354.0 L867.7,1355.2 L869.2,1356.5 L870.8,1357.7 L872.4,1359.0 L874.0,1360.2 L875.6,1361.4 L877.2,1362.6 L878.8,1363.9 L880.3,1365.1 L881.9,1366.3 L883.5,1367.5 L885.1,1368.7 L886.7,1370.0 L888.3,1371.2 L889.9,1372.4 L891.5,1373.6 L893.1,1374.8 L894.7,1376.0 L896.4,1377.2 L898.0,1378.4 L899.6,1379.6 L901.2,1380.7 L902.8,1381.9 L904.5,1383.1 L906.1,1384.2 L907.8,1385.4 L909.4,1386.5 L911.1,1387.6 L912.7,1388.7 L914.4,1389.8 L916.1,1390.9 L917.8,1391.9 L919.5,1392.9 L921.3,1393.9 L923.0,1394.9 L924.8,1395.9 L926.5,1396.8 L928.3,1397.7 L930.1,1398.6 L931.9,1399.5 L933.7,1400.4 L935.5,1401.2 L937.4,1402.0 L939.2,1402.9 L941.0,1403.7 L942.9,1404.5 L944.7,1405.3 L946.6,1406.0 L948.4,1406.8 L950.3,1407.5 L952.1,1408.3 L954.0,1409.0 L955.9,1409.7 L957.8,1410.5 L959.6,1411.2 L961.5,1411.8 L963.4,1412.5 L965.3,1413.2 L967.2,1413.8 L969.1,1414.5 L971.0,1415.1 L972.9,1415.7 L974.8,1416.3 L976.7,1416.9 L978.7,1417.4 L980.6,1418.0 L982.5,1418.5 L984.5,1419.0 L986.4,1419.5 L988.3,1420.0 L990.3,1420.5 L992.2,1421.0 L994.2,1421.4 L996.1,1421.9 L998.1,1422.3 L1000.1,1422.7 L1002.0,1423.2 L1004.0,1423.6 L1005.9,1424.0 L1007.9,1424.4 L1009.9,1424.8 L1011.8,1425.2 L1013.8,1425.6 L1015.8,1426.0 L1017.7,1426.4 L1019.7,1426.8 L1021.7,1427.2 L1023.6,1427.6 L1025.6,1428.0 L1027.6,1428.4 L1029.5,1428.8 L1031.5,1429.2 L1033.5,1429.5 L1035.4,1429.9 L1037.4,1430.3 L1039.4,1430.7 L1041.3,1431.0 L1043.3,1431.4 L1045.3,1431.8 L1047.3,1432.1 L1049.2,1432.5 L1051.2,1432.9 L1053.2,1433.2 L1055.1,1433.6 L1057.1,1433.9 L1059.1,1434.2 L1061.1,1434.5 L1063.0,1434.8 L1065.0,1435.1 L1067.0,1435.4 L1069.0,1435.7 L1071.0,1435.9 L1073.0,1436.2 L1075.0,1436.4 L1077.0,1436.7 L1078.9,1436.9 L1080.9,1437.1 L1082.9,1437.4 L1084.9,1437.6 L1086.9,1437.8 L1088.9,1438.0 L1090.9,1438.2 L1092.9,1438.4 L1094.9,1438.6 L1096.9,1438.8 L1098.9,1439.0 L1100.9,1439.2 L1102.9,1439.4 L1104.9,1439.5 L1106.9,1439.7 L1108.9,1439.9 L1110.9,1440.0 L1112.9,1440.2 L1114.9,1440.3 L1116.9,1440.5 L1118.9,1440.6 L1120.9,1440.7 L1122.9,1440.9 L1124.9,1441.0 L1126.9,1441.1 L1128.9,1441.2 L1130.9,1441.3 L1132.9,1441.4 L1134.9,1441.5 L1136.9,1441.6 L1138.9,1441.7 L1140.9,1441.8 L1142.9,1441.9 L1144.9,1442.0 L1146.9,1442.1 L1148.9,1442.1 L1150.9,1442.2 L1152.9,1442.3 L1154.9,1442.4 L1156.9,1442.4 L1158.9,1442.5 L1160.9,1442.6 L1162.9,1442.7 L1164.9,1442.7 L1166.9,1442.8 L1168.9,1442.9 L1170.9,1442.9 L1172.9,1443.0 L1174.9,1443.1 L1176.9,1443.1 L1178.9,1443.2 L1180.9,1443.3 L1182.9,1443.3 L1184.9,1443.4 L1186.9,1443.4 L1189.0,1443.5 L1191.0,1443.6 L1193.0,1443.6 L1195.0,1443.7 L1197.0,1443.7 L1199.0,1443.8 L1201.0,1443.8 L1203.0,1443.9 L1205.0,1444.0 L1207.0,1444.0 L1209.0,1444.1 L1211.0,1444.1 L1213.0,1444.2 L1215.0,1444.2 L1217.0,1444.3 L1219.0,1444.3 L1221.0,1444.4 L1223.0,1444.4 L1225.0,1444.5 L1227.0,1444.5 L1229.0,1444.6 L1231.0,1444.6 L1233.0,1444.6 L1235.0,1444.7 L1237.0,1444.7 L1239.0,1444.8 L1241.0,1444.8 L1243.1,1444.9 L1245.1,1444.9 L1247.1,1444.9 L1249.1,1445.0 L1251.1,1445.0 L1253.1,1445.1 L1255.1,1445.1 L1257.1,1445.1 L1259.1,1445.2 L1261.1,1445.2 L1263.1,1445.2 L1265.1,1445.3 L1267.1,1445.3 L1269.1,1445.4 L1271.1,1445.4 L1273.1,1445.4 L1275.1,1445.5 L1277.1,1445.5 L1279.1,1445.5 L1281.1,1445.6 L1283.1,1445.6 L1285.1,1445.6 L1287.1,1445.7 L1289.1,1445.7 L1291.1,1445.7 L1293.2,1445.7 L1295.2,1445.8 L1297.2,1445.8 L1299.2,1445.8 L1301.2,1445.9 L1303.2,1445.9 L1305.2,1445.9 L1307.2,1445.9 L1309.2,1446.0 L1311.2,1446.0 L1313.2,1446.0 L1315.2,1446.0 L1317.2,1446.1 L1319.2,1446.1 L1321.2,1446.1 L1323.2,1446.1 L1325.2,1446.2 L1327.2,1446.2 L1329.2,1446.2 L1331.2,1446.2 L1333.2,1446.3 L1335.2,1446.3 L1337.2,1446.3 L1339.2,1446.3 L1341.3,1446.4 L1343.3,1446.4 L1345.3,1446.4 L1347.3,1446.4 L1349.3,1446.5 L1351.3,1446.5 L1353.3,1446.5 L1355.3,1446.5 L1357.3,1446.5 L1359.3,1446.6 L1361.3,1446.6 L1363.3,1446.6 L1365.3,1446.6 L1367.3,1446.7 L1369.3,1446.7 L1371.3,1446.7 L1373.3,1446.7 L1375.3,1446.7 L1377.3,1446.8 L1379.3,1446.8 L1381.3,1446.8 L1383.3,1446.8 L1385.3,1446.8 L1387.4,1446.9 L1389.4,1446.9 L1391.4,1446.9 L1393.4,1446.9 L1395.4,1447.0 L1397.4,1447.0 L1399.4,1447.0 L1401.4,1447.0 L1403.4,1447.0 L1405.4,1447.1 L1407.4,1447.1 L1409.4,1447.1 L1411.4,1447.1 L1413.4,1447.1 L1415.4,1447.2 L1417.4,1447.2 L1419.4,1447.2 L1421.4,1447.2 L1423.4,1447.3 L1425.4,1447.3 L1427.4,1447.3 L1429.4,1447.3 L1431.4,1447.3 L1433.4,1447.4 L1435.5,1447.4 L1437.5,1447.4 L1439.5,1447.4 L1441.5,1447.5 L1443.5,1447.5 L1445.5,1447.5 L1447.5,1447.5 L1449.5,1447.5 L1451.5,1447.6 L1453.5,1447.6 L1455.5,1447.6 L1457.5,1447.6 L1459.5,1447.7 L1461.5,1447.7 L1463.5,1447.7 L1465.5,1447.7 L1467.5,1447.7 L1469.5,1447.8 L1471.5,1447.8 L1473.5,1447.8 L1475.5,1447.8 L1477.5,1447.9 L1479.5,1447.9 L1481.6,1447.9 L1483.6,1447.9 L1485.6,1447.9 L1487.6,1448.0 L1489.6,1448.0 L1491.6,1448.0 L1493.6,1448.0 L1495.6,1448.0 L1497.6,1448.1 L1499.6,1448.1 L1501.6,1448.1 L1503.6,1448.1 L1505.6,1448.1 L1507.6,1448.2 L1509.6,1448.2 L1511.6,1448.2 L1513.6,1448.2 L1515.6,1448.2 L1517.6,1448.2 L1519.6,1448.3 L1521.6,1448.3 L1523.6,1448.3 L1525.6,1448.3 L1527.6,1448.3 L1529.7,1448.3 L1531.7,1448.4 L1533.7,1448.4 L1535.7,1448.4 L1537.7,1448.4 L1539.7,1448.4 L1541.7,1448.4 L1543.7,1448.5 L1545.7,1448.5 L1547.7,1448.5 L1549.7,1448.5 L1551.7,1448.5 L1553.7,1448.5 L1555.7,1448.5 L1557.7,1448.6 L1559.7,1448.6 L1561.7,1448.6 L1563.7,1448.6 L1565.7,1448.6 L1567.7,1448.6 L1569.7,1448.6 L1571.7,1448.6 L1573.7,1448.6 L1575.8,1448.7 L1577.8,1448.7 L1579.8,1448.7 L1581.8,1448.7 L1583.8,1448.7 L1585.8,1448.7 L1587.8,1448.7 L1589.8,1448.7 L1591.8,1448.7 L1593.8,1448.7 L1595.8,1448.7 L1597.8,1448.8 L1599.8,1448.8 L1601.8,1448.8 L1603.8,1448.8 L1605.8,1448.8 L1607.8,1448.8 L1609.8,1448.8 L1611.8,1448.8 L1613.8,1448.8 L1615.8,1448.8 L1617.8,1448.8 L1619.8,1448.8 L1621.9,1448.8 L1623.9,1448.8 L1625.9,1448.9 L1627.9,1448.9 L1629.9,1448.9 L1631.9,1448.9 L1633.9,1448.9 L1635.9,1448.9 L1637.9,1448.9 L1639.9,1448.9 L1641.9,1448.9 L1643.9,1448.9 L1645.9,1448.9 L1647.9,1448.9 L1649.9,1448.9 L1651.9,1448.9 L1653.9,1448.9 L1655.9,1448.9 L1657.9,1448.9 L1659.9,1448.9 L1661.9,1448.9 L1663.9,1448.9 L1665.9,1449.0 L1668.0,1449.0 L1670.0,1449.0 L1672.0,1449.0 L1674.0,1449.0 L1676.0,1449.0 L1678.0,1449.0 L1680.0,1449.0 L1682.0,1449.0 L1684.0,1449.0 L1686.0,1449.0 L1688.0,1449.0 L1690.0,1449.0"/>
<path stroke="#FF0000" d="M330.0,1443.0 L332.0,1443.0 L334.0,1442.9 L336.0,1442.8 L338.0,1442.7 L340.0,1442.7 L342.0,1442.6 L344.0,1442.5 L346.0,1442.4 L348.0,1442.3 L350.0,1442.2 L352.0,1442.2 L354.0,1442.1 L356.0,1442.0 L358.0,1441.8 L360.0,1441.7 L362.0,1441.6 L364.0,1441.5 L366.0,1441.4 L368.0,1441.2 L370.0,1441.1 L372.0,1440.9 L374.0,1440.8 L376.0,1440.6 L378.0,1440.4 L380.0,1440.2 L382.0,1440.0 L384.0,1439.8 L386.0,1439.6 L388.0,1439.4 L390.0,1439.2 L392.0,1438.9 L394.0,1438.7 L396.0,1438.5 L397.9,1438.2 L399.9,1438.0 L401.9,1437.7 L403.9,1437.4 L405.9,1437.2 L407.9,1436.9 L409.9,1436.5 L411.9,1436.2 L413.8,1435.8 L415.8,1435.4 L417.7,1435.0 L419.7,1434.5 L421.6,1434.0 L423.5,1433.4 L425.4,1432.8 L427.3,1432.2 L429.2,1431.5 L431.0,1430.7 L432.8,1429.9 L434.6,1429.0 L436.4,1428.1 L438.1,1427.2 L439.9,1426.2 L441.6,1425.1 L443.2,1424.0 L444.9,1422.9 L446.5,1421.7 L448.1,1420.5 L449.6,1419.2 L451.1,1417.9 L452.6,1416.6 L454.0,1415.2 L455.4,1413.8 L456.8,1412.3 L458.1,1410.8 L459.4,1409.3 L460.6,1407.7 L461.8,1406.1 L462.9,1404.5 L464.1,1402.8 L465.1,1401.1 L466.2,1399.4 L467.2,1397.7 L468.2,1396.0 L469.1,1394.2 L470.1,1392.4 L471.0,1390.6 L471.8,1388.8 L472.7,1387.0 L473.5,1385.2 L474.3,1383.3 L475.1,1381.5 L475.8,1379.6 L476.6,1377.8 L477.3,1375.9 L478.1,1374.0 L478.8,1372.2 L479.5,1370.3 L480.1,1368.4 L480.8,1366.5 L481.5,1364.6 L482.1,1362.7 L482.7,1360.8 L483.4,1358.9 L484.0,1357.0 L484.6,1355.1 L485.2,1353.2 L485.8,1351.3 L486.4,1349.4 L487.0,1347.5 L487.6,1345.5 L488.2,1343.6 L488.7,1341.7 L489.3,1339.8 L489.8,1337.9 L490.4,1335.9 L490.9,1334.0 L491.5,1332.1 L492.0,1330.1 L492.5,1328.2 L493.1,1326.3 L493.6,1324.4 L494.1,1322.4 L494.6,1320.5 L495.1,1318.5 L495.6,1316.6 L496.1,1314.7 L496.6,1312.7 L497.1,1310.8 L497.6,1308.9 L498.1,1306.9 L498.6,1305.0 L499.1,1303.0 L499.6,1301.1 L500.1,1299.1 L500.5,1297.2 L501.0,1295.2 L501.5,1293.3 L501.9,1291.4 L502.4,1289.4 L502.8,1287.5 L503.3,1285.5 L503.7,1283.5 L504.2,1281.6 L504.6,1279.6 L505.0,1277.7 L505.4,1275.7 L505.9,1273.8 L506.3,1271.8 L506.7,1269.8 L507.1,1267.9 L507.5,1265.9 L507.9,1264.0 L508.3,1262.0 L508.7,1260.0 L509.1,1258.1 L509.5,1256.1 L509.8,1254.1 L510.2,1252.2 L510.6,1250.2 L511.0,1248.3 L511.4,1246.3 L511.8,1244.3 L512.2,1242.4 L512.6,1240.4 L513.0,1238.4 L513.4,1236.5 L513.8,1234.5 L514.1,1232.5 L514.5,1230.6 L514.9,1228.6 L515.3,1226.6 L515.7,1224.7 L516.0,1222.7 L516.4,1220.7 L516.8,1218.8 L517.1,1216.8 L517.5,1214.8 L517.9,1212.9 L518.2,1210.9 L518.6,1208.9 L519.0,1207.0 L519.4,1205.0 L519.7,1203.0 L520.1,1201.1 L520.5,1199.1 L520.9,1197.1 L521.3,1195.2 L521.7,1193.2 L522.1,1191.3 L522.5,1189.3 L523.0,1187.4 L523.4,1185.4 L523.8,1183.4 L524.3,1181.5 L524.7,1179.5 L525.2,1177.6 L525.6,1175.6 L526.0,1173.7 L526.5,1171.7 L526.9,1169.8 L527.4,1167.8 L527.8,1165.9 L528.3,1163.9 L528.7,1162.0 L529.2,1160.0 L529.6,1158.1 L530.1,1156.1 L530.5,1154.2 L531.0,1152.2 L531.4,1150.3 L531.8,1148.3 L532.3,1146.3 L532.7,1144.4 L533.1,1142.4 L533.6,1140.5 L534.0,1138.5 L534.4,1136.6 L534.9,1134.6 L535.3,1132.7 L535.7,1130.7 L536.1,1128.7 L536.6,1126.8 L537.0,1124.8 L537.4,1122.9 L537.9,1120.9 L538.3,1119.0 L538.8,1117.0 L539.2,1115.1 L539.7,1113.1 L540.1,1111.2 L540.6,1109.2 L541.1,1107.3 L541.6,1105.3 L542.0,1103.4 L542.5,1101.4 L543.0,1099.5 L543.5,1097.6 L544.1,1095.6 L544.6,1093.7 L545.1,1091.8 L545.6,1089.8 L546.2,1087.9 L546.7,1086.0 L547.3,1084.1 L547.9,1082.2 L548.4,1080.2 L549.0,1078.3 L549.6,1076.4 L550.2,1074.5 L550.8,1072.6 L551.4,1070.7 L552.1,1068.8 L552.7,1066.9 L553.3,1065.0 L554.0,1063.1 L554.6,1061.2 L555.2,1059.3 L555.9,1057.4 L556.5,1055.5 L557.2,1053.6 L557.8,1051.7 L558.5,1049.8 L559.1,1047.9 L559.8,1046.0 L560.5,1044.1 L561.2,1042.2 L561.9,1040.3 L562.6,1038.4 L563.3,1036.5 L564.0,1034.6 L564.8,1032.7 L565.5,1030.8 L566.4,1029.0 L567.2,1027.1 L568.1,1025.3 L569.0,1023.4 L569.9,1021.6 L570.9,1019.9 L572.0,1018.2 L573.0,1016.5 L574.2,1014.8 L575.4,1013.2 L576.7,1011.7 L578.0,1010.2 L579.4,1008.8 L580.8,1007.4 L582.3,1006.1 L583.9,1005.0 L585.5,1003.8 L587.2,1002.8 L588.9,1001.9 L590.7,1001.1 L592.5,1000.3 L594.4,999.7 L596.3,999.2 L598.2,998.8 L600.1,998.6 L602.1,998.4 L604.0,998.4 L606.0,998.5 L607.9,998.7 L609.9,999.0 L611.8,999.4 L613.7,999.9 L615.6,1000.5 L617.5,1001.1 L619.4,1001.9 L621.2,1002.7 L623.0,1003.5 L624.8,1004.4 L626.6,1005.4 L628.4,1006.4 L630.1,1007.5 L631.8,1008.6 L633.5,1009.7 L635.1,1010.9 L636.8,1012.0 L638.4,1013.3 L640.0,1014.5 L641.6,1015.7 L643.1,1017.0 L644.6,1018.3 L646.1,1019.7 L647.6,1021.0 L649.1,1022.4 L650.5,1023.8 L651.9,1025.3 L653.2,1026.7 L654.6,1028.2 L655.9,1029.7 L657.1,1031.3 L658.4,1032.8 L659.6,1034.4 L660.8,1036.0 L661.9,1037.7 L663.1,1039.3 L664.2,1041.0 L665.3,1042.6 L666.4,1044.3 L667.5,1046.0 L668.6,1047.7 L669.7,1049.4 L670.7,1051.1 L671.8,1052.8 L672.8,1054.5 L673.8,1056.2 L674.9,1058.0 L675.9,1059.7 L676.9,1061.4 L677.9,1063.2 L678.9,1064.9 L679.8,1066.7 L680.8,1068.4 L681.8,1070.2 L682.7,1072.0 L683.6,1073.7 L684.6,1075.5 L685.5,1077.3 L686.4,1079.1 L687.3,1080.9 L688.2,1082.6 L689.0,1084.4 L689.9,1086.3 L690.8,1088.1 L691.6,1089.9 L692.5,1091.7 L693.3,1093.5 L694.1,1095.3 L694.9,1097.2 L695.7,1099.0 L696.5,1100.8 L697.3,1102.7 L698.1,1104.5 L698.9,1106.3 L699.7,1108.2 L700.5,1110.0 L701.4,1111.8 L702.2,1113.7 L703.0,1115.5 L703.8,1117.3 L704.6,1119.1 L705.5,1121.0 L706.3,1122.8 L707.2,1124.6 L708.1,1126.4 L708.9,1128.2 L709.8,1130.0 L710.7,1131.8 L711.7,1133.5 L712.6,1135.3 L713.5,1137.1 L714.5,1138.8 L715.4,1140.6 L716.4,1142.4 L717.3,1144.1 L718.3,1145.9 L719.2,1147.6 L720.2,1149.4 L721.2,1151.1 L722.1,1152.9 L723.1,1154.7 L724.0,1156.4 L725.0,1158.2 L726.0,1159.9 L726.9,1161.7 L727.9,1163.4 L728.8,1165.2 L729.8,1167.0 L730.7,1168.7 L731.7,1170.5 L732.6,1172.3 L733.6,1174.0 L734.5,1175.8 L735.5,1177.6 L736.4,1179.3 L737.4,1181.1 L738.3,1182.9 L739.2,1184.6 L740.2,1186.4 L741.1,1188.2 L742.1,1189.9 L743.0,1191.7 L744.0,1193.4 L745.0,1195.2 L745.9,1196.9 L746.9,1198.7 L747.9,1200.4 L748.9,1202.2 L749.9,1203.9 L750.9,1205.6 L751.9,1207.3 L753.0,1209.1 L754.0,1210.8 L755.0,1212.5 L756.1,1214.2 L757.1,1215.9 L758.2,1217.6 L759.2,1219.3 L760.3,1221.0 L761.4,1222.7 L762.5,1224.4 L763.6,1226.1 L764.6,1227.7 L765.7,1229.4 L766.8,1231.1 L767.9,1232.8 L769.0,1234.4 L770.2,1236.1 L771.3,1237.7 L772.4,1239.4 L773.5,1241.1 L774.7,1242.7 L775.8,1244.4 L776.9,1246.0 L778.1,1247.6 L779.2,1249.3 L780.4,1250.9 L781.6,1252.6 L782.7,1254.2 L783.9,1255.8 L785.0,1257.4 L786.2,1259.1 L787.4,1260.7 L788.6,1262.3 L789.7,1263.9 L790.9,1265.5 L792.1,1267.2 L793.3,1268.8 L794.4,1270.4 L795.6,1272.0 L796.8,1273.7 L798.0,1275.3 L799.1,1276.9 L800.3,1278.5 L801.5,1280.2 L802.6,1281.8 L803.8,1283.4 L805.0,1285.0 L806.1,1286.7 L807.3,1288.3 L808.4,1289.9 L809.6,1291.6 L810.7,1293.2 L811.9,1294.9 L813.1,1296.5 L814.2,1298.1 L815.4,1299.8 L816.5,1301.4 L817.7,1303.0 L818.8,1304.7 L820.0,1306.3 L821.2,1307.9 L822.3,1309.6 L823.5,1311.2 L824.7,1312.8 L825.9,1314.4 L827.1,1316.0 L828.3,1317.6 L829.5,1319.2 L830.7,1320.8 L831.9,1322.4 L833.2,1323.9 L834.4,1325.5 L835.7,1327.1 L837.0,1328.6 L838.3,1330.1 L839.6,1331.7 L840.9,1333.2 L842.2,1334.7 L843.5,1336.2 L844.8,1337.7 L846.2,1339.2 L847.5,1340.6 L848.9,1342.1 L850.3,1343.5 L851.7,1345.0 L853.1,1346.4 L854.5,1347.8 L855.9,1349.2 L857.4,1350.6 L858.8,1352.0 L860.2,1353.4 L861.7,1354.8 L863.2,1356.2 L864.6,1357.5 L866.1,1358.9 L867.6,1360.2 L869.1,1361.5 L870.6,1362.8 L872.1,1364.1 L873.7,1365.4 L875.2,1366.7 L876.7,1368.0 L878.3,1369.3 L879.9,1370.5 L881.4,1371.7 L883.0,1373.0 L884.6,1374.2 L886.2,1375.4 L887.8,1376.6 L889.5,1377.7 L891.1,1378.9 L892.7,1380.1 L894.4,1381.2 L896.0,1382.4 L897.6,1383.5 L899.3,1384.7 L901.0,1385.8 L902.6,1386.9 L904.3,1388.0 L905.9,1389.1 L907.6,1390.2 L909.3,1391.3 L911.0,1392.4 L912.7,1393.5 L914.4,1394.5 L916.1,1395.5 L917.9,1396.5 L919.6,1397.5 L921.3,1398.5 L923.1,1399.4 L924.9,1400.4 L926.7,1401.3 L928.4,1402.2 L930.2,1403.0 L932.1,1403.9 L933.9,1404.7 L935.7,1405.5 L937.5,1406.3 L939.4,1407.1 L941.2,1407.9 L943.1,1408.6 L944.9,1409.4 L946.8,1410.1 L948.7,1410.8 L950.6,1411.6 L952.4,1412.3 L954.3,1412.9 L956.2,1413.6 L958.1,1414.3 L960.0,1414.9 L961.9,1415.6 L963.8,1416.2 L965.7,1416.8 L967.6,1417.4 L969.5,1418.0 L971.4,1418.5 L973.4,1419.1 L975.3,1419.6 L977.2,1420.1 L979.2,1420.7 L981.1,1421.2 L983.0,1421.6 L985.0,1422.1 L986.9,1422.6 L988.9,1423.1 L990.8,1423.5 L992.8,1423.9 L994.7,1424.4 L996.7,1424.8 L998.7,1425.2 L1000.6,1425.7 L1002.6,1426.1 L1004.5,1426.5 L1006.5,1426.9 L1008.5,1427.3 L1010.4,1427.7 L1012.4,1428.1 L1014.3,1428.5 L1016.3,1428.9 L1018.3,1429.3 L1020.2,1429.7 L1022.2,1430.1 L1024.2,1430.4 L1026.1,1430.8 L1028.1,1431.2 L1030.1,1431.6 L1032.0,1432.0 L1034.0,1432.3 L1036.0,1432.7 L1037.9,1433.1 L1039.9,1433.4 L1041.9,1433.8 L1043.9,1434.1 L1045.8,1434.5 L1047.8,1434.8 L1049.8,1435.1 L1051.8,1435.5 L1053.7,1435.8 L1055.7,1436.1 L1057.7,1436.4 L1059.7,1436.7 L1061.6,1437.0 L1063.6,1437.2 L1065.6,1437.5 L1067.6,1437.8 L1069.6,1438.0 L1071.6,1438.3 L1073.6,1438.5 L1075.5,1438.8 L1077.5,1439.0 L1079.5,1439.2 L1081.5,1439.4 L1083.5,1439.6 L1085.5,1439.8 L1087.5,1440.0 L1089.5,1440.2 L1091.5,1440.4 L1093.5,1440.6 L1095.5,1440.8 L1097.5,1440.9 L1099.5,1441.1 L1101.5,1441.3 L1103.4,1441.4 L1105.4,1441.6 L1107.4,1441.7 L1109.4,1441.9 L1111.4,1442.0 L1113.4,1442.2 L1115.4,1442.3 L1117.4,1442.4 L1119.4,1442.5 L1121.4,1442.6 L1123.4,1442.8 L1125.4,1442.9 L1127.4,1443.0 L1129.4,1443.1 L1131.4,1443.2 L1133.4,1443.3 L1135.4,1443.4 L1137.4,1443.5 L1139.4,1443.5 L1141.4,1443.6 L1143.4,1443.7 L1145.4,1443.8 L1147.4,1443.9 L1149.4,1444.0 L1151.4,1444.0 L1153.4,1444.1 L1155.4,1444.2 L1157.4,1444.3 L1159.4,1444.3 L1161.4,1444.4 L1163.4,1444.5 L1165.4,1444.5 L1167.4,1444.6 L1169.4,1444.7 L1171.4,1444.7 L1173.4,1444.8 L1175.4,1444.9 L1177.5,1444.9 L1179.5,1445.0 L1181.5,1445.1 L1183.5,1445.1 L1185.5,1445.2 L1187.5,1445.2 L1189.5,1445.3 L1191.5,1445.4 L1193.5,1445.4 L1195.5,1445.5 L1197.5,1445.5 L1199.5,1445.6 L1201.5,1445.7 L1203.5,1445.7 L1205.5,1445.8 L1207.5,1445.8 L1209.5,1445.9 L1211.5,1445.9 L1213.5,1446.0 L1215.5,1446.0 L1217.5,1446.1 L1219.5,1446.1 L1221.5,1446.2 L1223.5,1446.2 L1225.5,1446.3 L1227.5,1446.3 L1229.5,1446.4 L1231.5,1446.4 L1233.5,1446.5 L1235.5,1446.5 L1237.5,1446.5 L1239.5,1446.6 L1241.5,1446.6 L1243.5,1446.7 L1245.5,1446.7 L1247.5,1446.8 L1249.5,1446.8 L1251.5,1446.8 L1253.5,1446.9 L1255.5,1446.9 L1257.5,1446.9 L1259.5,1447.0 L1261.5,1447.0 L1263.5,1447.0 L1265.5,1447.1 L1267.5,1447.1 L1269.5,1447.1 L1271.5,1447.2 L1273.5,1447.2 L1275.5,1447.2 L1277.5,1447.3 L1279.5,1447.3 L1281.5,1447.3 L1283.5,1447.4 L1285.5,1447.4 L1287.5,1447.4 L1289.5,1447.5 L1291.6,1447.5 L1293.6,1447.5 L1295.6,1447.5 L1297.6,1447.6 L1299.6,1447.6 L1301.6,1447.6 L1303.6,1447.6 L1305.6,1447.7 L1307.6,1447.7 L1309.6,1447.7 L1311.6,1447.7 L1313.6,1447.8 L1315.6,1447.8 L1317.6,1447.8 L1319.6,1447.8 L1321.6,1447.8 L1323.6,1447.9 L1325.6,1447.9 L1327.6,1447.9 L1329.6,1447.9 L1331.6,1447.9 L1333.6,1448.0 L1335.6,1448.0 L1337.6,1448.0 L1339.6,1448.0 L1341.6,1448.0 L1343.6,1448.1 L1345.6,1448.1 L1347.6,1448.1 L1349.6,1448.1 L1351.6,1448.1 L1353.6,1448.1 L1355.6,1448.2 L1357.6,1448.2 L1359.6,1448.2 L1361.6,1448.2 L1363.6,1448.2 L1365.6,1448.2 L1367.6,1448.3 L1369.6,1448.3 L1371.6,1448.3 L1373.6,1448.3 L1375.6,1448.3 L1377.6,1448.3 L1379.6,1448.4 L1381.7,1448.4 L1383.7,1448.4 L1385.7,1448.4 L1387.7,1448.4 L1389.7,1448.4 L1391.7,1448.4 L1393.7,1448.5 L1395.7,1448.5 L1397.7,1448.5 L1399.7,1448.5 L1401.7,1448.5 L1403.7,1448.5 L1405.7,1448.5 L1407.7,1448.6 L1409.7,1448.6 L1411.7,1448.6 L1413.7,1448.6 L1415.7,1448.6 L1417.7,1448.6 L1419.7,1448.6 L1421.7,1448.7 L1423.7,1448.7 L1425.7,1448.7 L1427.7,1448.7 L1429.7,1448.7 L1431.7,1448.7 L1433.7,1448.7 L1435.7,1448.8 L1437.7,1448.8 L1439.7,1448.8 L1441.7,1448.8 L1443.7,1448.8 L1445.7,1448.8 L1447.7,1448.9 L1449.7,1448.9 L1451.7,1448.9 L1453.7,1448.9 L1455.7,1448.9 L1457.7,1448.9 L1459.7,1448.9 L1461.7,1449.0 L1463.7,1449.0 L1465.7,1449.0 L1467.7,1449.0 L1469.8,1449.0 L1471.8,1449.0 L1473.8,1449.0 L1475.8,1449.0 L1477.8,1449.1 L1479.8,1449.1 L1481.8,1449.1 L1483.8,1449.1 L1485.8,1449.1 L1487.8,1449.1 L1489.8,1449.1 L1491.8,1449.2 L1493.8,1449.2 L1495.8,1449.2 L1497.8,1449.2 L1499.8,1449.2 L1501.8,1449.2 L1503.8,1449.2 L1505.8,1449.2 L1507.8,1449.3 L1509.8,1449.3 L1511.8,1449.3 L1513.8,1449.3 L1515.8,1449.3 L1517.8,1449.3 L1519.8,1449.3 L1521.8,1449.3 L1523.8,1449.4 L1525.8,1449.4 L1527.8,1449.4 L1529.8,1449.4 L1531.8,1449.4 L1533.8,1449.4 L1535.8,1449.4 L1537.8,1449.4 L1539.8,1449.4 L1541.8,1449.5 L1543.8,1449.5 L1545.8,1449.5 L1547.8,1449.5 L1549.8,1449.5 L1551.8,1449.5 L1553.8,1449.5 L1555.8,1449.5 L1557.8,1449.5 L1559.9,1449.5 L1561.9,1449.6 L1563.9,1449.6 L1565.9,1449.6 L1567.9,1449.6 L1569.9,1449.6 L1571.9,1449.6 L1573.9,1449.6 L1575.9,1449.6 L1577.9,1449.6 L1579.9,1449.6 L1581.9,1449.6 L1583.9,1449.7 L1585.9,1449.7 L1587.9,1449.7 L1589.9,1449.7 L1591.9,1449.7 L1593.9,1449.7 L1595.9,1449.7 L1597.9,1449.7 L1599.9,1449.7 L1601.9,1449.7 L1603.9,1449.7 L1605.9,1449.7 L1607.9,1449.7 L1609.9,1449.8 L1611.9,1449.8 L1613.9,1449.8 L1615.9,1449.8 L1617.9,1449.8 L1619.9,1449.8 L1621.9,1449.8 L1623.9,1449.8 L1625.9,1449.8 L1627.9,1449.8 L1629.9,1449.8 L1631.9,1449.8 L1633.9,1449.8 L1635.9,1449.8 L1637.9,1449.8 L1639.9,1449.9 L1641.9,1449.9 L1643.9,1449.9 L1645.9,1449.9 L1648.0,1449.9 L1650.0,1449.9 L1652.0,1449.9 L1654.0,1449.9 L1656.0,1449.9 L1658.0,1449.9 L1660.0,1449.9 L1662.0,1449.9 L1664.0,1449.9 L1666.0,1449.9 L1668.0,1449.9 L1670.0,1449.9 L1672.0,1449.9 L1674.0,1450.0 L1676.0,1450.0 L1678.0,1450.0 L1680.0,1450.0 L1682.0,1450.0 L1684.0,1450.0 L1686.0,1450.0 L1688.0,1450.0 L1690.0,1450.0"/>
<defs><mask id="dm" maskUnits="userSpaceOnUse" x="300" y="1400" width="1420" height="80"><path d="M332.0,1448.4 L333.5,1449.5 L335.0,1450.0 L336.5,1451.3 L338.0,1449.5 L339.5,1451.1 L341.0,1443.1 L342.5,1447.0 L344.0,1451.3 L345.5,1448.6 L347.0,1450.9 L348.5,1443.8 L350.0,1447.0 L351.5,1445.0 L353.0,1447.7 L354.5,1448.0 L356.0,1442.9 L357.5,1444.8 L359.0,1445.3 L360.5,1451.0 L362.0,1449.7 L363.5,1444.2 L365.0,1450.0 L366.5,1444.0 L368.0,1448.4 L369.5,1443.9 L371.0,1442.8 L372.5,1450.6 L374.0,1444.7 L375.5,1444.7 L377.0,1451.6 L378.5,1450.7 L380.0,1445.4 L381.5,1451.5 L383.0,1447.7 L384.5,1448.9 L386.0,1444.6 L387.5,1451.3 L389.0,1449.0 L390.5,1451.5 L392.0,1450.8 L393.5,1445.5 L395.0,1446.1 L396.5,1444.3 L398.0,1444.1 L399.5,1443.4 L401.0,1445.5 L402.5,1448.2 L404.0,1442.8 L405.5,1448.9 L407.0,1445.8 L408.5,1445.6 L410.0,1450.2 L411.5,1447.1 L413.0,1445.6 L414.5,1447.1 L416.0,1449.1 L417.5,1443.3 L419.0,1451.6 L420.5,1443.0 L422.0,1449.5 L423.5,1450.4 L425.0,1443.0 L426.5,1449.9 L428.0,1446.1 L429.5,1448.0 L431.0,1442.9 L432.5,1443.2 L434.0,1444.4 L435.5,1451.4 L437.0,1444.6 L438.5,1449.6 L440.0,1451.2 L441.5,1451.3 L443.0,1445.9 L444.5,1446.0 L446.0,1447.5 L447.5,1449.8 L449.0,1443.8 L450.5,1449.5 L452.0,1450.0 L453.5,1450.5 L455.0,1443.1 L456.5,1451.3 L458.0,1443.6 L459.5,1445.9 L461.0,1448.3 L462.5,1451.1 L464.0,1445.9 L465.5,1451.1 L467.0,1447.7 L468.5,1445.6 L470.0,1445.7 L471.5,1444.4 L473.0,1443.5 L474.5,1444.1 L476.0,1449.0 L477.5,1451.8 L479.0,1444.3 L480.5,1443.2 L482.0,1451.7 L483.5,1447.6 L485.0,1446.5 L486.5,1444.9 L488.0,1448.1 L489.5,1450.2 L491.0,1446.9 L492.5,1446.6 L494.0,1443.3 L495.5,1451.0 L497.0,1443.1 L498.5,1447.2 L500.0,1450.3 L501.5,1444.0 L503.0,1449.4 L504.5,1451.3 L506.0,1448.5 L507.5,1449.9 L509.0,1443.8 L510.5,1446.7 L512.0,1444.1 L513.5,1450.4 L515.0,1445.5 L516.5,1446.9 L518.0,1451.8 L519.5,1450.5 L521.0,1451.6 L522.5,1446.9 L524.0,1447.2 L525.5,1449.4 L527.0,1447.1 L528.5,1445.4 L530.0,1446.4 L531.5,1444.1 L533.0,1446.2 L534.5,1451.7 L536.0,1451.4 L537.5,1448.4 L539.0,1447.3 L540.5,1445.8 L542.0,1443.6 L543.5,1445.3 L545.0,1449.8 L546.5,1450.6 L548.0,1446.1 L549.5,1449.9 L551.0,1449.8 L552.5,1449.1 L554.0,1448.8 L555.5,1449.6 L557.0,1446.1 L558.5,1449.1 L560.0,1445.3 L561.5,1447.2 L563.0,1449.7 L564.5,1449.0 L566.0,1445.4 L567.5,1451.3 L569.0,1448.6 L570.5,1448.0 L572.0,1442.9 L573.5,1447.7 L575.0,1445.1 L576.5,1448.8 L578.0,1447.0 L579.5,1450.2 L581.0,1448.6 L582.5,1450.0 L584.0,1445.9 L585.5,1448.6 L587.0,1449.4 L588.5,1450.3 L590.0,1446.0 L591.5,1450.4 L593.0,1450.6 L594.5,1449.0 L596.0,1451.6 L597.5,1451.4 L599.0,1447.5 L600.5,1447.6 L602.0,1444.3 L603.5,1450.3 L605.0,1451.2 L606.5,1447.1 L608.0,1449.0 L609.5,1449.3 L611.0,1449.4 L612.5,1444.3 L614.0,1449.8 L615.5,1448.0 L617.0,1448.8 L618.5,1446.6 L620.0,1448.4 L621.5,1449.8 L623.0,1448.5 L624.5,1449.3 L626.0,1443.0 L627.5,1444.2 L629.0,1446.8 L630.5,1448.7 L632.0,1444.8 L633.5,1449.0 L635.0,1448.5 L636.5,1443.2 L638.0,1447.0 L639.5,1444.8 L641.0,1443.3 L642.5,1444.0 L644.0,1445.7 L645.5,1444.4 L647.0,1444.5 L648.5,1443.1 L650.0,1447.0 L651.5,1446.2 L653.0,1448.3 L654.5,1448.1 L656.0,1444.9 L657.5,1450.9 L659.0,1442.8 L660.5,1446.4 L662.0,1445.3 L663.5,1446.5 L665.0,1443.8 L666.5,1450.3 L668.0,1446.2 L669.5,1443.1 L671.0,1448.3 L672.5,1443.7 L674.0,1447.7 L675.5,1445.9 L677.0,1448.0 L678.5,1451.4 L680.0,1450.2 L681.5,1446.6 L683.0,1450.1 L684.5,1448.6 L686.0,1446.1 L687.5,1444.1 L689.0,1448.2 L690.5,1447.9 L692.0,1451.4 L693.5,1451.5 L695.0,1448.3 L696.5,1446.0 L698.0,1450.8 L699.5,1442.8 L701.0,1443.8 L702.5,1447.9 L704.0,1448.3 L705.5,1444.1 L707.0,1448.5 L708.5,1450.8 L710.0,1446.2 L711.5,1446.7 L713.0,1444.8 L714.5,1445.4 L716.0,1451.6 L717.5,1446.2 L719.0,1451.5 L720.5,1451.0 L722.0,1448.2 L723.5,1445.1 L725.0,1451.6 L726.5,1447.3 L728.0,1446.5 L729.5,1445.7 L731.0,1451.7 L732.5,1447.2 L734.0,1445.4 L735.5,1447.1 L737.0,1443.9 L738.5,1448.4 L740.0,1446.8 L741.5,1445.4 L743.0,1449.8 L744.5,1450.2 L746.0,1442.9 L747.5,1447.6 L749.0,1445.3 L750.5,1451.2 L752.0,1449.8 L753.5,1445.0 L755.0,1445.2 L756.5,1444.2 L758.0,1451.7 L759.5,1445.4 L761.0,1448.3 L762.5,1447.1 L764.0,1448.6 L765.5,1448.2 L767.0,1449.5 L768.5,1443.9 L770.0,1449.6 L771.5,1445.5 L773.0,1447.6 L774.5,1445.8 L776.0,1445.5 L777.5,1447.6 L779.0,1447.0 L780.5,1446.0 L782.0,1449.5 L783.5,1448.1 L785.0,1443.1 L786.5,1445.1 L788.0,1446.9 L789.5,1451.0 L791.0,1450.8 L792.5,1447.7 L794.0,1442.9 L795.5,1449.8 L797.0,1446.6 L798.5,1448.0 L800.0,1449.2 L801.5,1448.5 L803.0,1447.1 L804.5,1451.0 L806.0,1446.3 L807.5,1446.3 L809.0,1450.5 L810.5,1444.6 L812.0,1445.5 L813.5,1450.3 L815.0,1443.4 L816.5,1450.3 L818.0,1449.1 L819.5,1446.7 L821.0,1445.4 L822.5,1449.8 L824.0,1451.0 L825.5,1444.1 L827.0,1447.1 L828.5,1447.7 L830.0,1447.3 L831.5,1445.8 L833.0,1444.2 L834.5,1448.1 L836.0,1450.1 L837.5,1443.4 L839.0,1444.9 L840.5,1450.2 L842.0,1449.9 L843.5,1448.8 L845.0,1443.0 L846.5,1449.3 L848.0,1451.6 L849.5,1451.8 L851.0,1449.1 L852.5,1443.2 L854.0,1450.4 L855.5,1444.8 L857.0,1448.6 L858.5,1451.4 L860.0,1449.2 L861.5,1444.0 L863.0,1445.4 L864.5,1451.1 L866.0,1444.1 L867.5,1448.3 L869.0,1446.5 L870.5,1444.3 L872.0,1448.4 L873.5,1443.2 L875.0,1443.8 L876.5,1446.2 L878.0,1443.4 L879.5,1443.3 L881.0,1448.0 L882.5,1449.5 L884.0,1450.7 L885.5,1444.0 L887.0,1446.7 L888.5,1445.6 L890.0,1448.2 L891.5,1447.2 L893.0,1451.2 L894.5,1446.2 L896.0,1443.3 L897.5,1449.1 L899.0,1444.2 L900.5,1448.5 L902.0,1447.4 L903.5,1451.0 L905.0,1447.8 L906.5,1448.4 L908.0,1445.2 L909.5,1447.8 L911.0,1445.1 L912.5,1449.6 L914.0,1447.5 L915.5,1444.0 L917.0,1444.9 L918.5,1446.1 L920.0,1449.4 L921.5,1444.4 L923.0,1449.2 L924.5,1448.7 L926.0,1443.6 L927.5,1448.8 L929.0,1443.6 L930.5,1443.9 L932.0,1448.1 L933.5,1444.9 L935.0,1450.7 L936.5,1447.1 L938.0,1445.7 L939.5,1450.0 L941.0,1443.1 L942.5,1449.3 L944.0,1443.3 L945.5,1444.2 L947.0,1451.4 L948.5,1448.9 L950.0,1444.8 L951.5,1443.8 L953.0,1451.6 L954.5,1448.8 L956.0,1450.2 L957.5,1444.1 L959.0,1448.4 L960.5,1446.0 L962.0,1444.9 L963.5,1445.8 L965.0,1448.3 L966.5,1445.9 L968.0,1446.3 L969.5,1444.0 L971.0,1450.3 L972.5,1448.6 L974.0,1450.0 L975.5,1446.7 L977.0,1450.5 L978.5,1447.5 L980.0,1448.1 L981.5,1448.0 L983.0,1449.5 L984.5,1446.4 L986.0,1443.7 L987.5,1443.1 L989.0,1444.6 L990.5,1443.2 L992.0,1450.8 L993.5,1447.1 L995.0,1449.6 L996.5,1442.8 L998.0,1447.0 L999.5,1450.8 L1001.0,1448.4 L1002.5,1446.7 L1004.0,1447.0 L1005.5,1443.7 L1007.0,1444.2 L1008.5,1444.2 L1010.0,1446.2 L1011.5,1446.3 L1013.0,1450.7 L1014.5,1444.2 L1016.0,1445.1 L1017.5,1445.3 L1019.0,1444.3 L1020.5,1445.4 L1022.0,1444.9 L1023.5,1447.1 L1025.0,1443.1 L1026.5,1451.1 L1028.0,1446.1 L1029.5,1451.2 L1031.0,1449.0 L1032.5,1448.9 L1034.0,1447.0 L1035.5,1451.3 L1037.0,1443.9 L1038.5,1448.8 L1040.0,1445.4 L1041.5,1448.9 L1043.0,1449.4 L1044.5,1444.3 L1046.0,1444.6 L1047.5,1443.0 L1049.0,1444.9 L1050.5,1443.5 L1052.0,1446.4 L1053.5,1451.6 L1055.0,1446.1 L1056.5,1445.6 L1058.0,1447.0 L1059.5,1445.3 L1061.0,1449.4 L1062.5,1449.3 L1064.0,1444.3 L1065.5,1445.0 L1067.0,1448.8 L1068.5,1451.3 L1070.0,1448.6 L1071.5,1446.7 L1073.0,1451.6 L1074.5,1442.9 L1076.0,1443.3 L1077.5,1449.8 L1079.0,1446.5 L1080.5,1443.2 L1082.0,1447.7 L1083.5,1451.7 L1085.0,1447.5 L1086.5,1446.0 L1088.0,1443.6 L1089.5,1443.4 L1091.0,1450.9 L1092.5,1447.2 L1094.0,1451.2 L1095.5,1443.3 L1097.0,1445.0 L1098.5,1443.3 L1100.0,1446.4 L1101.5,1443.3 L1103.0,1445.1 L1104.5,1446.5 L1106.0,1445.6 L1107.5,1443.3 L1109.0,1443.1 L1110.5,1451.5 L1112.0,1444.4 L1113.5,1447.4 L1115.0,1446.4 L1116.5,1447.6 L1118.0,1443.6 L1119.5,1445.6 L1121.0,1443.8 L1122.5,1447.7 L1124.0,1451.1 L1125.5,1448.2 L1127.0,1450.5 L1128.5,1444.7 L1130.0,1443.0 L1131.5,1447.7 L1133.0,1447.2 L1134.5,1447.9 L1136.0,1446.2 L1137.5,1448.4 L1139.0,1449.3 L1140.5,1451.0 L1142.0,1445.6 L1143.5,1446.8 L1145.0,1450.2 L1146.5,1444.8 L1148.0,1443.8 L1149.5,1445.6 L1151.0,1443.6 L1152.5,1449.8 L1154.0,1450.2 L1155.5,1445.6 L1157.0,1444.0 L1158.5,1443.5 L1160.0,1445.0 L1161.5,1443.6 L1163.0,1446.7 L1164.5,1448.0 L1166.0,1445.0 L1167.5,1443.4 L1169.0,1449.1 L1170.5,1443.2 L1172.0,1444.6 L1173.5,1445.4 L1175.0,1446.2 L1176.5,1443.7 L1178.0,1446.6 L1179.5,1445.6 L1181.0,1449.6 L1182.5,1447.8 L1184.0,1450.9 L1185.5,1448.7 L1187.0,1449.6 L1188.5,1448.0 L1190.0,1446.8 L1191.5,1450.2 L1193.0,1448.7 L1194.5,1451.4 L1196.0,1449.4 L1197.5,1449.1 L1199.0,1445.2 L1200.5,1450.1 L1202.0,1446.2 L1203.5,1444.0 L1205.0,1443.4 L1206.5,1444.3 L1208.0,1445.2 L1209.5,1448.9 L1211.0,1445.4 L1212.5,1443.4 L1214.0,1449.7 L1215.5,1447.8 L1217.0,1443.0 L1218.5,1443.3 L1220.0,1444.0 L1221.5,1446.0 L1223.0,1450.5 L1224.5,1451.3 L1226.0,1448.3 L1227.5,1444.9 L1229.0,1446.7 L1230.5,1446.1 L1232.0,1445.8 L1233.5,1442.9 L1235.0,1448.1 L1236.5,1450.2 L1238.0,1449.3 L1239.5,1443.7 L1241.0,1447.6 L1242.5,1444.3 L1244.0,1449.2 L1245.5,1446.8 L1247.0,1451.2 L1248.5,1450.0 L1250.0,1443.9 L1251.5,1445.7 L1253.0,1451.0 L1254.5,1446.9 L1256.0,1446.7 L1257.5,1446.8 L1259.0,1449.7 L1260.5,1451.2 L1262.0,1447.6 L1263.5,1451.5 L1265.0,1448.2 L1266.5,1443.7 L1268.0,1450.1 L1269.5,1446.6 L1271.0,1443.3 L1272.5,1451.6 L1274.0,1443.1 L1275.5,1448.0 L1277.0,1447.1 L1278.5,1450.7 L1280.0,1446.3 L1281.5,1444.7 L1283.0,1445.3 L1284.5,1444.6 L1286.0,1447.9 L1287.5,1446.0 L1289.0,1449.6 L1290.5,1445.0 L1292.0,1446.0 L1293.5,1445.0 L1295.0,1451.6 L1296.5,1450.4 L1298.0,1450.4 L1299.5,1448.4 L1301.0,1446.4 L1302.5,1444.1 L1304.0,1450.3 L1305.5,1447.2 L1307.0,1443.1 L1308.5,1444.3 L1310.0,1443.7 L1311.5,1449.3 L1313.0,1450.9 L1314.5,1444.6 L1316.0,1450.0 L1317.5,1445.7 L1319.0,1448.9 L1320.5,1450.6 L1322.0,1448.4 L1323.5,1450.0 L1325.0,1446.2 L1326.5,1442.9 L1328.0,1447.4 L1329.5,1448.1 L1331.0,1444.5 L1332.5,1446.3 L1334.0,1445.7 L1335.5,1443.0 L1337.0,1445.6 L1338.5,1446.2 L1340.0,1447.1 L1341.5,1449.1 L1343.0,1446.4 L1344.5,1451.6 L1346.0,1450.1 L1347.5,1451.1 L1349.0,1449.0 L1350.5,1448.8 L1352.0,1447.6 L1353.5,1450.0 L1355.0,1446.1 L1356.5,1448.1 L1358.0,1448.9 L1359.5,1447.5 L1361.0,1445.4 L1362.5,1443.5 L1364.0,1443.6 L1365.5,1446.0 L1367.0,1448.0 L1368.5,1449.6 L1370.0,1449.2 L1371.5,1445.6 L1373.0,1451.2 L1374.5,1445.3 L1376.0,1449.2 L1377.5,1443.4 L1379.0,1449.6 L1380.5,1448.8 L1382.0,1451.4 L1383.5,1450.9 L1385.0,1449.0 L1386.5,1450.3 L1388.0,1449.4 L1389.5,1448.3 L1391.0,1444.7 L1392.5,1447.5 L1394.0,1450.9 L1395.5,1445.0 L1397.0,1451.6 L1398.5,1447.7 L1400.0,1446.3 L1401.5,1442.8 L1403.0,1446.3 L1404.5,1444.4 L1406.0,1448.7 L1407.5,1450.9 L1409.0,1451.0 L1410.5,1448.3 L1412.0,1446.3 L1413.5,1443.8 L1415.0,1449.0 L1416.5,1447.8 L1418.0,1449.2 L1419.5,1446.2 L1421.0,1450.8 L1422.5,1444.7 L1424.0,1445.6 L1425.5,1445.2 L1427.0,1448.4 L1428.5,1450.9 L1430.0,1444.3 L1431.5,1448.5 L1433.0,1449.7 L1434.5,1444.8 L1436.0,1443.4 L1437.5,1447.9 L1439.0,1450.3 L1440.5,1450.7 L1442.0,1449.4 L1443.5,1446.6 L1445.0,1446.6 L1446.5,1447.6 L1448.0,1450.9 L1449.5,1445.5 L1451.0,1445.3 L1452.5,1448.2 L1454.0,1451.5 L1455.5,1444.5 L1457.0,1443.1 L1458.5,1443.8 L1460.0,1447.9 L1461.5,1448.2 L1463.0,1444.5 L1464.5,1444.5 L1466.0,1448.2 L1467.5,1448.6 L1469.0,1449.0 L1470.5,1449.4 L1472.0,1443.4 L1473.5,1447.2 L1475.0,1450.3 L1476.5,1451.4 L1478.0,1445.7 L1479.5,1450.5 L1481.0,1448.6 L1482.5,1451.1 L1484.0,1444.9 L1485.5,1449.1 L1487.0,1450.4 L1488.5,1447.1 L1490.0,1443.7 L1491.5,1444.5 L1493.0,1444.2 L1494.5,1443.6 L1496.0,1444.2 L1497.5,1448.3 L1499.0,1443.7 L1500.5,1449.6 L1502.0,1449.4 L1503.5,1450.1 L1505.0,1450.0 L1506.5,1449.2 L1508.0,1451.1 L1509.5,1451.4 L1511.0,1448.4 L1512.5,1451.5 L1514.0,1443.7 L1515.5,1443.7 L1517.0,1443.4 L1518.5,1444.7 L1520.0,1446.2 L1521.5,1446.9 L1523.0,1448.9 L1524.5,1449.5 L1526.0,1443.6 L1527.5,1446.4 L1529.0,1447.7 L1530.5,1446.2 L1532.0,1443.9 L1533.5,1448.2 L1535.0,1446.2 L1536.5,1449.0 L1538.0,1447.3 L1539.5,1451.5 L1541.0,1451.3 L1542.5,1443.4 L1544.0,1449.6 L1545.5,1449.3 L1547.0,1445.5 L1548.5,1443.9 L1550.0,1447.1 L1551.5,1446.0 L1553.0,1449.4 L1554.5,1451.1 L1556.0,1446.2 L1557.5,1445.4 L1559.0,1447.3 L1560.5,1449.1 L1562.0,1449.9 L1563.5,1448.0 L1565.0,1445.5 L1566.5,1445.8 L1568.0,1450.4 L1569.5,1447.5 L1571.0,1443.3 L1572.5,1446.6 L1574.0,1444.9 L1575.5,1448.8 L1577.0,1443.5 L1578.5,1445.2 L1580.0,1443.7 L1581.5,1447.1 L1583.0,1451.7 L1584.5,1447.7 L1586.0,1446.3 L1587.5,1451.2 L1589.0,1443.6 L1590.5,1446.0 L1592.0,1450.1 L1593.5,1442.8 L1595.0,1449.7 L1596.5,1446.0 L1598.0,1442.9 L1599.5,1445.1 L1601.0,1446.9 L1602.5,1446.2 L1604.0,1447.5 L1605.5,1443.3 L1607.0,1444.8 L1608.5,1451.6 L1610.0,1446.8 L1611.5,1447.0 L1613.0,1443.6 L1614.5,1445.3 L1616.0,1451.4 L1617.5,1449.0 L1619.0,1447.4 L1620.5,1443.3 L1622.0,1446.3 L1623.5,1449.8 L1625.0,1446.7 L1626.5,1448.1 L1628.0,1450.9 L1629.5,1448.6 L1631.0,1448.5 L1632.5,1443.1 L1634.0,1443.0 L1635.5,1449.7 L1637.0,1446.5 L1638.5,1450.7 L1640.0,1450.2 L1641.5,1451.0 L1643.0,1446.2 L1644.5,1451.8 L1646.0,1449.6 L1647.5,1450.8 L1649.0,1444.1 L1650.5,1449.8 L1652.0,1446.6 L1653.5,1451.5 L1655.0,1451.7 L1656.5,1444.8 L1658.0,1446.6 L1659.5,1445.2 L1661.0,1447.0 L1662.5,1445.4 L1664.0,1448.8 L1665.5,1443.9 L1667.0,1444.3 L1668.5,1446.9 L1670.0,1443.5 L1671.5,1446.2 L1673.0,1450.9 L1674.5,1450.8 L1676.0,1444.6 L1677.5,1443.0 L1679.0,1450.3 L1680.5,1451.4 L1682.0,1448.2 L1683.5,1444.0 L1685.0,1444.9 L1686.5,1451.1 L1688.0,1451.2 L1689.5,1443.1" fill="none" stroke="#fff" stroke-width="9" stroke-linecap="round" stroke-linejoin="round" stroke-dasharray="17 16.5"/><path d="M332.0,1448.4 L333.5,1449.5 L335.0,1450.0 L336.5,1451.3 L338.0,1449.5 L339.5,1451.1 L341.0,1443.1 L342.5,1447.0 L344.0,1451.3 L345.5,1448.6 L347.0,1450.9 L348.5,1443.8 L350.0,1447.0 L351.5,1445.0 L353.0,1447.7 L354.5,1448.0 L356.0,1442.9 L357.5,1444.8 L359.0,1445.3 L360.5,1451.0 L362.0,1449.7 L363.5,1444.2 L365.0,1450.0 L366.5,1444.0 L368.0,1448.4 L369.5,1443.9 L371.0,1442.8 L372.5,1450.6 L374.0,1444.7 L375.5,1444.7 L377.0,1451.6 L378.5,1450.7 L380.0,1445.4 L381.5,1451.5 L383.0,1447.7 L384.5,1448.9 L386.0,1444.6 L387.5,1451.3 L389.0,1449.0 L390.5,1451.5 L392.0,1450.8 L393.5,1445.5 L395.0,1446.1 L396.5,1444.3 L398.0,1444.1 L399.5,1443.4 L401.0,1445.5 L402.5,1448.2 L404.0,1442.8 L405.5,1448.9 L407.0,1445.8 L408.5,1445.6 L410.0,1450.2 L411.5,1447.1 L413.0,1445.6 L414.5,1447.1 L416.0,1449.1 L417.5,1443.3 L419.0,1451.6 L420.5,1443.0 L422.0,1449.5 L423.5,1450.4 L425.0,1443.0 L426.5,1449.9 L428.0,1446.1 L429.5,1448.0 L431.0,1442.9 L432.5,1443.2 L434.0,1444.4 L435.5,1451.4 L437.0,1444.6 L438.5,1449.6 L440.0,1451.2 L441.5,1451.3 L443.0,1445.9 L444.5,1446.0 L446.0,1447.5 L447.5,1449.8 L449.0,1443.8 L450.5,1449.5 L452.0,1450.0 L453.5,1450.5 L455.0,1443.1 L456.5,1451.3 L458.0,1443.6 L459.5,1445.9 L461.0,1448.3 L462.5,1451.1 L464.0,1445.9 L465.5,1451.1 L467.0,1447.7 L468.5,1445.6 L470.0,1445.7 L471.5,1444.4 L473.0,1443.5 L474.5,1444.1 L476.0,1449.0 L477.5,1451.8 L479.0,1444.3 L480.5,1443.2 L482.0,1451.7 L483.5,1447.6 L485.0,1446.5 L486.5,1444.9 L488.0,1448.1 L489.5,1450.2 L491.0,1446.9 L492.5,1446.6 L494.0,1443.3 L495.5,1451.0 L497.0,1443.1 L498.5,1447.2 L500.0,1450.3 L501.5,1444.0 L503.0,1449.4 L504.5,1451.3 L506.0,1448.5 L507.5,1449.9 L509.0,1443.8 L510.5,1446.7 L512.0,1444.1 L513.5,1450.4 L515.0,1445.5 L516.5,1446.9 L518.0,1451.8 L519.5,1450.5 L521.0,1451.6 L522.5,1446.9 L524.0,1447.2 L525.5,1449.4 L527.0,1447.1 L528.5,1445.4 L530.0,1446.4 L531.5,1444.1 L533.0,1446.2 L534.5,1451.7 L536.0,1451.4 L537.5,1448.4 L539.0,1447.3 L540.5,1445.8 L542.0,1443.6 L543.5,1445.3 L545.0,1449.8 L546.5,1450.6 L548.0,1446.1 L549.5,1449.9 L551.0,1449.8 L552.5,1449.1 L554.0,1448.8 L555.5,1449.6 L557.0,1446.1 L558.5,1449.1 L560.0,1445.3 L561.5,1447.2 L563.0,1449.7 L564.5,1449.0 L566.0,1445.4 L567.5,1451.3 L569.0,1448.6 L570.5,1448.0 L572.0,1442.9 L573.5,1447.7 L575.0,1445.1 L576.5,1448.8 L578.0,1447.0 L579.5,1450.2 L581.0,1448.6 L582.5,1450.0 L584.0,1445.9 L585.5,1448.6 L587.0,1449.4 L588.5,1450.3 L590.0,1446.0 L591.5,1450.4 L593.0,1450.6 L594.5,1449.0 L596.0,1451.6 L597.5,1451.4 L599.0,1447.5 L600.5,1447.6 L602.0,1444.3 L603.5,1450.3 L605.0,1451.2 L606.5,1447.1 L608.0,1449.0 L609.5,1449.3 L611.0,1449.4 L612.5,1444.3 L614.0,1449.8 L615.5,1448.0 L617.0,1448.8 L618.5,1446.6 L620.0,1448.4 L621.5,1449.8 L623.0,1448.5 L624.5,1449.3 L626.0,1443.0 L627.5,1444.2 L629.0,1446.8 L630.5,1448.7 L632.0,1444.8 L633.5,1449.0 L635.0,1448.5 L636.5,1443.2 L638.0,1447.0 L639.5,1444.8 L641.0,1443.3 L642.5,1444.0 L644.0,1445.7 L645.5,1444.4 L647.0,1444.5 L648.5,1443.1 L650.0,1447.0 L651.5,1446.2 L653.0,1448.3 L654.5,1448.1 L656.0,1444.9 L657.5,1450.9 L659.0,1442.8 L660.5,1446.4 L662.0,1445.3 L663.5,1446.5 L665.0,1443.8 L666.5,1450.3 L668.0,1446.2 L669.5,1443.1 L671.0,1448.3 L672.5,1443.7 L674.0,1447.7 L675.5,1445.9 L677.0,1448.0 L678.5,1451.4 L680.0,1450.2 L681.5,1446.6 L683.0,1450.1 L684.5,1448.6 L686.0,1446.1 L687.5,1444.1 L689.0,1448.2 L690.5,1447.9 L692.0,1451.4 L693.5,1451.5 L695.0,1448.3 L696.5,1446.0 L698.0,1450.8 L699.5,1442.8 L701.0,1443.8 L702.5,1447.9 L704.0,1448.3 L705.5,1444.1 L707.0,1448.5 L708.5,1450.8 L710.0,1446.2 L711.5,1446.7 L713.0,1444.8 L714.5,1445.4 L716.0,1451.6 L717.5,1446.2 L719.0,1451.5 L720.5,1451.0 L722.0,1448.2 L723.5,1445.1 L725.0,1451.6 L726.5,1447.3 L728.0,1446.5 L729.5,1445.7 L731.0,1451.7 L732.5,1447.2 L734.0,1445.4 L735.5,1447.1 L737.0,1443.9 L738.5,1448.4 L740.0,1446.8 L741.5,1445.4 L743.0,1449.8 L744.5,1450.2 L746.0,1442.9 L747.5,1447.6 L749.0,1445.3 L750.5,1451.2 L752.0,1449.8 L753.5,1445.0 L755.0,1445.2 L756.5,1444.2 L758.0,1451.7 L759.5,1445.4 L761.0,1448.3 L762.5,1447.1 L764.0,1448.6 L765.5,1448.2 L767.0,1449.5 L768.5,1443.9 L770.0,1449.6 L771.5,1445.5 L773.0,1447.6 L774.5,1445.8 L776.0,1445.5 L777.5,1447.6 L779.0,1447.0 L780.5,1446.0 L782.0,1449.5 L783.5,1448.1 L785.0,1443.1 L786.5,1445.1 L788.0,1446.9 L789.5,1451.0 L791.0,1450.8 L792.5,1447.7 L794.0,1442.9 L795.5,1449.8 L797.0,1446.6 L798.5,1448.0 L800.0,1449.2 L801.5,1448.5 L803.0,1447.1 L804.5,1451.0 L806.0,1446.3 L807.5,1446.3 L809.0,1450.5 L810.5,1444.6 L812.0,1445.5 L813.5,1450.3 L815.0,1443.4 L816.5,1450.3 L818.0,1449.1 L819.5,1446.7 L821.0,1445.4 L822.5,1449.8 L824.0,1451.0 L825.5,1444.1 L827.0,1447.1 L828.5,1447.7 L830.0,1447.3 L831.5,1445.8 L833.0,1444.2 L834.5,1448.1 L836.0,1450.1 L837.5,1443.4 L839.0,1444.9 L840.5,1450.2 L842.0,1449.9 L843.5,1448.8 L845.0,1443.0 L846.5,1449.3 L848.0,1451.6 L849.5,1451.8 L851.0,1449.1 L852.5,1443.2 L854.0,1450.4 L855.5,1444.8 L857.0,1448.6 L858.5,1451.4 L860.0,1449.2 L861.5,1444.0 L863.0,1445.4 L864.5,1451.1 L866.0,1444.1 L867.5,1448.3 L869.0,1446.5 L870.5,1444.3 L872.0,1448.4 L873.5,1443.2 L875.0,1443.8 L876.5,1446.2 L878.0,1443.4 L879.5,1443.3 L881.0,1448.0 L882.5,1449.5 L884.0,1450.7 L885.5,1444.0 L887.0,1446.7 L888.5,1445.6 L890.0,1448.2 L891.5,1447.2 L893.0,1451.2 L894.5,1446.2 L896.0,1443.3 L897.5,1449.1 L899.0,1444.2 L900.5,1448.5 L902.0,1447.4 L903.5,1451.0 L905.0,1447.8 L906.5,1448.4 L908.0,1445.2 L909.5,1447.8 L911.0,1445.1 L912.5,1449.6 L914.0,1447.5 L915.5,1444.0 L917.0,1444.9 L918.5,1446.1 L920.0,1449.4 L921.5,1444.4 L923.0,1449.2 L924.5,1448.7 L926.0,1443.6 L927.5,1448.8 L929.0,1443.6 L930.5,1443.9 L932.0,1448.1 L933.5,1444.9 L935.0,1450.7 L936.5,1447.1 L938.0,1445.7 L939.5,1450.0 L941.0,1443.1 L942.5,1449.3 L944.0,1443.3 L945.5,1444.2 L947.0,1451.4 L948.5,1448.9 L950.0,1444.8 L951.5,1443.8 L953.0,1451.6 L954.5,1448.8 L956.0,1450.2 L957.5,1444.1 L959.0,1448.4 L960.5,1446.0 L962.0,1444.9 L963.5,1445.8 L965.0,1448.3 L966.5,1445.9 L968.0,1446.3 L969.5,1444.0 L971.0,1450.3 L972.5,1448.6 L974.0,1450.0 L975.5,1446.7 L977.0,1450.5 L978.5,1447.5 L980.0,1448.1 L981.5,1448.0 L983.0,1449.5 L984.5,1446.4 L986.0,1443.7 L987.5,1443.1 L989.0,1444.6 L990.5,1443.2 L992.0,1450.8 L993.5,1447.1 L995.0,1449.6 L996.5,1442.8 L998.0,1447.0 L999.5,1450.8 L1001.0,1448.4 L1002.5,1446.7 L1004.0,1447.0 L1005.5,1443.7 L1007.0,1444.2 L1008.5,1444.2 L1010.0,1446.2 L1011.5,1446.3 L1013.0,1450.7 L1014.5,1444.2 L1016.0,1445.1 L1017.5,1445.3 L1019.0,1444.3 L1020.5,1445.4 L1022.0,1444.9 L1023.5,1447.1 L1025.0,1443.1 L1026.5,1451.1 L1028.0,1446.1 L1029.5,1451.2 L1031.0,1449.0 L1032.5,1448.9 L1034.0,1447.0 L1035.5,1451.3 L1037.0,1443.9 L1038.5,1448.8 L1040.0,1445.4 L1041.5,1448.9 L1043.0,1449.4 L1044.5,1444.3 L1046.0,1444.6 L1047.5,1443.0 L1049.0,1444.9 L1050.5,1443.5 L1052.0,1446.4 L1053.5,1451.6 L1055.0,1446.1 L1056.5,1445.6 L1058.0,1447.0 L1059.5,1445.3 L1061.0,1449.4 L1062.5,1449.3 L1064.0,1444.3 L1065.5,1445.0 L1067.0,1448.8 L1068.5,1451.3 L1070.0,1448.6 L1071.5,1446.7 L1073.0,1451.6 L1074.5,1442.9 L1076.0,1443.3 L1077.5,1449.8 L1079.0,1446.5 L1080.5,1443.2 L1082.0,1447.7 L1083.5,1451.7 L1085.0,1447.5 L1086.5,1446.0 L1088.0,1443.6 L1089.5,1443.4 L1091.0,1450.9 L1092.5,1447.2 L1094.0,1451.2 L1095.5,1443.3 L1097.0,1445.0 L1098.5,1443.3 L1100.0,1446.4 L1101.5,1443.3 L1103.0,1445.1 L1104.5,1446.5 L1106.0,1445.6 L1107.5,1443.3 L1109.0,1443.1 L1110.5,1451.5 L1112.0,1444.4 L1113.5,1447.4 L1115.0,1446.4 L1116.5,1447.6 L1118.0,1443.6 L1119.5,1445.6 L1121.0,1443.8 L1122.5,1447.7 L1124.0,1451.1 L1125.5,1448.2 L1127.0,1450.5 L1128.5,1444.7 L1130.0,1443.0 L1131.5,1447.7 L1133.0,1447.2 L1134.5,1447.9 L1136.0,1446.2 L1137.5,1448.4 L1139.0,1449.3 L1140.5,1451.0 L1142.0,1445.6 L1143.5,1446.8 L1145.0,1450.2 L1146.5,1444.8 L1148.0,1443.8 L1149.5,1445.6 L1151.0,1443.6 L1152.5,1449.8 L1154.0,1450.2 L1155.5,1445.6 L1157.0,1444.0 L1158.5,1443.5 L1160.0,1445.0 L1161.5,1443.6 L1163.0,1446.7 L1164.5,1448.0 L1166.0,1445.0 L1167.5,1443.4 L1169.0,1449.1 L1170.5,1443.2 L1172.0,1444.6 L1173.5,1445.4 L1175.0,1446.2 L1176.5,1443.7 L1178.0,1446.6 L1179.5,1445.6 L1181.0,1449.6 L1182.5,1447.8 L1184.0,1450.9 L1185.5,1448.7 L1187.0,1449.6 L1188.5,1448.0 L1190.0,1446.8 L1191.5,1450.2 L1193.0,1448.7 L1194.5,1451.4 L1196.0,1449.4 L1197.5,1449.1 L1199.0,1445.2 L1200.5,1450.1 L1202.0,1446.2 L1203.5,1444.0 L1205.0,1443.4 L1206.5,1444.3 L1208.0,1445.2 L1209.5,1448.9 L1211.0,1445.4 L1212.5,1443.4 L1214.0,1449.7 L1215.5,1447.8 L1217.0,1443.0 L1218.5,1443.3 L1220.0,1444.0 L1221.5,1446.0 L1223.0,1450.5 L1224.5,1451.3 L1226.0,1448.3 L1227.5,1444.9 L1229.0,1446.7 L1230.5,1446.1 L1232.0,1445.8 L1233.5,1442.9 L1235.0,1448.1 L1236.5,1450.2 L1238.0,1449.3 L1239.5,1443.7 L1241.0,1447.6 L1242.5,1444.3 L1244.0,1449.2 L1245.5,1446.8 L1247.0,1451.2 L1248.5,1450.0 L1250.0,1443.9 L1251.5,1445.7 L1253.0,1451.0 L1254.5,1446.9 L1256.0,1446.7 L1257.5,1446.8 L1259.0,1449.7 L1260.5,1451.2 L1262.0,1447.6 L1263.5,1451.5 L1265.0,1448.2 L1266.5,1443.7 L1268.0,1450.1 L1269.5,1446.6 L1271.0,1443.3 L1272.5,1451.6 L1274.0,1443.1 L1275.5,1448.0 L1277.0,1447.1 L1278.5,1450.7 L1280.0,1446.3 L1281.5,1444.7 L1283.0,1445.3 L1284.5,1444.6 L1286.0,1447.9 L1287.5,1446.0 L1289.0,1449.6 L1290.5,1445.0 L1292.0,1446.0 L1293.5,1445.0 L1295.0,1451.6 L1296.5,1450.4 L1298.0,1450.4 L1299.5,1448.4 L1301.0,1446.4 L1302.5,1444.1 L1304.0,1450.3 L1305.5,1447.2 L1307.0,1443.1 L1308.5,1444.3 L1310.0,1443.7 L1311.5,1449.3 L1313.0,1450.9 L1314.5,1444.6 L1316.0,1450.0 L1317.5,1445.7 L1319.0,1448.9 L1320.5,1450.6 L1322.0,1448.4 L1323.5,1450.0 L1325.0,1446.2 L1326.5,1442.9 L1328.0,1447.4 L1329.5,1448.1 L1331.0,1444.5 L1332.5,1446.3 L1334.0,1445.7 L1335.5,1443.0 L1337.0,1445.6 L1338.5,1446.2 L1340.0,1447.1 L1341.5,1449.1 L1343.0,1446.4 L1344.5,1451.6 L1346.0,1450.1 L1347.5,1451.1 L1349.0,1449.0 L1350.5,1448.8 L1352.0,1447.6 L1353.5,1450.0 L1355.0,1446.1 L1356.5,1448.1 L1358.0,1448.9 L1359.5,1447.5 L1361.0,1445.4 L1362.5,1443.5 L1364.0,1443.6 L1365.5,1446.0 L1367.0,1448.0 L1368.5,1449.6 L1370.0,1449.2 L1371.5,1445.6 L1373.0,1451.2 L1374.5,1445.3 L1376.0,1449.2 L1377.5,1443.4 L1379.0,1449.6 L1380.5,1448.8 L1382.0,1451.4 L1383.5,1450.9 L1385.0,1449.0 L1386.5,1450.3 L1388.0,1449.4 L1389.5,1448.3 L1391.0,1444.7 L1392.5,1447.5 L1394.0,1450.9 L1395.5,1445.0 L1397.0,1451.6 L1398.5,1447.7 L1400.0,1446.3 L1401.5,1442.8 L1403.0,1446.3 L1404.5,1444.4 L1406.0,1448.7 L1407.5,1450.9 L1409.0,1451.0 L1410.5,1448.3 L1412.0,1446.3 L1413.5,1443.8 L1415.0,1449.0 L1416.5,1447.8 L1418.0,1449.2 L1419.5,1446.2 L1421.0,1450.8 L1422.5,1444.7 L1424.0,1445.6 L1425.5,1445.2 L1427.0,1448.4 L1428.5,1450.9 L1430.0,1444.3 L1431.5,1448.5 L1433.0,1449.7 L1434.5,1444.8 L1436.0,1443.4 L1437.5,1447.9 L1439.0,1450.3 L1440.5,1450.7 L1442.0,1449.4 L1443.5,1446.6 L1445.0,1446.6 L1446.5,1447.6 L1448.0,1450.9 L1449.5,1445.5 L1451.0,1445.3 L1452.5,1448.2 L1454.0,1451.5 L1455.5,1444.5 L1457.0,1443.1 L1458.5,1443.8 L1460.0,1447.9 L1461.5,1448.2 L1463.0,1444.5 L1464.5,1444.5 L1466.0,1448.2 L1467.5,1448.6 L1469.0,1449.0 L1470.5,1449.4 L1472.0,1443.4 L1473.5,1447.2 L1475.0,1450.3 L1476.5,1451.4 L1478.0,1445.7 L1479.5,1450.5 L1481.0,1448.6 L1482.5,1451.1 L1484.0,1444.9 L1485.5,1449.1 L1487.0,1450.4 L1488.5,1447.1 L1490.0,1443.7 L1491.5,1444.5 L1493.0,1444.2 L1494.5,1443.6 L1496.0,1444.2 L1497.5,1448.3 L1499.0,1443.7 L1500.5,1449.6 L1502.0,1449.4 L1503.5,1450.1 L1505.0,1450.0 L1506.5,1449.2 L1508.0,1451.1 L1509.5,1451.4 L1511.0,1448.4 L1512.5,1451.5 L1514.0,1443.7 L1515.5,1443.7 L1517.0,1443.4 L1518.5,1444.7 L1520.0,1446.2 L1521.5,1446.9 L1523.0,1448.9 L1524.5,1449.5 L1526.0,1443.6 L1527.5,1446.4 L1529.0,1447.7 L1530.5,1446.2 L1532.0,1443.9 L1533.5,1448.2 L1535.0,1446.2 L1536.5,1449.0 L1538.0,1447.3 L1539.5,1451.5 L1541.0,1451.3 L1542.5,1443.4 L1544.0,1449.6 L1545.5,1449.3 L1547.0,1445.5 L1548.5,1443.9 L1550.0,1447.1 L1551.5,1446.0 L1553.0,1449.4 L1554.5,1451.1 L1556.0,1446.2 L1557.5,1445.4 L1559.0,1447.3 L1560.5,1449.1 L1562.0,1449.9 L1563.5,1448.0 L1565.0,1445.5 L1566.5,1445.8 L1568.0,1450.4 L1569.5,1447.5 L1571.0,1443.3 L1572.5,1446.6 L1574.0,1444.9 L1575.5,1448.8 L1577.0,1443.5 L1578.5,1445.2 L1580.0,1443.7 L1581.5,1447.1 L1583.0,1451.7 L1584.5,1447.7 L1586.0,1446.3 L1587.5,1451.2 L1589.0,1443.6 L1590.5,1446.0 L1592.0,1450.1 L1593.5,1442.8 L1595.0,1449.7 L1596.5,1446.0 L1598.0,1442.9 L1599.5,1445.1 L1601.0,1446.9 L1602.5,1446.2 L1604.0,1447.5 L1605.5,1443.3 L1607.0,1444.8 L1608.5,1451.6 L1610.0,1446.8 L1611.5,1447.0 L1613.0,1443.6 L1614.5,1445.3 L1616.0,1451.4 L1617.5,1449.0 L1619.0,1447.4 L1620.5,1443.3 L1622.0,1446.3 L1623.5,1449.8 L1625.0,1446.7 L1626.5,1448.1 L1628.0,1450.9 L1629.5,1448.6 L1631.0,1448.5 L1632.5,1443.1 L1634.0,1443.0 L1635.5,1449.7 L1637.0,1446.5 L1638.5,1450.7 L1640.0,1450.2 L1641.5,1451.0 L1643.0,1446.2 L1644.5,1451.8 L1646.0,1449.6 L1647.5,1450.8 L1649.0,1444.1 L1650.5,1449.8 L1652.0,1446.6 L1653.5,1451.5 L1655.0,1451.7 L1656.5,1444.8 L1658.0,1446.6 L1659.5,1445.2 L1661.0,1447.0 L1662.5,1445.4 L1664.0,1448.8 L1665.5,1443.9 L1667.0,1444.3 L1668.5,1446.9 L1670.0,1443.5 L1671.5,1446.2 L1673.0,1450.9 L1674.5,1450.8 L1676.0,1444.6 L1677.5,1443.0 L1679.0,1450.3 L1680.5,1451.4 L1682.0,1448.2 L1683.5,1444.0 L1685.0,1444.9 L1686.5,1451.1 L1688.0,1451.2 L1689.5,1443.1" fill="none" stroke="#000" stroke-width="0.9" stroke-linecap="round" stroke-linejoin="round" stroke-dasharray="17 16.5"/></mask></defs>
<rect x="300" y="1400" width="1420" height="80" fill="#000" mask="url(#dm)"/>
</g>
<text transform="translate(292.0,1470.8) scale(1,1.045)" text-anchor="end" font-size="51.5">0</text>
<text transform="translate(292.0,1192.2) scale(1,1.045)" text-anchor="end" font-size="51.5">30,000</text>
<text transform="translate(292.0,915.6) scale(1,1.045)" text-anchor="end" font-size="51.5">60,000</text>
<text transform="translate(292.0,638.7) scale(1,1.045)" text-anchor="end" font-size="51.5">90,000</text>
<text transform="translate(292.0,361.8) scale(1,1.045)" text-anchor="end" font-size="51.5">120,000</text>
<text transform="translate(292.0,84.5) scale(1,1.045)" text-anchor="end" font-size="51.5">150,000</text>
<text transform="translate(335.2,1530.8) scale(1,1.045)" text-anchor="middle" font-size="51.5">350</text>
<text transform="translate(558.7,1530.8) scale(1,1.045)" text-anchor="middle" font-size="51.5">400</text>
<text transform="translate(784.3,1530.8) scale(1,1.045)" text-anchor="middle" font-size="51.5">450</text>
<text transform="translate(1008.5,1530.8) scale(1,1.045)" text-anchor="middle" font-size="51.5">500</text>
<text transform="translate(1233.0,1530.8) scale(1,1.045)" text-anchor="middle" font-size="51.5">550</text>
<text transform="translate(1457.7,1530.8) scale(1,1.045)" text-anchor="middle" font-size="51.5">600</text>
<text transform="translate(1680.8,1530.8) scale(1,1.045)" text-anchor="middle" font-size="51.5">650</text>
<text transform="translate(836.7,1635.6) scale(1,1.025)" font-size="58.5" font-weight="bold"><tspan letter-spacing="0.45">Wavelenght</tspan><tspan dx="-3.8"> [nm]</tspan></text>
<text transform="translate(71,1073.6) rotate(-90) scale(1,1.04)" font-size="58" font-weight="bold">Fluorescence intensity<tspan dx="10.8"> [a.u.]</tspan></text>
<path d="M1399.5,122.4 H1493.5" stroke="#000000" stroke-width="9" stroke-linecap="round"/>
<text transform="translate(1503.0,141.0) scale(1,1.045)" text-anchor="start" font-size="51.5">S1</text>
<path d="M1399.5,201.7 H1493.5" stroke="#FF00FF" stroke-width="9" stroke-linecap="round"/>
<text transform="translate(1503.0,220.0) scale(1,1.045)" text-anchor="start" font-size="51.5">S2</text>
<path d="M1399.5,281.0 H1493.5" stroke="#0000FF" stroke-width="9" stroke-linecap="round"/>
<text transform="translate(1503.0,299.0) scale(1,1.045)" text-anchor="start" font-size="51.5">S3</text>
<path d="M1399.5,360.3 H1493.5" stroke="#00FFFF" stroke-width="9" stroke-linecap="round"/>
<text transform="translate(1503.0,378.0) scale(1,1.045)" text-anchor="start" font-size="51.5">S4</text>
<path d="M1399.5,439.6 H1493.5" stroke="#00B050" stroke-width="9" stroke-linecap="round"/>
<text transform="translate(1503.0,457.0) scale(1,1.045)" text-anchor="start" font-size="51.5">S5</text>
<path d="M1399.5,518.9 H1493.5" stroke="#00FF00" stroke-width="9" stroke-linecap="round"/>
<text transform="translate(1503.0,536.0) scale(1,1.045)" text-anchor="start" font-size="51.5">S6</text>
<path d="M1399.5,598.2 H1493.5" stroke="#FFC000" stroke-width="9" stroke-linecap="round"/>
<text transform="translate(1503.0,615.0) scale(1,1.045)" text-anchor="start" font-size="51.5">S7</text>
<path d="M1399.5,677.5 H1493.5" stroke="#FF0000" stroke-width="9" stroke-linecap="round"/>
<text transform="translate(1503.0,694.0) scale(1,1.045)" text-anchor="start" font-size="51.5">S8</text>
<path d="M1399.3,756.8 H1416.1" stroke="#000" stroke-width="9" stroke-linecap="round"/>
<path d="M1399.3,756.8 H1416.1" stroke="#fff" stroke-width="3" stroke-linecap="round"/>
<path d="M1432.5,756.8 H1449.3" stroke="#000" stroke-width="9" stroke-linecap="round"/>
<path d="M1432.5,756.8 H1449.3" stroke="#fff" stroke-width="3" stroke-linecap="round"/>
<path d="M1465.9,756.8 H1482.2" stroke="#000" stroke-width="9" stroke-linecap="round"/>
<path d="M1465.9,756.8 H1482.2" stroke="#fff" stroke-width="3" stroke-linecap="round"/>
<text transform="translate(1503.0,773.6) scale(1,1.045)" text-anchor="start" font-size="51.5">DETX</text>
</svg>
</body></html>
